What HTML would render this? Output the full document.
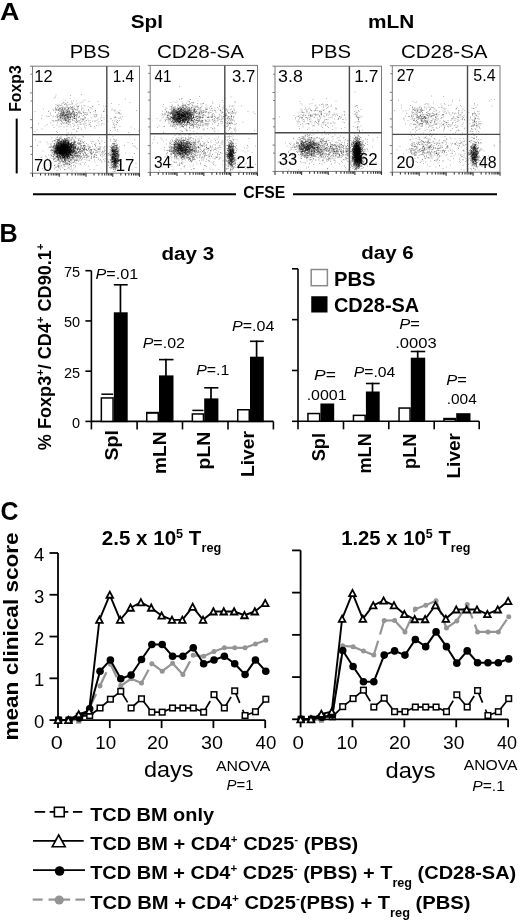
<!DOCTYPE html>
<html><head><meta charset="utf-8"><style>
html,body{margin:0;padding:0;background:#fff;width:520px;height:920px;overflow:hidden}
svg{display:block;filter:blur(0.35px)}
</style></head><body>
<svg width="520" height="920" viewBox="0 0 520 920" font-family='"Liberation Sans", sans-serif'>
<rect width="520" height="920" fill="#fff"/>
<line x1="16.70" y1="118.60" x2="16.70" y2="173.40" stroke="#000" stroke-width="2"/>
<line x1="33.00" y1="194.30" x2="236.00" y2="194.30" stroke="#000" stroke-width="2"/>
<line x1="293.00" y1="194.30" x2="497.00" y2="194.30" stroke="#000" stroke-width="2"/>
<path transform="scale(0.5)" stroke="#000" stroke-width="2" stroke-opacity="0.27" fill="none" d="M139 197h2m109 1h2m-75 5h2m-53 2h2m-10 5h2m-5 1h2m3 0h2m45 0h2m37 1h2m-77 2h2m1 0h2m5 1h2m2 1h2m-38 1h2m25 0h2m-20 1h2m1 0h2m12 0h2m-2 0h2m25 0h2m19 0h2m-40 1h2m-34 1h2m1 0h2m31 0h2m77 2h2m-134 1h2m108 0h2m-84 1h2m7 0h2m55 0h2m39 0h2m-107 1h2m5 0h2m0 0h2m20 0h2m11 0h2m-72 1h2m20 0h2m15 0h2m6 0h2m-24 1h2m18 0h2m88 0h2m-137 1h2m13 0h2m9 0h2m2 0h2m3 0h2m-17 1h2m3 0h2m4 0h2m6 0h2m2 0h2m0 0h2m-25 1h2m0 0h2m3 0h2m-2 0h2m2 0h2m12 0h2m-21 1h2m-24 1h2m19 1h2m6 0h2m-18 1h2m24 0h2m21 0h2m20 0h2m-74 2h2m0 0h2m9 0h2m-5 3h2m-10 2h2m-1 0h2m7 0h2m47 0h2m-42 1h2m-10 1h2m-33 3h2m12 0h2m16 0h2m-15 2h2m17 0h2m21 0h2m-70 1h2m41 0h2m88 0h2m4 0h2m-37 1h2m-43 4h2m10 0h2m-49 18h2m22 0h2m-9 3h2m-22 1h2m1 0h2m27 0h2m-42 2h2m11 0h2m9 0h2m9 0h2m8 0h2m-28 1h2m0 1h2m-17 1h2m-2 0h2m11 0h2m2 0h2m-27 1h2m4 0h2m10 0h2m4 0h2m1 0h2m-33 1h2m7 0h2m-1 0h2m4 0h2m-1 0h2m4 0h2m-1 0h2m8 0h2m-28 1h2m4 0h2m1 0h2m12 0h2m-21 1h2m5 0h2m1 0h2m-1 0h2m12 0h2m-31 1h2m0 0h2m-1 0h2m-1 0h2m5 0h2m0 0h2m0 0h2m3 0h2m-1 0h2m13 0h2m-38 1h2m5 0h2m5 0h2m1 0h2m-2 0h2m10 0h2m-1 0h2m13 0h2m2 0h2m4 0h2m-48 1h2m7 0h2m0 0h2m4 0h2m0 0h2m-29 1h2m12 0h2m1 0h2m2 0h2m1 0h2m1 0h2m-1 0h2m13 0h2m-51 1h2m12 0h2m1 0h2m1 0h2m-2 0h2m-1 0h2m-1 0h2m-1 0h2m0 0h2m0 0h2m-2 0h2m-1 0h2m-26 1h2m0 0h2m0 0h2m3 0h2m0 0h2m1 0h2m2 0h2m2 0h2m-2 0h2m-2 0h2m-1 0h2m0 0h2m5 0h2m-1 0h2m-1 0h2m82 0h2m0 0h2m0 0h2m-128 1h2m3 0h2m5 0h2m1 0h2m-2 0h2m-2 0h2m1 0h2m1 0h2m-2 0h2m0 0h2m3 0h2m-1 0h2m-2 0h2m2 0h2m-2 0h2m1 0h2m7 0h2m-37 1h2m0 0h2m4 0h2m2 0h2m-2 0h2m-1 0h2m3 0h2m-24 1h2m-1 0h2m0 0h2m4 0h2m0 0h2m-1 0h2m0 0h2m3 0h2m-1 0h2m-2 0h2m4 0h2m4 0h2m3 0h2m-2 0h2m16 0h2m-56 1h2m-1 0h2m2 0h2m2 0h2m-1 0h2m-2 0h2m-1 0h2m-1 0h2m-1 0h2m0 0h2m0 0h2m0 0h2m-2 0h2m-2 0h2m3 0h2m2 0h2m0 0h2m3 0h2m5 0h2m70 0h2m-118 1h2m3 0h2m-1 0h2m3 0h2m-2 0h2m-2 0h2m-2 0h2m-1 0h2m-2 0h2m-1 0h2m-1 0h2m-2 0h2m1 0h2m0 0h2m-1 0h2m-2 0h2m-2 0h2m-1 0h2m-2 0h2m-1 0h2m1 0h2m0 0h2m8 0h2m47 0h2m23 0h2m-2 0h2m-2 0h2m-112 1h2m6 0h2m-2 0h2m2 0h2m-2 0h2m-1 0h2m1 0h2m-2 0h2m3 0h2m10 0h2m0 0h2m0 0h2m7 0h2m2 0h2m-41 1h2m-2 0h2m-1 0h2m-2 0h2m-2 0h2m0 0h2m3 0h2m-2 0h2m-2 0h2m0 0h2m-2 0h2m0 0h2m-1 0h2m-1 0h2m-1 0h2m-2 0h2m58 0h2m22 0h2m-1 0h2m-110 1h2m2 0h2m-1 0h2m3 0h2m-1 0h2m1 0h2m-2 0h2m-2 0h2m-1 0h2m-1 0h2m-1 0h2m-2 0h2m1 0h2m0 0h2m14 0h2m13 0h2m14 0h2m1 0h2m36 0h2m-122 1h2m9 0h2m1 0h2m0 0h2m-1 0h2m-1 0h2m0 0h2m1 0h2m-2 0h2m-1 0h2m-1 0h2m-1 0h2m-1 0h2m-1 0h2m0 0h2m0 0h2m-1 0h2m3 0h2m0 0h2m-1 0h2m16 0h2m-1 0h2m9 0h2m-75 1h2m7 0h2m0 0h2m3 0h2m2 0h2m-2 0h2m0 0h2m-2 0h2m1 0h2m1 0h2m-2 0h2m-2 0h2m-1 0h2m2 0h2m-2 0h2m83 0h2m-1 0h2m8 0h2m1 0h2m-153 1h2m30 0h2m0 0h2m2 0h2m1 0h2m-1 0h2m-1 0h2m-1 0h2m0 0h2m-2 0h2m-1 0h2m3 0h2m8 0h2m75 0h2m-2 0h2m-1 0h2m1 0h2m3 0h2m-126 1h2m8 0h2m-2 0h2m-2 0h2m-1 0h2m-2 0h2m1 0h2m-1 0h2m-2 0h2m-1 0h2m-2 0h2m-2 0h2m0 0h2m-2 0h2m4 0h2m-1 0h2m1 0h2m-1 0h2m0 0h2m-1 0h2m3 0h2m2 0h2m0 0h2m5 0h2m47 0h2m17 0h2m-1 0h2m0 0h2m1 0h2m-128 1h2m9 0h2m-1 0h2m-1 0h2m-2 0h2m-1 0h2m1 0h2m4 0h2m-1 0h2m-2 0h2m-1 0h2m7 0h2m-1 0h2m-1 0h2m-1 0h2m35 0h2m44 0h2m-1 0h2m0 0h2m1 0h2m-126 1h2m2 0h2m-2 0h2m-1 0h2m7 0h2m-2 0h2m0 0h2m-2 0h2m0 0h2m-1 0h2m0 0h2m-1 0h2m1 0h2m-2 0h2m0 0h2m0 0h2m3 0h2m40 0h2m6 0h2m41 0h2m-130 1h2m-2 0h2m-2 0h2m10 0h2m1 0h2m-2 0h2m1 0h2m0 0h2m-2 0h2m-1 0h2m4 0h2m-1 0h2m0 0h2m-1 0h2m-2 0h2m-2 0h2m1 0h2m-1 0h2m25 0h2m52 0h2m5 0h2m-1 0h2m-118 1h2m0 0h2m-1 0h2m0 0h2m-2 0h2m3 0h2m5 0h2m-1 0h2m13 0h2m-2 0h2m66 0h2m9 0h2m-1 0h2m1 0h2m-1 0h2m-124 1h2m10 0h2m4 0h2m1 0h2m-2 0h2m5 0h2m6 0h2m0 0h2m2 0h2m28 0h2m5 0h2m19 0h2m13 0h2m-1 0h2m-1 0h2m3 0h2m-121 1h2m5 0h2m9 0h2m0 0h2m4 0h2m66 0h2m15 0h2m1 0h2m5 0h2m-1 0h2m-120 1h2m5 0h2m-1 0h2m3 0h2m-2 0h2m12 0h2m42 0h2m30 0h2m1 0h2m1 0h2m0 0h2m-129 1h2m13 0h2m4 0h2m-1 0h2m-2 0h2m-1 0h2m-1 0h2m2 0h2m2 0h2m2 0h2m26 0h2m24 0h2m-82 1h2m0 0h2m3 0h2m3 0h2m-1 0h2m6 0h2m-2 0h2m-2 0h2m1 0h2m9 0h2m81 0h2m1 0h2m-122 1h2m-2 0h2m10 0h2m8 0h2m2 0h2m20 0h2m61 0h2m-113 1h2m10 0h2m0 0h2m2 0h2m3 0h2m6 0h2m8 0h2m10 0h2m7 0h2m11 0h2m35 0h2m1 0h2m2 0h2m-1 0h2m-115 1h2m6 0h2m13 0h2m22 0h2m55 0h2m-110 1h2m11 0h2m3 0h2m-2 0h2m90 0h2m1 0h2m4 0h2m-117 1h2m7 0h2m50 0h2m30 0h2m12 0h2m0 0h2m-1 0h2m2 0h2m-129 1h2m12 0h2m12 0h2m15 0h2m82 0h2m-92 1h2m-15 1h2m94 0h2m4 0h2m-98 1h2m7 0h2m5 0h2m20 0h2m41 0h2m4 0h2m0 0h2m4 0h2m-126 1h2m96 0h2m18 0h2m-104 1h2m2 0h2m6 0h2m82 0h2m-1 0h2m0 0h2m-1 0h2m-2 0h2m1 0h2m2 0h2m-134 1h2m17 0h2m102 0h2m1 0h2m1 0h2m-2 0h2m-1 0h2m1 0h2m-2 0h2m-111 1h2m95 0h2m-1 0h2m6 0h2m-81 1h2m75 0h2m0 0h2m-1 0h2m-5 1h2m-91 1h2m79 1h2m8 0h2m-136 1h2m131 0h2m-115 1h2m27 0h2m74 0h2m7 0h2m-98 1h2m84 0h2m3 0h2m4 0h2m-105 1h2m93 0h2m-110 1h2m106 0h2m0 0h2m1 0h2m-2 1h2m-1 1h2m-112 3h2m17 0h2m2 3h2m6 0h2"/>
<path transform="scale(0.5)" stroke="#000" stroke-width="2" stroke-opacity="0.27" fill="none" d="M111 190h2m16 19h2m10 0h2m54 0h2m-46 3h2m7 0h2m5 0h2m-15 1h2m52 0h2m-95 1h2m5 1h2m10 0h2m4 0h2m-1 0h2m-26 2h2m9 0h2m4 0h2m-19 1h2m3 0h2m-14 1h2m11 0h2m17 1h2m0 0h2m82 0h2m-77 2h2m-27 1h2m-5 1h2m15 0h2m-22 1h2m1 0h2m23 0h2m-38 1h2m9 0h2m4 0h2m24 0h2m-13 1h2m17 0h2m-49 1h2m13 0h2m10 0h2m92 0h2m-110 1h2m12 0h2m21 0h2m-59 1h2m42 0h2m3 0h2m25 0h2m-108 1h2m16 0h2m20 0h2m5 0h2m34 0h2m-45 1h2m-2 0h2m2 0h2m-2 0h2m2 0h2m15 1h2m-22 1h2m4 0h2m21 0h2m43 0h2m-75 1h2m39 0h2m35 0h2m-74 1h2m-1 0h2m-18 1h2m7 0h2m16 0h2m73 0h2m-99 1h2m3 0h2m20 0h2m21 0h2m18 0h2m-66 1h2m31 0h2m-30 1h2m-27 1h2m9 1h2m52 0h2m-38 1h2m-8 1h2m-8 1h2m25 0h2m-31 2h2m16 0h2m57 0h2m-76 1h2m48 1h2m11 2h2m-48 2h2m40 0h2m49 0h2m-134 2h2m52 1h2m-7 1h2m-85 2h2m77 3h2m-42 1h2m28 3h2m68 0h2m-81 5h2m63 4h2m-82 1h2m-7 2h2m1 1h2m-1 0h2m5 0h2m21 0h2m-31 1h2m111 0h2m-107 1h2m-1 0h2m30 0h2m-39 2h2m4 0h2m18 0h2m11 0h2m-36 1h2m-1 0h2m6 0h2m-1 0h2m-21 1h2m15 0h2m7 0h2m0 0h2m-31 1h2m-1 0h2m1 0h2m2 0h2m2 0h2m1 0h2m0 0h2m0 0h2m18 0h2m0 0h2m31 0h2m-92 1h2m12 0h2m3 0h2m3 0h2m6 0h2m2 0h2m7 0h2m-1 0h2m115 0h2m-154 1h2m1 0h2m-1 0h2m0 0h2m2 0h2m13 0h2m1 0h2m-2 0h2m-41 1h2m9 0h2m1 0h2m2 0h2m0 0h2m-2 0h2m-1 0h2m1 0h2m-1 0h2m-1 0h2m-1 0h2m1 0h2m0 0h2m5 0h2m3 0h2m-1 0h2m11 0h2m-44 1h2m-1 0h2m1 0h2m-2 0h2m4 0h2m-2 0h2m-2 0h2m0 0h2m1 0h2m15 0h2m-1 0h2m0 0h2m74 0h2m1 0h2m-119 1h2m1 0h2m1 0h2m0 0h2m-1 0h2m2 0h2m0 0h2m2 0h2m0 0h2m25 0h2m-45 1h2m0 0h2m-1 0h2m4 0h2m0 0h2m-2 0h2m-1 0h2m-1 0h2m4 0h2m1 0h2m4 0h2m21 0h2m-71 1h2m9 0h2m1 0h2m-2 0h2m0 0h2m1 0h2m-1 0h2m-1 0h2m-1 0h2m-2 0h2m-2 0h2m-2 0h2m1 0h2m1 0h2m0 0h2m-1 0h2m-1 0h2m1 0h2m7 0h2m-37 1h2m6 0h2m1 0h2m-2 0h2m-1 0h2m-1 0h2m3 0h2m-1 0h2m-2 0h2m4 0h2m-1 0h2m-1 0h2m0 0h2m-2 0h2m0 0h2m4 0h2m0 0h2m74 0h2m0 0h2m-1 0h2m-1 0h2m-1 0h2m6 0h2m-143 1h2m13 0h2m2 0h2m0 0h2m-2 0h2m-1 0h2m0 0h2m-1 0h2m1 0h2m4 0h2m-1 0h2m8 0h2m2 0h2m-2 0h2m1 0h2m28 0h2m42 0h2m8 0h2m-129 1h2m5 0h2m2 0h2m-1 0h2m0 0h2m-1 0h2m-2 0h2m-1 0h2m-2 0h2m-2 0h2m-1 0h2m-2 0h2m-1 0h2m-2 0h2m-2 0h2m0 0h2m-1 0h2m-2 0h2m0 0h2m-1 0h2m-1 0h2m-2 0h2m3 0h2m3 0h2m0 0h2m5 0h2m9 0h2m14 0h2m47 0h2m-118 1h2m0 0h2m0 0h2m6 0h2m-1 0h2m-1 0h2m-2 0h2m-2 0h2m0 0h2m-1 0h2m-2 0h2m-1 0h2m-1 0h2m-1 0h2m-1 0h2m4 0h2m1 0h2m4 0h2m7 0h2m70 0h2m5 0h2m-126 1h2m-2 0h2m1 0h2m-2 0h2m-2 0h2m4 0h2m-1 0h2m0 0h2m0 0h2m-2 0h2m0 0h2m-1 0h2m-2 0h2m3 0h2m0 0h2m1 0h2m-1 0h2m0 0h2m1 0h2m2 0h2m8 0h2m0 0h2m4 0h2m5 0h2m15 0h2m37 0h2m2 0h2m-131 1h2m7 0h2m-1 0h2m0 0h2m0 0h2m-1 0h2m1 0h2m-1 0h2m-2 0h2m0 0h2m0 0h2m0 0h2m-1 0h2m-1 0h2m-2 0h2m1 0h2m-1 0h2m10 0h2m32 0h2m-69 1h2m2 0h2m-2 0h2m1 0h2m-2 0h2m3 0h2m-2 0h2m0 0h2m-1 0h2m-1 0h2m-1 0h2m2 0h2m1 0h2m-2 0h2m1 0h2m1 0h2m9 0h2m16 0h2m-2 0h2m50 0h2m4 0h2m6 0h2m-140 1h2m11 0h2m-2 0h2m-1 0h2m-1 0h2m-2 0h2m1 0h2m-2 0h2m2 0h2m1 0h2m-1 0h2m0 0h2m0 0h2m1 0h2m-1 0h2m3 0h2m7 0h2m40 0h2m37 0h2m-128 1h2m10 0h2m4 0h2m-2 0h2m-1 0h2m3 0h2m-2 0h2m1 0h2m-1 0h2m-1 0h2m-1 0h2m-2 0h2m0 0h2m-1 0h2m5 0h2m0 0h2m-2 0h2m-2 0h2m1 0h2m9 0h2m2 0h2m62 0h2m-2 0h2m-117 1h2m-1 0h2m1 0h2m-1 0h2m4 0h2m-2 0h2m0 0h2m-1 0h2m-1 0h2m-2 0h2m8 0h2m-2 0h2m-1 0h2m-2 0h2m1 0h2m-2 0h2m1 0h2m-1 0h2m13 0h2m20 0h2m15 0h2m3 0h2m17 0h2m-1 0h2m-1 0h2m8 0h2m-129 1h2m0 0h2m0 0h2m1 0h2m1 0h2m-2 0h2m-1 0h2m0 0h2m-2 0h2m2 0h2m0 0h2m-1 0h2m1 0h2m-1 0h2m0 0h2m2 0h2m12 0h2m10 0h2m57 0h2m0 0h2m1 0h2m-119 1h2m-1 0h2m-2 0h2m1 0h2m1 0h2m-2 0h2m3 0h2m-2 0h2m2 0h2m-1 0h2m0 0h2m5 0h2m3 0h2m7 0h2m1 0h2m66 0h2m2 0h2m2 0h2m-129 1h2m6 0h2m2 0h2m-1 0h2m0 0h2m1 0h2m2 0h2m0 0h2m-1 0h2m0 0h2m3 0h2m0 0h2m-1 0h2m0 0h2m-1 0h2m89 0h2m-125 1h2m3 0h2m6 0h2m-2 0h2m-2 0h2m0 0h2m-1 0h2m1 0h2m2 0h2m-2 0h2m-2 0h2m6 0h2m9 0h2m1 0h2m25 0h2m-1 0h2m47 0h2m-1 0h2m0 0h2m32 0h2m-161 1h2m4 0h2m0 0h2m-1 0h2m-1 0h2m0 0h2m3 0h2m-2 0h2m0 0h2m-1 0h2m2 0h2m-2 0h2m-1 0h2m-1 0h2m1 0h2m3 0h2m15 0h2m63 0h2m-122 1h2m0 0h2m2 0h2m8 0h2m4 0h2m3 0h2m-1 0h2m6 0h2m4 0h2m64 0h2m7 0h2m2 0h2m0 0h2m-128 1h2m10 0h2m2 0h2m-2 0h2m2 0h2m-1 0h2m8 0h2m-1 0h2m11 0h2m-33 1h2m8 0h2m2 0h2m2 0h2m17 0h2m62 0h2m1 0h2m3 0h2m10 0h2m-130 1h2m18 0h2m0 0h2m-2 0h2m4 0h2m3 0h2m0 0h2m-1 0h2m6 0h2m-1 0h2m73 0h2m1 0h2m4 0h2m-126 1h2m-1 0h2m8 0h2m0 0h2m-1 0h2m5 0h2m91 0h2m-124 1h2m3 0h2m32 0h2m77 0h2m-2 0h2m-1 0h2m-1 0h2m-1 0h2m1 0h2m-2 0h2m1 0h2m-119 1h2m1 0h2m3 0h2m2 0h2m-1 0h2m0 0h2m27 0h2m11 0h2m-76 1h2m5 0h2m36 0h2m12 0h2m64 0h2m1 0h2m-135 1h2m23 0h2m14 0h2m0 0h2m90 0h2m-122 1h2m17 0h2m4 0h2m4 0h2m86 0h2m0 0h2m-116 1h2m-2 0h2m10 0h2m19 0h2m45 0h2m26 0h2m-2 0h2m3 0h2m2 0h2m-122 1h2m39 0h2m6 0h2m14 0h2m48 0h2m6 0h2m2 0h2m-2 0h2m-125 1h2m3 0h2m10 0h2m87 0h2m-107 1h2m4 0h2m3 0h2m71 0h2m-79 1h2m3 0h2m5 0h2m85 0h2m2 0h2m-2 0h2m-105 1h2m20 0h2m82 0h2m-89 1h2m82 0h2m0 0h2m-2 0h2m0 0h2m-99 1h2m81 0h2m11 0h2m-116 1h2m11 0h2m101 0h2m1 0h2m-111 2h2m-3 1h2m9 0h2m0 0h2m1 1h2m49 0h2m35 0h2m-132 1h2m38 1h2m86 0h2m-88 1h2m127 1h2m-154 1h2m100 0h2m5 0h2m-1 7h2"/>
<path transform="scale(0.5)" stroke="#000" stroke-width="2" stroke-opacity="0.27" fill="none" d="M169 200h2m-6 2h2m92 3h2m-117 1h2m-22 1h2m6 1h2m-6 1h2m-7 3h2m60 0h2m-68 3h2m33 0h2m-31 1h2m17 0h2m35 0h2m-68 1h2m20 0h2m-53 1h2m135 0h2m-81 1h2m77 1h2m-87 1h2m13 0h2m84 0h2m-96 1h2m11 0h2m-91 1h2m76 0h2m58 0h2m-88 1h2m10 0h2m-2 0h2m24 0h2m-51 1h2m55 0h2m-37 1h2m45 0h2m-44 1h2m16 0h2m16 0h2m-48 1h2m6 0h2m4 0h2m-14 1h2m9 0h2m-11 1h2m39 0h2m-43 1h2m0 1h2m5 0h2m5 0h2m3 0h2m-59 1h2m22 1h2m10 0h2m0 0h2m2 0h2m-1 0h2m-2 0h2m5 0h2m11 0h2m-46 1h2m6 0h2m2 0h2m3 0h2m3 0h2m2 0h2m87 0h2m-108 1h2m114 0h2m-116 1h2m7 0h2m-1 1h2m-1 0h2m2 0h2m24 0h2m39 0h2m-92 1h2m0 0h2m-4 1h2m14 0h2m18 0h2m-44 1h2m31 0h2m6 0h2m3 0h2m-23 1h2m-16 1h2m47 3h2m5 0h2m-13 2h2m-64 3h2m26 1h2m18 0h2m73 2h2m-82 4h2m84 1h2m-167 4h2m164 0h2m-101 3h2m-22 4h2m18 5h2m5 0h2m-16 2h2m-14 1h2m10 0h2m10 0h2m85 1h2m-98 1h2m-27 1h2m1 0h2m6 0h2m6 0h2m7 0h2m10 0h2m12 0h2m-49 1h2m8 0h2m7 0h2m6 0h2m60 0h2m-89 1h2m3 0h2m6 0h2m50 0h2m-65 1h2m5 0h2m2 0h2m-1 0h2m15 0h2m-33 1h2m7 0h2m3 0h2m3 0h2m-1 0h2m10 0h2m-35 1h2m3 0h2m3 0h2m-1 0h2m2 0h2m5 0h2m24 0h2m-56 1h2m13 0h2m0 0h2m5 0h2m0 0h2m-24 1h2m5 0h2m0 0h2m-1 0h2m0 0h2m-2 0h2m14 0h2m15 0h2m-47 1h2m3 0h2m4 0h2m0 0h2m6 0h2m0 0h2m5 0h2m4 0h2m-38 1h2m1 0h2m1 0h2m2 0h2m2 0h2m1 0h2m-1 0h2m-1 0h2m-1 0h2m-34 1h2m11 0h2m1 0h2m3 0h2m-1 0h2m-1 0h2m2 0h2m-1 0h2m5 0h2m2 0h2m1 0h2m1 0h2m13 0h2m68 0h2m-115 1h2m2 0h2m2 0h2m-2 0h2m-1 0h2m-1 0h2m2 0h2m-1 0h2m-1 0h2m14 0h2m79 0h2m32 0h2m-156 1h2m2 0h2m2 0h2m-1 0h2m1 0h2m-1 0h2m-2 0h2m-1 0h2m2 0h2m-1 0h2m-2 0h2m-2 0h2m-1 0h2m0 0h2m-2 0h2m-1 0h2m-1 0h2m-1 0h2m-2 0h2m1 0h2m-2 0h2m-2 0h2m16 0h2m67 0h2m-116 1h2m-1 0h2m-1 0h2m-2 0h2m0 0h2m-2 0h2m2 0h2m3 0h2m-1 0h2m-1 0h2m6 0h2m24 0h2m6 0h2m0 0h2m28 0h2m5 0h2m3 0h2m-2 0h2m-106 1h2m1 0h2m0 0h2m4 0h2m-1 0h2m-1 0h2m-2 0h2m-1 0h2m-2 0h2m1 0h2m-2 0h2m-2 0h2m1 0h2m-2 0h2m2 0h2m1 0h2m-1 0h2m3 0h2m3 0h2m86 0h2m-124 1h2m2 0h2m1 0h2m-2 0h2m0 0h2m-2 0h2m0 0h2m-2 0h2m7 0h2m5 0h2m10 0h2m70 0h2m-2 0h2m-108 1h2m0 0h2m0 0h2m-2 0h2m-1 0h2m0 0h2m-1 0h2m-2 0h2m-2 0h2m0 0h2m-1 0h2m9 0h2m-26 1h2m0 0h2m0 0h2m-2 0h2m1 0h2m2 0h2m1 0h2m-1 0h2m-1 0h2m-1 0h2m-1 0h2m4 0h2m13 0h2m67 0h2m4 0h2m1 0h2m0 0h2m0 0h2m-127 1h2m5 0h2m-2 0h2m2 0h2m-2 0h2m0 0h2m-2 0h2m-1 0h2m-2 0h2m-2 0h2m1 0h2m-1 0h2m-2 0h2m-1 0h2m0 0h2m-2 0h2m-1 0h2m0 0h2m-1 0h2m8 0h2m27 0h2m4 0h2m41 0h2m-119 1h2m12 0h2m-2 0h2m-2 0h2m3 0h2m-2 0h2m2 0h2m1 0h2m-1 0h2m0 0h2m-1 0h2m-2 0h2m10 0h2m15 0h2m58 0h2m-125 1h2m14 0h2m2 0h2m1 0h2m-1 0h2m2 0h2m-2 0h2m2 0h2m4 0h2m4 0h2m-1 0h2m72 0h2m-1 0h2m5 0h2m-120 1h2m-1 0h2m4 0h2m0 0h2m-1 0h2m-1 0h2m-1 0h2m-1 0h2m-2 0h2m-2 0h2m6 0h2m-1 0h2m-1 0h2m3 0h2m-2 0h2m5 0h2m1 0h2m11 0h2m54 0h2m5 0h2m6 0h2m-130 1h2m4 0h2m0 0h2m1 0h2m-2 0h2m-1 0h2m-1 0h2m1 0h2m-1 0h2m2 0h2m1 0h2m14 0h2m7 0h2m19 0h2m7 0h2m36 0h2m-2 0h2m2 0h2m-1 0h2m6 0h2m-123 1h2m-2 0h2m-1 0h2m0 0h2m-2 0h2m0 0h2m-2 0h2m1 0h2m-2 0h2m-1 0h2m-1 0h2m0 0h2m2 0h2m15 0h2m11 0h2m67 0h2m-116 1h2m-1 0h2m0 0h2m-1 0h2m-2 0h2m-1 0h2m0 0h2m-2 0h2m1 0h2m-1 0h2m-2 0h2m1 0h2m-2 0h2m-2 0h2m5 0h2m0 0h2m27 0h2m19 0h2m1 0h2m31 0h2m2 0h2m-125 1h2m7 0h2m0 0h2m0 0h2m-1 0h2m-2 0h2m-2 0h2m-1 0h2m0 0h2m-1 0h2m-1 0h2m-2 0h2m1 0h2m-1 0h2m1 0h2m-2 0h2m92 0h2m-101 1h2m-1 0h2m-1 0h2m-1 0h2m-2 0h2m77 0h2m4 0h2m8 0h2m3 0h2m4 0h2m-120 1h2m-2 0h2m-2 0h2m3 0h2m3 0h2m1 0h2m1 0h2m-1 0h2m-2 0h2m22 0h2m68 0h2m-1 0h2m-113 1h2m0 0h2m0 0h2m12 0h2m0 0h2m-2 0h2m-2 0h2m-1 0h2m-1 0h2m-1 0h2m79 0h2m-1 0h2m1 0h2m8 0h2m-144 1h2m23 0h2m2 0h2m6 0h2m0 0h2m5 0h2m26 0h2m1 0h2m54 0h2m-2 0h2m4 0h2m-114 1h2m3 0h2m-1 0h2m1 0h2m-1 0h2m7 0h2m4 0h2m8 0h2m3 0h2m61 0h2m3 0h2m0 0h2m-124 1h2m14 0h2m-1 0h2m1 0h2m1 0h2m2 0h2m19 0h2m7 0h2m-2 0h2m65 0h2m-1 0h2m-133 1h2m12 0h2m-1 0h2m-2 0h2m6 0h2m-2 0h2m-1 0h2m0 0h2m1 0h2m9 0h2m64 0h2m12 0h2m4 0h2m2 0h2m-117 1h2m16 0h2m-2 0h2m16 0h2m14 0h2m14 0h2m35 0h2m7 0h2m-155 1h2m43 0h2m-2 0h2m6 0h2m55 0h2m36 0h2m-120 1h2m2 0h2m7 0h2m0 0h2m9 0h2m85 0h2m1 0h2m-1 0h2m-21 1h2m11 0h2m1 0h2m-2 0h2m-108 1h2m-1 0h2m4 0h2m0 0h2m-1 0h2m10 0h2m0 0h2m85 0h2m-110 1h2m5 0h2m10 0h2m80 0h2m-1 0h2m-110 1h2m112 0h2m-1 0h2m0 0h2m-106 1h2m5 0h2m3 0h2m81 0h2m7 0h2m-110 1h2m10 0h2m89 0h2m-1 0h2m-119 1h2m22 0h2m88 0h2m-1 0h2m-8 1h2m7 0h2m-2 0h2m4 0h2m-111 1h2m17 0h2m17 0h2m61 0h2m-1 0h2m-128 1h2m12 0h2m13 0h2m-1 0h2m15 0h2m-33 1h2m14 0h2m5 0h2m82 0h2m-1 0h2m-1 0h2m1 0h2m38 0h2m-157 1h2m19 0h2m-1 1h2m83 0h2m-1 0h2m3 0h2m-4 1h2m-121 1h2m106 0h2m15 0h2m-14 1h2m2 0h2m6 0h2m-119 1h2m106 0h2m3 0h2m2 1h2m-4 1h2m-86 1h2m73 0h2m-140 1h2m144 2h2m13 1h2m-19 3h2"/>
<path transform="scale(0.5)" stroke="#000" stroke-width="2" stroke-opacity="0.27" fill="none" d="M142 202h2m19 3h2m-38 1h2m30 0h2m-8 1h2m-23 3h2m0 0h2m-22 1h2m17 4h2m-5 1h2m11 0h2m8 2h2m-50 1h2m34 0h2m-33 1h2m5 0h2m6 0h2m3 0h2m0 0h2m3 0h2m23 0h2m26 1h2m-2 0h2m-95 1h2m27 0h2m37 0h2m10 0h2m28 0h2m-42 2h2m66 0h2m-57 1h2m-35 1h2m10 0h2m-22 1h2m-21 1h2m16 0h2m99 0h2m-117 1h2m25 0h2m15 0h2m21 0h2m-78 1h2m2 0h2m33 0h2m-26 1h2m18 0h2m-60 1h2m47 0h2m9 0h2m-2 0h2m-44 1h2m7 0h2m14 0h2m11 0h2m-37 1h2m25 0h2m98 0h2m-107 1h2m0 0h2m30 0h2m-50 1h2m12 0h2m44 0h2m-68 1h2m34 0h2m-32 1h2m6 0h2m1 0h2m-1 0h2m-5 1h2m-16 1h2m5 0h2m-19 1h2m21 0h2m16 0h2m75 0h2m8 0h2m-81 2h2m76 2h2m-74 4h2m-50 1h2m54 0h2m9 2h2m-61 1h2m4 1h2m132 0h2m-34 1h2m-61 1h2m-18 1h2m74 3h2m-12 1h2m-69 2h2m-23 8h2m31 2h2m-17 1h2m-17 1h2m-9 2h2m2 0h2m-6 2h2m5 0h2m26 0h2m-41 1h2m14 0h2m0 0h2m-16 1h2m0 0h2m6 0h2m-20 1h2m4 0h2m-2 0h2m0 0h2m6 0h2m-7 1h2m18 0h2m76 0h2m-102 1h2m14 0h2m2 0h2m76 0h2m-104 1h2m3 0h2m3 0h2m5 0h2m21 0h2m-1 0h2m87 0h2m-144 1h2m1 0h2m3 0h2m-1 0h2m4 0h2m3 0h2m-18 1h2m9 0h2m10 0h2m-34 1h2m2 0h2m2 0h2m4 0h2m1 0h2m0 0h2m0 0h2m-2 0h2m2 0h2m-2 0h2m-1 0h2m-1 0h2m-2 0h2m-15 1h2m-2 0h2m-1 0h2m-2 0h2m3 0h2m-1 0h2m1 0h2m-1 0h2m8 0h2m2 0h2m-27 1h2m-1 0h2m5 0h2m-1 0h2m-1 0h2m3 0h2m5 0h2m1 0h2m41 0h2m35 0h2m-120 1h2m1 0h2m0 0h2m-1 0h2m4 0h2m-1 0h2m-2 0h2m-2 0h2m3 0h2m0 0h2m3 0h2m-1 0h2m3 0h2m0 0h2m3 0h2m20 0h2m59 0h2m16 0h2m-134 1h2m-1 0h2m1 0h2m-1 0h2m-2 0h2m0 0h2m-2 0h2m1 0h2m0 0h2m0 0h2m-2 0h2m4 0h2m8 0h2m79 0h2m39 0h2m-169 1h2m14 0h2m1 0h2m0 0h2m5 0h2m-2 0h2m-2 0h2m-1 0h2m-1 0h2m-1 0h2m0 0h2m11 0h2m0 0h2m15 0h2m31 0h2m24 0h2m-124 1h2m7 0h2m-1 0h2m0 0h2m4 0h2m-2 0h2m0 0h2m1 0h2m-1 0h2m-1 0h2m0 0h2m0 0h2m4 0h2m-2 0h2m39 0h2m44 0h2m-116 1h2m1 0h2m1 0h2m-1 0h2m2 0h2m-1 0h2m-1 0h2m3 0h2m2 0h2m-2 0h2m0 0h2m-1 0h2m0 0h2m4 0h2m4 0h2m15 0h2m53 0h2m-110 1h2m-1 0h2m-2 0h2m-2 0h2m-1 0h2m0 0h2m0 0h2m-1 0h2m-1 0h2m3 0h2m-2 0h2m-2 0h2m2 0h2m-2 0h2m1 0h2m2 0h2m2 0h2m-2 0h2m82 0h2m5 0h2m0 0h2m-129 1h2m8 0h2m0 0h2m0 0h2m0 0h2m-2 0h2m-2 0h2m-1 0h2m-1 0h2m-2 0h2m4 0h2m0 0h2m-2 0h2m13 0h2m0 0h2m11 0h2m56 0h2m-115 1h2m4 0h2m2 0h2m6 0h2m-2 0h2m1 0h2m-2 0h2m-2 0h2m-1 0h2m-1 0h2m-2 0h2m-2 0h2m-2 0h2m-1 0h2m-1 0h2m-2 0h2m5 0h2m-2 0h2m4 0h2m-2 0h2m38 0h2m8 0h2m9 0h2m13 0h2m4 0h2m-122 1h2m5 0h2m0 0h2m-1 0h2m-1 0h2m0 0h2m6 0h2m-1 0h2m-1 0h2m0 0h2m4 0h2m-1 0h2m2 0h2m13 0h2m19 0h2m14 0h2m31 0h2m0 0h2m-132 1h2m3 0h2m1 0h2m3 0h2m2 0h2m1 0h2m-1 0h2m1 0h2m0 0h2m-1 0h2m-2 0h2m-1 0h2m-2 0h2m-1 0h2m-1 0h2m-1 0h2m1 0h2m3 0h2m1 0h2m1 0h2m5 0h2m1 0h2m0 0h2m48 0h2m10 0h2m1 0h2m1 0h2m-121 1h2m4 0h2m4 0h2m-1 0h2m-2 0h2m-2 0h2m-1 0h2m-1 0h2m1 0h2m-1 0h2m-2 0h2m0 0h2m-1 0h2m0 0h2m0 0h2m1 0h2m3 0h2m38 0h2m25 0h2m14 0h2m0 0h2m1 0h2m-122 1h2m7 0h2m-2 0h2m-1 0h2m-2 0h2m2 0h2m-2 0h2m1 0h2m-1 0h2m-1 0h2m2 0h2m-2 0h2m-2 0h2m3 0h2m-1 0h2m-1 0h2m-1 0h2m5 0h2m30 0h2m40 0h2m2 0h2m-2 0h2m-122 1h2m2 0h2m10 0h2m0 0h2m-1 0h2m2 0h2m-2 0h2m-1 0h2m-2 0h2m-2 0h2m-1 0h2m-1 0h2m-2 0h2m1 0h2m4 0h2m0 0h2m14 0h2m7 0h2m58 0h2m1 0h2m0 0h2m-111 1h2m-2 0h2m-2 0h2m1 0h2m-1 0h2m-2 0h2m-2 0h2m26 0h2m71 0h2m4 0h2m-116 1h2m-1 0h2m-2 0h2m-1 0h2m0 0h2m0 0h2m-2 0h2m1 0h2m0 0h2m2 0h2m-1 0h2m-1 0h2m-1 0h2m2 0h2m-1 0h2m-1 0h2m55 0h2m23 0h2m-109 1h2m-1 0h2m-2 0h2m-1 0h2m3 0h2m-2 0h2m-1 0h2m0 0h2m-2 0h2m0 0h2m-1 0h2m88 0h2m9 0h2m-124 1h2m-1 0h2m1 0h2m1 0h2m0 0h2m-1 0h2m-2 0h2m1 0h2m-2 0h2m2 0h2m0 0h2m-1 0h2m2 0h2m20 0h2m6 0h2m-48 1h2m6 0h2m7 0h2m1 0h2m3 0h2m69 0h2m2 0h2m6 0h2m0 0h2m2 0h2m-129 1h2m5 0h2m0 0h2m5 0h2m-2 0h2m-1 0h2m-2 0h2m-1 0h2m2 0h2m2 0h2m-2 0h2m-1 0h2m1 0h2m0 0h2m-1 0h2m13 0h2m9 0h2m59 0h2m-1 0h2m-1 0h2m-131 1h2m11 0h2m4 0h2m3 0h2m0 0h2m3 0h2m3 0h2m62 0h2m27 0h2m-117 1h2m6 0h2m-1 0h2m10 0h2m76 0h2m8 0h2m5 0h2m3 0h2m-123 1h2m2 0h2m0 0h2m10 0h2m21 0h2m25 0h2m38 0h2m7 0h2m-127 1h2m4 0h2m-1 0h2m0 0h2m1 0h2m13 0h2m90 0h2m-2 0h2m2 0h2m0 0h2m-150 1h2m40 0h2m2 0h2m4 0h2m127 0h2m-143 1h2m2 0h2m0 0h2m3 0h2m9 0h2m16 0h2m63 0h2m-107 1h2m0 0h2m-1 0h2m44 0h2m49 0h2m2 0h2m-1 0h2m-1 0h2m2 0h2m0 0h2m-121 1h2m11 0h2m-1 0h2m28 0h2m2 0h2m58 0h2m0 0h2m5 0h2m-118 1h2m111 0h2m3 0h2m-107 1h2m1 0h2m6 0h2m79 0h2m6 0h2m-2 0h2m9 0h2m-130 1h2m6 0h2m20 0h2m43 0h2m37 0h2m-1 0h2m-106 1h2m26 0h2m76 0h2m-2 0h2m-1 0h2m-10 1h2m1 0h2m3 0h2m0 0h2m2 0h2m-11 1h2m-113 1h2m12 0h2m70 0h2m19 0h2m2 0h2m-1 0h2m4 0h2m-13 1h2m-1 0h2m0 2h2m4 0h2m-110 1h2m1 2h2m99 0h2m-4 1h2m-1 0h2m0 0h2m-2 1h2m1 0h2m-2 1h2m-7 1h2m0 0h2m-121 1h2m109 0h2m-99 1h2m98 0h2m0 0h2m-121 2h2m18 1h2m1 0h2m54 0h2m38 0h2m34 0h2"/>
<path transform="scale(0.5)" stroke="#000" stroke-width="2" stroke-opacity="0.27" fill="none" d="M195 203h2m25 4h2m-87 2h2m98 0h2m-124 1h2m40 1h2m-26 1h2m5 1h2m-32 2h2m15 1h2m-1 0h2m33 0h2m-54 1h2m6 0h2m2 1h2m-1 0h2m-2 0h2m2 0h2m6 0h2m-22 1h2m10 0h2m4 0h2m91 1h2m-108 1h2m5 1h2m3 0h2m3 1h2m-1 1h2m-10 1h2m4 0h2m12 0h2m-1 0h2m19 0h2m-49 1h2m12 0h2m0 0h2m-20 1h2m9 0h2m5 0h2m18 0h2m-42 1h2m8 0h2m20 0h2m-21 1h2m-24 1h2m11 0h2m8 1h2m-25 1h2m7 0h2m-4 1h2m6 0h2m18 0h2m-20 1h2m1 0h2m95 0h2m-112 1h2m26 0h2m62 0h2m-14 1h2m-120 1h2m40 0h2m22 0h2m11 1h2m4 1h2m-12 2h2m12 0h2m-1 0h2m19 0h2m7 0h2m34 0h2m-126 1h2m19 1h2m17 0h2m12 0h2m-46 1h2m32 0h2m-35 1h2m53 0h2m52 0h2m-105 1h2m62 0h2m-121 1h2m45 0h2m102 0h2m-94 1h2m22 0h2m-39 1h2m78 1h2m-56 1h2m-33 3h2m-5 11h2m108 4h2m-1 4h2m-107 4h2m11 0h2m-3 1h2m23 0h2m67 0h2m-116 1h2m0 0h2m2 0h2m-50 1h2m43 0h2m-1 0h2m8 0h2m3 0h2m-2 0h2m23 0h2m74 0h2m-103 1h2m0 0h2m21 0h2m-36 1h2m-1 0h2m1 0h2m3 0h2m14 0h2m-27 1h2m6 0h2m3 0h2m23 0h2m-69 1h2m29 0h2m1 0h2m2 0h2m-18 1h2m-1 0h2m3 0h2m-2 0h2m7 0h2m2 0h2m-18 1h2m0 0h2m14 0h2m-1 0h2m3 0h2m10 0h2m-38 1h2m6 0h2m-1 0h2m1 0h2m1 0h2m0 0h2m0 0h2m8 0h2m33 0h2m-63 1h2m1 0h2m1 0h2m0 0h2m-2 0h2m-1 0h2m5 0h2m10 0h2m8 0h2m-1 0h2m-42 1h2m-1 0h2m-2 0h2m3 0h2m-2 0h2m0 0h2m4 0h2m0 0h2m-1 0h2m-1 0h2m7 0h2m-36 1h2m-2 0h2m6 0h2m0 0h2m1 0h2m-2 0h2m-1 0h2m-2 0h2m-1 0h2m1 0h2m-2 0h2m7 0h2m-35 1h2m-1 0h2m1 0h2m1 0h2m1 0h2m3 0h2m-2 0h2m-1 0h2m6 0h2m-1 0h2m2 0h2m0 0h2m0 0h2m1 0h2m23 0h2m-53 1h2m-2 0h2m0 0h2m-1 0h2m-2 0h2m1 0h2m-1 0h2m-1 0h2m-2 0h2m1 0h2m0 0h2m-1 0h2m0 0h2m-2 0h2m0 0h2m4 0h2m-1 0h2m1 0h2m20 0h2m53 0h2m8 0h2m-121 1h2m1 0h2m4 0h2m0 0h2m-1 0h2m-1 0h2m-1 0h2m0 0h2m-2 0h2m-1 0h2m-1 0h2m-1 0h2m-1 0h2m-1 0h2m-2 0h2m3 0h2m2 0h2m-2 0h2m10 0h2m27 0h2m-83 1h2m-1 0h2m0 0h2m2 0h2m-1 0h2m0 0h2m-1 0h2m1 0h2m-1 0h2m-2 0h2m5 0h2m-2 0h2m0 0h2m-1 0h2m-1 0h2m8 0h2m1 0h2m88 0h2m36 0h2m-157 1h2m0 0h2m0 0h2m2 0h2m1 0h2m4 0h2m-1 0h2m-1 0h2m0 0h2m-2 0h2m0 0h2m2 0h2m2 0h2m7 0h2m72 0h2m-128 1h2m0 0h2m2 0h2m5 0h2m-2 0h2m-1 0h2m-1 0h2m-1 0h2m4 0h2m-1 0h2m-2 0h2m-2 0h2m-1 0h2m-2 0h2m-1 0h2m-2 0h2m0 0h2m-1 0h2m-1 0h2m-2 0h2m-1 0h2m-2 0h2m-1 0h2m0 0h2m10 0h2m14 0h2m-56 1h2m4 0h2m-2 0h2m1 0h2m-2 0h2m0 0h2m-1 0h2m-2 0h2m-2 0h2m0 0h2m-2 0h2m-2 0h2m-1 0h2m1 0h2m-1 0h2m0 0h2m-2 0h2m6 0h2m3 0h2m50 0h2m-87 1h2m-1 0h2m2 0h2m-2 0h2m-1 0h2m1 0h2m-1 0h2m-2 0h2m-1 0h2m-2 0h2m2 0h2m-1 0h2m-2 0h2m-1 0h2m-2 0h2m2 0h2m2 0h2m0 0h2m14 0h2m-44 1h2m3 0h2m1 0h2m-1 0h2m-2 0h2m-1 0h2m-2 0h2m-2 0h2m-1 0h2m0 0h2m-2 0h2m-1 0h2m-2 0h2m-2 0h2m-1 0h2m-1 0h2m0 0h2m0 0h2m0 0h2m-1 0h2m-2 0h2m14 0h2m7 0h2m5 0h2m2 0h2m59 0h2m-124 1h2m-1 0h2m0 0h2m-1 0h2m-2 0h2m-1 0h2m0 0h2m-1 0h2m-1 0h2m0 0h2m-1 0h2m-2 0h2m0 0h2m1 0h2m-1 0h2m-2 0h2m-1 0h2m-2 0h2m-1 0h2m-2 0h2m-2 0h2m0 0h2m4 0h2m0 0h2m-1 0h2m-2 0h2m-1 0h2m23 0h2m55 0h2m0 0h2m2 0h2m4 0h2m-125 1h2m-2 0h2m0 0h2m-1 0h2m-1 0h2m1 0h2m-2 0h2m0 0h2m0 0h2m-1 0h2m-1 0h2m-2 0h2m-1 0h2m7 0h2m-2 0h2m-2 0h2m1 0h2m-1 0h2m0 0h2m14 0h2m3 0h2m59 0h2m-2 0h2m-116 1h2m-2 0h2m-1 0h2m3 0h2m2 0h2m-1 0h2m2 0h2m-1 0h2m-1 0h2m0 0h2m-1 0h2m-2 0h2m-1 0h2m1 0h2m5 0h2m-33 1h2m1 0h2m-2 0h2m2 0h2m-2 0h2m-1 0h2m2 0h2m4 0h2m3 0h2m-1 0h2m-1 0h2m4 0h2m14 0h2m36 0h2m27 0h2m-1 0h2m-118 1h2m1 0h2m-2 0h2m7 0h2m-2 0h2m1 0h2m-2 0h2m1 0h2m-2 0h2m1 0h2m1 0h2m3 0h2m6 0h2m0 0h2m74 0h2m0 0h2m-111 1h2m-1 0h2m-2 0h2m2 0h2m-1 0h2m-2 0h2m3 0h2m-2 0h2m0 0h2m0 0h2m-1 0h2m2 0h2m-2 0h2m0 0h2m20 0h2m5 0h2m49 0h2m-117 1h2m14 0h2m1 0h2m-1 0h2m2 0h2m1 0h2m5 0h2m4 0h2m-2 0h2m3 0h2m18 0h2m55 0h2m22 0h2m-140 1h2m0 0h2m-2 0h2m1 0h2m-1 0h2m1 0h2m-1 0h2m0 0h2m1 0h2m3 0h2m2 0h2m0 0h2m1 0h2m21 0h2m4 0h2m3 0h2m55 0h2m-1 0h2m-2 0h2m-115 1h2m5 0h2m-2 0h2m7 0h2m1 0h2m-1 0h2m40 0h2m-1 0h2m40 0h2m-103 1h2m-1 0h2m-1 0h2m2 0h2m0 0h2m-1 0h2m-1 0h2m88 0h2m8 0h2m-130 1h2m-1 0h2m15 0h2m0 0h2m2 0h2m-1 0h2m4 0h2m1 0h2m9 0h2m20 0h2m58 0h2m-2 0h2m-118 1h2m-1 0h2m3 0h2m1 0h2m4 0h2m9 0h2m-1 0h2m1 0h2m2 0h2m5 0h2m13 0h2m55 0h2m1 0h2m-111 1h2m0 0h2m1 0h2m-2 0h2m10 0h2m16 0h2m68 0h2m2 0h2m-120 1h2m2 0h2m7 0h2m2 0h2m16 0h2m-2 0h2m25 0h2m51 0h2m-2 0h2m1 0h2m-107 1h2m-2 0h2m8 0h2m82 0h2m-1 0h2m0 0h2m-2 0h2m7 0h2m-110 1h2m-2 0h2m0 0h2m3 0h2m3 0h2m12 0h2m15 0h2m15 0h2m34 0h2m12 0h2m-1 0h2m-125 1h2m5 0h2m-2 0h2m7 0h2m1 0h2m9 0h2m3 0h2m4 0h2m38 0h2m26 0h2m-2 0h2m0 0h2m-92 1h2m0 0h2m-31 1h2m124 0h2m-119 1h2m17 0h2m15 0h2m8 0h2m35 0h2m24 0h2m-122 1h2m35 0h2m76 0h2m6 0h2m-1 0h2m3 0h2m-88 1h2m1 0h2m45 0h2m27 0h2m0 0h2m-4 1h2m1 0h2m-95 1h2m8 0h2m6 0h2m66 0h2m2 0h2m3 0h2m-115 1h2m12 0h2m11 0h2m67 0h2m12 0h2m-5 1h2m3 0h2m-6 2h2m0 0h2m-97 1h2m92 0h2m1 0h2m-1 0h2m-2 0h2m1 0h2m-100 1h2m21 0h2m66 0h2m-2 0h2m-117 1h2m31 0h2m81 1h2m-2 0h2m-105 1h2m21 0h2m74 0h2m7 0h2m-123 1h2m3 0h2m111 0h2m1 0h2m-114 1h2m102 0h2m-1 0h2m-5 1h2m3 0h2m-12 1h2m4 0h2m-129 3h2m129 0h2m-119 2h2m110 2h2"/>
<path transform="scale(0.5)" stroke="#000" stroke-width="2" stroke-opacity="0.27" fill="none" d="M162 189h2m-54 5h2m-4 2h2m42 6h2m-24 5h2m-21 2h2m9 1h2m-8 3h2m66 0h2m-72 2h2m6 0h2m16 2h2m6 1h2m0 1h2m24 0h2m-66 1h2m17 0h2m34 0h2m-63 1h2m18 0h2m-7 1h2m11 0h2m-15 1h2m-1 0h2m2 0h2m18 0h2m8 1h2m-36 1h2m14 0h2m96 0h2m-117 1h2m2 0h2m18 0h2m7 0h2m-29 1h2m-7 1h2m13 0h2m2 0h2m-17 1h2m5 0h2m5 0h2m-11 1h2m0 0h2m67 0h2m-85 1h2m-2 0h2m-1 0h2m1 0h2m3 0h2m16 0h2m-24 1h2m8 0h2m12 0h2m-53 1h2m36 0h2m-22 1h2m3 1h2m7 0h2m96 1h2m-100 1h2m17 0h2m-23 1h2m0 0h2m20 0h2m12 0h2m53 0h2m-85 1h2m5 0h2m-1 1h2m13 0h2m4 0h2m-64 1h2m24 0h2m0 0h2m50 1h2m42 0h2m-68 1h2m33 0h2m15 0h2m16 0h2m-98 1h2m-1 0h2m-7 1h2m18 0h2m6 0h2m63 0h2m-58 1h2m-24 2h2m-4 11h2m15 0h2m112 3h2m-145 4h2m22 4h2m-45 4h2m5 0h2m10 0h2m-22 1h2m6 1h2m20 0h2m-17 1h2m29 0h2m-27 1h2m-14 2h2m7 0h2m2 0h2m131 0h2m-41 1h2m-82 1h2m69 0h2m-104 1h2m1 0h2m-1 0h2m3 0h2m1 0h2m-1 0h2m2 0h2m-1 0h2m47 0h2m43 0h2m-122 1h2m10 0h2m-1 0h2m-1 0h2m71 0h2m-85 1h2m19 0h2m-2 0h2m12 0h2m57 0h2m-90 1h2m10 0h2m-1 0h2m10 0h2m7 0h2m1 0h2m-39 1h2m4 0h2m70 0h2m25 0h2m1 0h2m-1 0h2m-136 1h2m24 0h2m1 0h2m3 0h2m0 0h2m14 0h2m0 0h2m38 0h2m-82 1h2m11 0h2m0 0h2m-1 0h2m-2 0h2m2 0h2m-2 0h2m-2 0h2m5 0h2m-2 0h2m-1 0h2m49 0h2m-73 1h2m-2 0h2m8 0h2m-1 0h2m2 0h2m7 0h2m0 0h2m-2 0h2m0 0h2m21 0h2m57 0h2m-155 1h2m39 0h2m0 0h2m-2 0h2m1 0h2m4 0h2m-2 0h2m3 0h2m5 0h2m2 0h2m-2 0h2m21 0h2m-58 1h2m0 0h2m3 0h2m3 0h2m0 0h2m-1 0h2m-1 0h2m1 0h2m-1 0h2m-1 0h2m3 0h2m-2 0h2m-1 0h2m3 0h2m32 0h2m-2 0h2m2 0h2m9 0h2m40 0h2m0 0h2m-130 1h2m6 0h2m-2 0h2m4 0h2m0 0h2m-1 0h2m-2 0h2m0 0h2m6 0h2m-2 0h2m7 0h2m1 0h2m-1 0h2m2 0h2m57 0h2m13 0h2m-120 1h2m-2 0h2m0 0h2m-2 0h2m1 0h2m5 0h2m0 0h2m-2 0h2m-1 0h2m-1 0h2m-2 0h2m0 0h2m-1 0h2m0 0h2m-1 0h2m-1 0h2m1 0h2m0 0h2m2 0h2m-1 0h2m-2 0h2m1 0h2m4 0h2m10 0h2m63 0h2m-1 0h2m-112 1h2m2 0h2m-1 0h2m1 0h2m1 0h2m1 0h2m-2 0h2m-2 0h2m-1 0h2m-1 0h2m-1 0h2m-1 0h2m-1 0h2m-2 0h2m2 0h2m0 0h2m-1 0h2m-38 1h2m4 0h2m-2 0h2m2 0h2m-1 0h2m1 0h2m-2 0h2m-1 0h2m-2 0h2m-1 0h2m3 0h2m-2 0h2m-1 0h2m-2 0h2m0 0h2m-2 0h2m-1 0h2m-2 0h2m-2 0h2m-1 0h2m0 0h2m-1 0h2m0 0h2m0 0h2m19 0h2m5 0h2m-2 0h2m-61 1h2m-1 0h2m-1 0h2m2 0h2m0 0h2m1 0h2m0 0h2m-1 0h2m-1 0h2m0 0h2m0 0h2m0 0h2m-2 0h2m-2 0h2m-2 0h2m-2 0h2m-1 0h2m-2 0h2m3 0h2m18 0h2m-2 0h2m7 0h2m3 0h2m57 0h2m43 0h2m-161 1h2m-2 0h2m-2 0h2m5 0h2m0 0h2m2 0h2m-2 0h2m0 0h2m-1 0h2m0 0h2m-1 0h2m5 0h2m-2 0h2m-1 0h2m-2 0h2m0 0h2m0 0h2m-1 0h2m8 0h2m36 0h2m-80 1h2m-2 0h2m2 0h2m-2 0h2m-1 0h2m-1 0h2m-1 0h2m-2 0h2m-1 0h2m-1 0h2m-2 0h2m1 0h2m-2 0h2m-2 0h2m0 0h2m-2 0h2m1 0h2m-1 0h2m23 0h2m10 0h2m24 0h2m24 0h2m-2 0h2m-1 0h2m-109 1h2m0 0h2m-1 0h2m-1 0h2m0 0h2m-1 0h2m-2 0h2m1 0h2m0 0h2m-2 0h2m-2 0h2m0 0h2m0 0h2m-1 0h2m-1 0h2m-1 0h2m0 0h2m0 0h2m0 0h2m3 0h2m19 0h2m3 0h2m4 0h2m1 0h2m49 0h2m-122 1h2m2 0h2m-1 0h2m-2 0h2m-1 0h2m-1 0h2m-2 0h2m-1 0h2m-2 0h2m-1 0h2m-1 0h2m0 0h2m-1 0h2m0 0h2m0 0h2m0 0h2m-2 0h2m0 0h2m7 0h2m-1 0h2m28 0h2m51 0h2m-1 0h2m-125 1h2m4 0h2m-1 0h2m-2 0h2m6 0h2m-1 0h2m-2 0h2m-2 0h2m1 0h2m0 0h2m-2 0h2m1 0h2m-2 0h2m0 0h2m0 0h2m-2 0h2m4 0h2m0 0h2m-1 0h2m5 0h2m82 0h2m-1 0h2m-126 1h2m-1 0h2m5 0h2m-1 0h2m-1 0h2m1 0h2m-1 0h2m1 0h2m-1 0h2m-2 0h2m0 0h2m0 0h2m-1 0h2m-1 0h2m-1 0h2m0 0h2m1 0h2m4 0h2m9 0h2m6 0h2m58 0h2m6 0h2m-125 1h2m1 0h2m1 0h2m1 0h2m0 0h2m2 0h2m-1 0h2m-2 0h2m-1 0h2m-1 0h2m-2 0h2m-2 0h2m-1 0h2m-2 0h2m-1 0h2m-1 0h2m-1 0h2m4 0h2m-2 0h2m0 0h2m-1 0h2m4 0h2m6 0h2m-52 1h2m2 0h2m12 0h2m0 0h2m-1 0h2m-1 0h2m3 0h2m-1 0h2m5 0h2m9 0h2m2 0h2m0 0h2m20 0h2m0 0h2m3 0h2m47 0h2m-124 1h2m2 0h2m-2 0h2m1 0h2m-1 0h2m1 0h2m-2 0h2m0 0h2m-1 0h2m-1 0h2m7 0h2m6 0h2m-1 0h2m-1 0h2m3 0h2m6 0h2m35 0h2m27 0h2m1 0h2m-121 1h2m2 0h2m2 0h2m3 0h2m4 0h2m-1 0h2m0 0h2m-1 0h2m15 0h2m8 0h2m21 0h2m37 0h2m1 0h2m0 0h2m-104 1h2m2 0h2m1 0h2m0 0h2m-1 0h2m6 0h2m12 0h2m21 0h2m21 0h2m20 0h2m4 0h2m-120 1h2m4 0h2m0 0h2m0 0h2m0 0h2m3 0h2m0 0h2m-1 0h2m37 0h2m14 0h2m28 0h2m3 0h2m0 0h2m3 0h2m2 0h2m0 0h2m-110 1h2m4 0h2m0 0h2m-1 0h2m32 0h2m15 0h2m30 0h2m2 0h2m6 0h2m-119 1h2m2 0h2m7 0h2m0 0h2m-1 0h2m7 0h2m0 0h2m0 0h2m7 0h2m70 0h2m2 0h2m5 0h2m-148 1h2m10 0h2m18 0h2m1 0h2m49 0h2m29 0h2m15 0h2m-107 1h2m8 0h2m3 0h2m16 0h2m20 0h2m47 0h2m5 0h2m-140 1h2m17 0h2m5 0h2m1 0h2m1 0h2m1 0h2m-2 0h2m4 0h2m11 0h2m77 0h2m0 0h2m-104 1h2m5 0h2m1 0h2m1 0h2m8 0h2m32 0h2m42 0h2m-103 1h2m16 0h2m0 0h2m77 0h2m2 0h2m-48 1h2m47 0h2m-1 0h2m1 0h2m-108 1h2m7 0h2m13 0h2m66 0h2m0 0h2m4 0h2m-2 0h2m1 0h2m-128 1h2m50 0h2m-46 1h2m15 0h2m95 0h2m0 0h2m0 0h2m-2 0h2m-119 1h2m12 0h2m-1 0h2m18 0h2m76 0h2m0 0h2m-1 0h2m-115 1h2m8 0h2m10 0h2m90 0h2m1 0h2m-116 1h2m88 0h2m11 0h2m-1 0h2m2 0h2m1 0h2m-96 1h2m87 0h2m10 0h2m-102 1h2m89 0h2m-101 1h2m88 0h2m10 0h2m-134 1h2m26 1h2m0 0h2m1 0h2m32 0h2m57 1h2m9 0h2m2 0h2m-20 1h2m2 0h2m1 0h2m-111 1h2m114 0h2m-64 1h2m52 0h2m-121 2h2m3 0h2m32 0h2m66 1h2m-111 1h2m114 0h2m-92 1h2m96 0h2m-93 1h2m-54 1h2m87 0h2m-36 1h2"/>
<path transform="scale(0.5)" stroke="#000" stroke-width="2" stroke-opacity="0.27" fill="none" d="M146 201h2m-6 5h2m7 3h2m-5 3h2m-39 1h2m40 0h2m20 0h2m-52 1h2m11 1h2m16 1h2m-39 2h2m8 0h2m-21 1h2m10 0h2m30 0h2m-43 1h2m61 0h2m-63 1h2m7 0h2m6 0h2m138 0h2m-138 1h2m-2 1h2m0 0h2m5 0h2m-37 1h2m14 0h2m11 0h2m-13 1h2m36 0h2m-25 1h2m-24 1h2m115 0h2m-115 1h2m4 0h2m6 1h2m8 0h2m1 0h2m-27 1h2m4 0h2m7 0h2m43 0h2m3 0h2m-69 1h2m-2 0h2m11 0h2m74 0h2m-91 1h2m21 0h2m15 0h2m-51 1h2m15 0h2m9 0h2m42 0h2m2 0h2m-89 1h2m20 0h2m4 0h2m-1 0h2m9 1h2m9 0h2m-34 1h2m18 0h2m-18 1h2m17 0h2m12 0h2m74 0h2m-101 1h2m102 0h2m-129 1h2m34 0h2m78 1h2m-118 1h2m12 0h2m0 0h2m70 0h2m-94 1h2m-6 1h2m28 0h2m0 2h2m10 0h2m-20 2h2m72 1h2m-54 1h2m74 0h2m-61 2h2m54 0h2m-141 1h2m177 6h2m-58 6h2m42 1h2m-40 3h2m-79 2h2m23 4h2m-65 2h2m33 0h2m-3 2h2m81 1h2m-114 2h2m20 0h2m2 0h2m60 0h2m-80 1h2m3 0h2m0 1h2m22 0h2m13 0h2m2 0h2m-93 1h2m1 0h2m49 0h2m1 0h2m-8 1h2m-1 0h2m5 0h2m4 0h2m4 0h2m0 0h2m-25 1h2m6 0h2m-1 0h2m22 0h2m70 0h2m-127 1h2m5 0h2m13 0h2m3 0h2m0 0h2m87 0h2m-109 1h2m1 0h2m4 0h2m2 0h2m2 0h2m-1 0h2m-1 0h2m0 0h2m1 0h2m1 0h2m78 0h2m-1 0h2m0 0h2m-115 1h2m7 0h2m18 0h2m-1 0h2m28 0h2m-66 1h2m0 0h2m5 0h2m1 0h2m3 0h2m-2 0h2m8 0h2m83 0h2m-105 1h2m0 0h2m-1 0h2m-2 0h2m-1 0h2m0 0h2m2 0h2m-2 0h2m2 0h2m30 0h2m-62 1h2m14 0h2m6 0h2m1 0h2m-1 0h2m-1 0h2m3 0h2m-1 0h2m6 0h2m39 0h2m29 0h2m-114 1h2m10 0h2m0 0h2m1 0h2m-1 0h2m-1 0h2m11 0h2m19 0h2m31 0h2m22 0h2m8 0h2m-133 1h2m21 0h2m-2 0h2m-1 0h2m-1 0h2m-2 0h2m1 0h2m2 0h2m-2 0h2m-1 0h2m-2 0h2m-2 0h2m2 0h2m0 0h2m0 0h2m0 0h2m-1 0h2m1 0h2m85 0h2m-134 1h2m14 0h2m3 0h2m1 0h2m-2 0h2m1 0h2m0 0h2m-1 0h2m-1 0h2m-2 0h2m-2 0h2m2 0h2m0 0h2m-2 0h2m0 0h2m2 0h2m-1 0h2m4 0h2m27 0h2m51 0h2m0 0h2m-121 1h2m5 0h2m-1 0h2m1 0h2m-2 0h2m-2 0h2m-2 0h2m0 0h2m5 0h2m-2 0h2m0 0h2m-2 0h2m-2 0h2m-1 0h2m6 0h2m15 0h2m3 0h2m22 0h2m-81 1h2m-2 0h2m-1 0h2m-2 0h2m5 0h2m-2 0h2m0 0h2m-2 0h2m-2 0h2m-1 0h2m-2 0h2m-2 0h2m1 0h2m4 0h2m6 0h2m6 0h2m-2 0h2m25 0h2m-1 0h2m-68 1h2m5 0h2m3 0h2m1 0h2m-2 0h2m0 0h2m1 0h2m-2 0h2m-2 0h2m-2 0h2m3 0h2m3 0h2m2 0h2m7 0h2m76 0h2m-115 1h2m3 0h2m-1 0h2m-2 0h2m-2 0h2m-1 0h2m-2 0h2m3 0h2m0 0h2m-2 0h2m-1 0h2m-2 0h2m1 0h2m1 0h2m2 0h2m6 0h2m12 0h2m61 0h2m-2 0h2m-130 1h2m13 0h2m3 0h2m-2 0h2m-2 0h2m-2 0h2m-1 0h2m-2 0h2m-1 0h2m2 0h2m-2 0h2m-1 0h2m-2 0h2m-2 0h2m2 0h2m1 0h2m0 0h2m0 0h2m13 0h2m70 0h2m-1 0h2m-2 0h2m-127 1h2m3 0h2m0 0h2m-1 0h2m0 0h2m2 0h2m3 0h2m0 0h2m-2 0h2m-2 0h2m2 0h2m1 0h2m0 0h2m-1 0h2m-2 0h2m-1 0h2m-2 0h2m3 0h2m0 0h2m0 0h2m1 0h2m13 0h2m60 0h2m5 0h2m-115 1h2m3 0h2m-1 0h2m0 0h2m-1 0h2m-2 0h2m-2 0h2m0 0h2m-2 0h2m-1 0h2m-2 0h2m-2 0h2m-1 0h2m-2 0h2m0 0h2m-1 0h2m1 0h2m-1 0h2m7 0h2m3 0h2m51 0h2m20 0h2m3 0h2m-123 1h2m2 0h2m0 0h2m-1 0h2m-1 0h2m-1 0h2m-2 0h2m-2 0h2m3 0h2m-1 0h2m0 0h2m-1 0h2m0 0h2m-2 0h2m0 0h2m0 0h2m2 0h2m0 0h2m-2 0h2m3 0h2m-1 0h2m45 0h2m28 0h2m4 0h2m-130 1h2m5 0h2m-1 0h2m-1 0h2m9 0h2m2 0h2m-2 0h2m0 0h2m-2 0h2m2 0h2m-1 0h2m-1 0h2m1 0h2m9 0h2m0 0h2m55 0h2m18 0h2m-1 0h2m1 0h2m-120 1h2m2 0h2m-1 0h2m0 0h2m0 0h2m-1 0h2m0 0h2m-1 0h2m-1 0h2m0 0h2m-1 0h2m4 0h2m2 0h2m-2 0h2m4 0h2m-1 0h2m2 0h2m5 0h2m69 0h2m-114 1h2m2 0h2m0 0h2m-1 0h2m-1 0h2m0 0h2m1 0h2m-1 0h2m1 0h2m-2 0h2m-1 0h2m1 0h2m-1 0h2m0 0h2m2 0h2m6 0h2m-1 0h2m49 0h2m21 0h2m1 0h2m-118 1h2m1 0h2m-2 0h2m0 0h2m-2 0h2m0 0h2m-1 0h2m8 0h2m1 0h2m-29 1h2m3 0h2m3 0h2m0 0h2m3 0h2m1 0h2m5 0h2m3 0h2m82 0h2m-97 1h2m3 0h2m0 0h2m83 0h2m6 0h2m-117 1h2m0 0h2m6 0h2m1 0h2m1 0h2m-1 0h2m6 0h2m-1 0h2m-2 0h2m63 0h2m21 0h2m-1 0h2m1 0h2m-126 1h2m7 0h2m2 0h2m6 0h2m-2 0h2m40 0h2m48 0h2m4 0h2m-95 1h2m0 0h2m-2 0h2m0 0h2m8 0h2m36 0h2m-67 1h2m1 0h2m3 0h2m1 0h2m-1 0h2m1 0h2m-1 0h2m43 0h2m4 0h2m39 0h2m-117 1h2m2 0h2m3 0h2m4 0h2m3 0h2m25 0h2m58 0h2m3 0h2m-2 0h2m0 0h2m0 0h2m0 0h2m-120 1h2m-1 0h2m3 0h2m6 0h2m10 0h2m1 0h2m86 0h2m-124 1h2m9 0h2m5 0h2m0 0h2m1 0h2m1 0h2m3 0h2m83 0h2m0 0h2m-120 1h2m12 0h2m21 0h2m81 0h2m0 0h2m-118 1h2m6 0h2m81 1h2m16 0h2m-1 0h2m-1 0h2m1 0h2m-2 0h2m-1 0h2m1 0h2m-1 0h2m0 0h2m-110 1h2m-2 0h2m-2 0h2m-1 0h2m42 0h2m40 0h2m10 0h2m-1 0h2m-2 0h2m6 0h2m-79 1h2m60 0h2m4 0h2m-1 0h2m2 0h2m-9 1h2m1 0h2m-121 1h2m105 0h2m-76 1h2m45 0h2m42 0h2m-9 1h2m0 0h2m-1 1h2m-8 1h2m2 0h2m1 0h2m2 0h2m-104 1h2m23 0h2m67 0h2m1 0h2m1 1h2m-113 1h2m-7 1h2m109 0h2m0 0h2m-5 1h2m5 0h2m-99 3h2m93 0h2m-95 1h2m93 0h2m-5 1h2m-6 2h2m-1 0h2m-142 2h2m142 1h2"/>
<path transform="scale(0.5)" stroke="#000" stroke-width="2" stroke-opacity="0.27" fill="none" d="M140 191h2m-12 9h2m2 5h2m8 3h2m-2 5h2m9 0h2m-11 1h2m31 1h2m-16 1h2m-19 1h2m-8 1h2m64 0h2m-59 1h2m-34 1h2m-4 1h2m4 0h2m10 0h2m9 1h2m-30 1h2m14 0h2m-2 0h2m51 0h2m-65 1h2m0 0h2m7 0h2m7 0h2m-1 0h2m10 0h2m-28 1h2m15 0h2m88 0h2m-124 1h2m25 0h2m-26 1h2m7 0h2m31 0h2m68 0h2m-112 1h2m18 0h2m5 0h2m-26 1h2m9 0h2m-1 0h2m9 0h2m25 0h2m17 1h2m-77 1h2m9 0h2m2 0h2m6 0h2m6 0h2m-27 1h2m10 0h2m3 0h2m-29 1h2m26 0h2m14 0h2m69 0h2m13 0h2m-123 1h2m14 0h2m14 0h2m-17 1h2m-1 0h2m88 0h2m-93 1h2m7 0h2m1 0h2m-23 1h2m15 0h2m19 0h2m-7 1h2m-41 1h2m11 0h2m1 0h2m-4 1h2m-15 1h2m5 0h2m1 0h2m-21 1h2m15 0h2m16 0h2m10 0h2m23 0h2m-2 0h2m-42 1h2m0 1h2m-16 1h2m-18 1h2m43 2h2m9 1h2m-39 1h2m-9 3h2m46 0h2m-42 1h2m82 1h2m-38 1h2m37 0h2m-147 2h2m47 2h2m29 10h2m-17 2h2m-6 4h2m-32 3h2m7 0h2m2 0h2m1 0h2m-15 1h2m11 0h2m5 0h2m3 0h2m-21 1h2m-11 1h2m3 0h2m14 0h2m-17 1h2m4 0h2m3 0h2m-6 1h2m-2 0h2m0 0h2m-2 0h2m5 0h2m47 0h2m-71 1h2m3 0h2m4 0h2m2 0h2m-16 1h2m0 0h2m0 0h2m2 0h2m4 0h2m3 0h2m0 0h2m7 0h2m-33 1h2m4 0h2m-2 0h2m0 0h2m0 0h2m-1 0h2m1 0h2m4 0h2m1 0h2m1 0h2m11 0h2m15 0h2m51 0h2m-119 1h2m6 0h2m-1 0h2m-1 0h2m1 0h2m4 0h2m7 0h2m3 0h2m-2 0h2m56 0h2m-89 1h2m8 0h2m-1 0h2m2 0h2m3 0h2m-1 0h2m8 0h2m89 0h2m-119 1h2m-2 0h2m5 0h2m-1 0h2m-1 0h2m1 0h2m-1 0h2m3 0h2m2 0h2m3 0h2m7 0h2m78 0h2m-111 1h2m-2 0h2m1 0h2m4 0h2m6 0h2m18 0h2m4 0h2m-58 1h2m-1 0h2m0 0h2m6 0h2m-1 0h2m2 0h2m-2 0h2m0 0h2m-1 0h2m1 0h2m-2 0h2m-1 0h2m-1 0h2m-1 0h2m4 0h2m-18 1h2m-2 0h2m-1 0h2m0 0h2m-1 0h2m0 0h2m-2 0h2m-2 0h2m1 0h2m-1 0h2m-27 1h2m2 0h2m-1 0h2m4 0h2m-1 0h2m-1 0h2m-1 0h2m-2 0h2m-1 0h2m-1 0h2m-1 0h2m-2 0h2m-2 0h2m2 0h2m0 0h2m11 0h2m28 0h2m-69 1h2m0 0h2m1 0h2m0 0h2m-2 0h2m6 0h2m-2 0h2m-1 0h2m-2 0h2m-2 0h2m0 0h2m0 0h2m-1 0h2m-1 0h2m-1 0h2m0 0h2m-1 0h2m-1 0h2m3 0h2m5 0h2m4 0h2m63 0h2m-108 1h2m3 0h2m-2 0h2m8 0h2m-2 0h2m-1 0h2m-2 0h2m0 0h2m1 0h2m1 0h2m6 0h2m3 0h2m47 0h2m4 0h2m18 0h2m2 0h2m0 0h2m-120 1h2m0 0h2m0 0h2m-2 0h2m-1 0h2m-2 0h2m3 0h2m2 0h2m0 0h2m-1 0h2m1 0h2m-2 0h2m-2 0h2m-1 0h2m0 0h2m1 0h2m26 0h2m52 0h2m7 0h2m-123 1h2m-1 0h2m2 0h2m1 0h2m-1 0h2m3 0h2m-2 0h2m1 0h2m0 0h2m-2 0h2m0 0h2m-2 0h2m3 0h2m1 0h2m91 0h2m0 0h2m-131 1h2m6 0h2m-1 0h2m-2 0h2m3 0h2m-2 0h2m3 0h2m0 0h2m-2 0h2m0 0h2m-1 0h2m-1 0h2m-1 0h2m-1 0h2m-1 0h2m-1 0h2m0 0h2m1 0h2m-1 0h2m16 0h2m59 0h2m5 0h2m1 0h2m1 0h2m-128 1h2m4 0h2m-1 0h2m-1 0h2m0 0h2m-2 0h2m0 0h2m-2 0h2m-1 0h2m-2 0h2m1 0h2m-2 0h2m-1 0h2m1 0h2m-2 0h2m1 0h2m0 0h2m1 0h2m1 0h2m-2 0h2m3 0h2m2 0h2m19 0h2m20 0h2m4 0h2m2 0h2m28 0h2m-119 1h2m-2 0h2m8 0h2m0 0h2m0 0h2m-2 0h2m0 0h2m-1 0h2m-2 0h2m-2 0h2m11 0h2m35 0h2m11 0h2m34 0h2m-122 1h2m-1 0h2m1 0h2m-1 0h2m-1 0h2m3 0h2m0 0h2m-1 0h2m0 0h2m0 0h2m-2 0h2m0 0h2m-1 0h2m2 0h2m-2 0h2m1 0h2m1 0h2m21 0h2m-1 0h2m70 0h2m-129 1h2m8 0h2m-1 0h2m-1 0h2m-1 0h2m1 0h2m0 0h2m-2 0h2m0 0h2m-1 0h2m1 0h2m0 0h2m2 0h2m-1 0h2m-2 0h2m2 0h2m2 0h2m75 0h2m-1 0h2m4 0h2m-1 0h2m-126 1h2m-1 0h2m2 0h2m5 0h2m-2 0h2m0 0h2m0 0h2m-1 0h2m-1 0h2m-1 0h2m0 0h2m0 0h2m1 0h2m-1 0h2m1 0h2m79 0h2m12 0h2m-2 0h2m-1 0h2m-1 0h2m-126 1h2m1 0h2m-1 0h2m-1 0h2m0 0h2m3 0h2m0 0h2m-2 0h2m-1 0h2m-1 0h2m-2 0h2m-2 0h2m0 0h2m0 0h2m0 0h2m1 0h2m-2 0h2m-2 0h2m1 0h2m-2 0h2m1 0h2m36 0h2m47 0h2m-124 1h2m5 0h2m1 0h2m0 0h2m-2 0h2m0 0h2m-1 0h2m-1 0h2m-2 0h2m-1 0h2m-2 0h2m-1 0h2m0 0h2m0 0h2m-1 0h2m-1 0h2m-1 0h2m0 0h2m-1 0h2m-2 0h2m1 0h2m67 0h2m-98 1h2m6 0h2m3 0h2m0 0h2m4 0h2m3 0h2m1 0h2m9 0h2m72 0h2m-1 0h2m1 0h2m4 0h2m-126 1h2m-1 0h2m-2 0h2m1 0h2m6 0h2m1 0h2m-2 0h2m-1 0h2m-1 0h2m-1 0h2m5 0h2m10 0h2m-1 0h2m0 0h2m73 0h2m0 0h2m2 0h2m-1 0h2m-114 1h2m0 0h2m0 0h2m0 0h2m2 0h2m-1 0h2m-1 0h2m1 0h2m-1 0h2m27 0h2m59 0h2m0 0h2m-110 1h2m-1 0h2m0 0h2m-1 0h2m0 0h2m1 0h2m18 0h2m3 0h2m35 0h2m6 0h2m26 0h2m6 0h2m-124 1h2m10 0h2m-1 0h2m4 0h2m1 0h2m-1 0h2m4 0h2m4 0h2m2 0h2m1 0h2m68 0h2m0 0h2m-105 1h2m6 0h2m1 0h2m13 0h2m75 0h2m6 0h2m-133 1h2m14 0h2m4 0h2m7 0h2m16 0h2m3 0h2m1 0h2m57 0h2m2 0h2m9 0h2m-126 1h2m2 0h2m6 0h2m8 0h2m10 0h2m8 0h2m-1 0h2m45 0h2m20 0h2m5 0h2m-120 1h2m1 0h2m8 0h2m4 0h2m6 0h2m48 0h2m30 0h2m-1 0h2m-105 1h2m0 0h2m97 0h2m6 0h2m2 0h2m-134 1h2m12 0h2m12 0h2m-2 0h2m94 0h2m2 0h2m0 0h2m-103 1h2m3 0h2m10 0h2m72 0h2m-1 0h2m-2 0h2m1 0h2m-2 0h2m1 0h2m-108 1h2m43 0h2m40 0h2m6 0h2m0 0h2m2 0h2m2 0h2m-91 1h2m89 0h2m0 0h2m-2 0h2m-1 0h2m-104 1h2m-12 1h2m99 0h2m1 0h2m-1 0h2m2 0h2m-124 1h2m14 0h2m0 0h2m97 0h2m3 0h2m6 0h2m-20 1h2m2 0h2m2 0h2m-2 0h2m-1 0h2m-1 0h2m-2 0h2m-105 1h2m0 0h2m38 0h2m44 0h2m5 0h2m9 1h2m-137 1h2m37 0h2m20 0h2m67 0h2m-1 0h2m-132 1h2m32 0h2m86 0h2m3 0h2m1 0h2m-105 1h2m2 0h2m92 0h2m-1 0h2m0 0h2m-121 1h2m-3 1h2m7 1h2m107 1h2m1 0h2m0 0h2m-6 2h2m7 0h2m-121 1h2m9 3h2m-15 1h2m119 1h2m-68 3h2"/>
<rect x="32.50" y="66.20" width="107.00" height="107.00" fill="none" stroke="#7a7a7a" stroke-width="1"/>
<line x1="106.80" y1="66.20" x2="106.80" y2="173.20" stroke="#4a4a4a" stroke-width="1.4"/>
<line x1="32.50" y1="134.60" x2="139.50" y2="134.60" stroke="#4a4a4a" stroke-width="1.4"/>
<line x1="30.00" y1="66.20" x2="32.50" y2="66.20" stroke="#7a7a7a" stroke-width="1"/>
<line x1="30.50" y1="74.20" x2="32.50" y2="74.20" stroke="#7a7a7a" stroke-width="1"/>
<line x1="30.00" y1="92.95" x2="32.50" y2="92.95" stroke="#7a7a7a" stroke-width="1"/>
<line x1="30.50" y1="100.95" x2="32.50" y2="100.95" stroke="#7a7a7a" stroke-width="1"/>
<line x1="30.00" y1="119.70" x2="32.50" y2="119.70" stroke="#7a7a7a" stroke-width="1"/>
<line x1="30.50" y1="127.70" x2="32.50" y2="127.70" stroke="#7a7a7a" stroke-width="1"/>
<line x1="30.00" y1="146.45" x2="32.50" y2="146.45" stroke="#7a7a7a" stroke-width="1"/>
<line x1="30.50" y1="154.45" x2="32.50" y2="154.45" stroke="#7a7a7a" stroke-width="1"/>
<line x1="30.00" y1="173.20" x2="32.50" y2="173.20" stroke="#7a7a7a" stroke-width="1"/>
<line x1="32.50" y1="173.20" x2="32.50" y2="176.80" stroke="#333" stroke-width="1.1"/>
<line x1="40.55" y1="173.20" x2="40.55" y2="175.60" stroke="#333" stroke-width="1.1"/>
<line x1="45.26" y1="173.20" x2="45.26" y2="175.60" stroke="#333" stroke-width="1.1"/>
<line x1="48.61" y1="173.20" x2="48.61" y2="175.60" stroke="#333" stroke-width="1.1"/>
<line x1="51.20" y1="173.20" x2="51.20" y2="175.60" stroke="#333" stroke-width="1.1"/>
<line x1="53.32" y1="173.20" x2="53.32" y2="175.60" stroke="#333" stroke-width="1.1"/>
<line x1="55.11" y1="173.20" x2="55.11" y2="175.60" stroke="#333" stroke-width="1.1"/>
<line x1="56.66" y1="173.20" x2="56.66" y2="175.60" stroke="#333" stroke-width="1.1"/>
<line x1="58.03" y1="173.20" x2="58.03" y2="175.60" stroke="#333" stroke-width="1.1"/>
<line x1="59.25" y1="173.20" x2="59.25" y2="176.80" stroke="#333" stroke-width="1.1"/>
<line x1="67.30" y1="173.20" x2="67.30" y2="175.60" stroke="#333" stroke-width="1.1"/>
<line x1="72.01" y1="173.20" x2="72.01" y2="175.60" stroke="#333" stroke-width="1.1"/>
<line x1="75.36" y1="173.20" x2="75.36" y2="175.60" stroke="#333" stroke-width="1.1"/>
<line x1="77.95" y1="173.20" x2="77.95" y2="175.60" stroke="#333" stroke-width="1.1"/>
<line x1="80.07" y1="173.20" x2="80.07" y2="175.60" stroke="#333" stroke-width="1.1"/>
<line x1="81.86" y1="173.20" x2="81.86" y2="175.60" stroke="#333" stroke-width="1.1"/>
<line x1="83.41" y1="173.20" x2="83.41" y2="175.60" stroke="#333" stroke-width="1.1"/>
<line x1="84.78" y1="173.20" x2="84.78" y2="175.60" stroke="#333" stroke-width="1.1"/>
<line x1="86.00" y1="173.20" x2="86.00" y2="176.80" stroke="#333" stroke-width="1.1"/>
<line x1="94.05" y1="173.20" x2="94.05" y2="175.60" stroke="#333" stroke-width="1.1"/>
<line x1="98.76" y1="173.20" x2="98.76" y2="175.60" stroke="#333" stroke-width="1.1"/>
<line x1="102.11" y1="173.20" x2="102.11" y2="175.60" stroke="#333" stroke-width="1.1"/>
<line x1="104.70" y1="173.20" x2="104.70" y2="175.60" stroke="#333" stroke-width="1.1"/>
<line x1="106.82" y1="173.20" x2="106.82" y2="175.60" stroke="#333" stroke-width="1.1"/>
<line x1="108.61" y1="173.20" x2="108.61" y2="175.60" stroke="#333" stroke-width="1.1"/>
<line x1="110.16" y1="173.20" x2="110.16" y2="175.60" stroke="#333" stroke-width="1.1"/>
<line x1="111.53" y1="173.20" x2="111.53" y2="175.60" stroke="#333" stroke-width="1.1"/>
<line x1="112.75" y1="173.20" x2="112.75" y2="176.80" stroke="#333" stroke-width="1.1"/>
<line x1="120.80" y1="173.20" x2="120.80" y2="175.60" stroke="#333" stroke-width="1.1"/>
<line x1="125.51" y1="173.20" x2="125.51" y2="175.60" stroke="#333" stroke-width="1.1"/>
<line x1="128.86" y1="173.20" x2="128.86" y2="175.60" stroke="#333" stroke-width="1.1"/>
<line x1="131.45" y1="173.20" x2="131.45" y2="175.60" stroke="#333" stroke-width="1.1"/>
<line x1="133.57" y1="173.20" x2="133.57" y2="175.60" stroke="#333" stroke-width="1.1"/>
<line x1="135.36" y1="173.20" x2="135.36" y2="175.60" stroke="#333" stroke-width="1.1"/>
<line x1="136.91" y1="173.20" x2="136.91" y2="175.60" stroke="#333" stroke-width="1.1"/>
<line x1="138.28" y1="173.20" x2="138.28" y2="175.60" stroke="#333" stroke-width="1.1"/>
<line x1="139.50" y1="173.20" x2="139.50" y2="176.80" stroke="#333" stroke-width="1.1"/>
<path transform="scale(0.5)" stroke="#000" stroke-width="2" stroke-opacity="0.27" fill="none" d="M353 202h2m8 2h2m105 0h2m-72 4h2m-31 3h2m-29 1h2m27 1h2m-3 1h2m-16 3h2m8 0h2m11 0h2m-28 1h2m-1 0h2m4 0h2m24 0h2m77 0h2m-109 1h2m1 0h2m25 0h2m3 0h2m-48 1h2m74 0h2m1 0h2m27 0h2m-94 1h2m18 0h2m61 0h2m-89 1h2m4 0h2m1 0h2m3 0h2m-1 0h2m4 0h2m-40 1h2m11 0h2m18 0h2m-37 1h2m2 0h2m8 0h2m-1 0h2m3 0h2m0 0h2m-1 0h2m35 0h2m6 0h2m32 0h2m-95 1h2m1 0h2m2 0h2m3 0h2m-1 0h2m15 0h2m24 0h2m1 0h2m-58 1h2m0 0h2m-1 0h2m0 0h2m5 0h2m-2 0h2m3 0h2m-1 0h2m-1 0h2m4 0h2m4 0h2m11 0h2m42 0h2m-100 1h2m5 0h2m2 0h2m-2 0h2m1 0h2m1 0h2m0 0h2m3 0h2m3 0h2m1 0h2m-30 1h2m-1 0h2m1 0h2m11 0h2m13 0h2m15 0h2m25 0h2m25 0h2m-123 1h2m8 0h2m2 0h2m6 0h2m4 0h2m5 0h2m1 0h2m3 0h2m-1 0h2m5 0h2m23 0h2m-1 0h2m-56 1h2m0 0h2m2 0h2m14 0h2m1 0h2m16 0h2m13 0h2m10 0h2m3 0h2m-70 1h2m-1 0h2m1 0h2m1 0h2m10 0h2m24 0h2m43 0h2m-103 1h2m9 0h2m1 0h2m4 0h2m2 0h2m87 0h2m-108 1h2m7 0h2m-1 0h2m-1 0h2m-2 0h2m4 0h2m2 0h2m12 0h2m1 0h2m60 0h2m-115 1h2m11 0h2m9 0h2m1 0h2m-2 0h2m5 0h2m17 0h2m18 0h2m48 0h2m-126 1h2m-1 0h2m6 0h2m-2 0h2m2 0h2m17 0h2m2 0h2m5 0h2m-1 0h2m10 0h2m55 0h2m-134 1h2m28 0h2m0 0h2m12 0h2m2 0h2m62 0h2m-88 1h2m-1 0h2m1 0h2m-1 0h2m-1 0h2m-2 0h2m-1 0h2m-1 0h2m10 0h2m6 0h2m73 0h2m-112 1h2m1 0h2m6 0h2m12 0h2m72 0h2m-95 1h2m16 0h2m-1 0h2m44 0h2m-65 1h2m6 0h2m1 0h2m1 0h2m-2 0h2m4 0h2m-2 0h2m8 0h2m78 0h2m0 0h2m-117 1h2m3 0h2m8 0h2m0 0h2m0 0h2m0 0h2m63 0h2m19 0h2m-92 1h2m10 0h2m0 0h2m-1 0h2m28 0h2m28 0h2m-94 1h2m-1 0h2m-1 0h2m-1 0h2m-1 0h2m-1 0h2m4 0h2m2 0h2m8 0h2m-8 1h2m4 0h2m-29 1h2m2 1h2m5 0h2m12 0h2m35 0h2m-52 1h2m7 0h2m43 0h2m39 0h2m7 0h2m-111 1h2m-2 0h2m16 0h2m6 0h2m1 0h2m30 0h2m47 0h2m-96 1h2m12 0h2m25 0h2m56 0h2m-128 1h2m13 0h2m95 0h2m-88 1h2m1 0h2m6 0h2m-65 1h2m74 1h2m-36 2h2m25 0h2m-7 1h2m45 0h2m-79 1h2m16 0h2m24 1h2m28 0h2m31 0h2m3 6h2m-139 1h2m132 1h2m-74 2h2m-10 2h2m76 2h2m-4 1h2m-82 1h2m-8 2h2m7 0h2m36 1h2m39 0h2m-63 1h2m34 0h2m-65 1h2m78 0h2m-95 1h2m-1 0h2m9 0h2m-27 1h2m22 0h2m60 0h2m-34 1h2m-26 1h2m-15 1h2m12 0h2m9 0h2m-41 1h2m0 0h2m15 0h2m20 0h2m19 0h2m-97 1h2m43 0h2m3 0h2m33 0h2m-51 1h2m55 0h2m24 0h2m30 0h2m-114 1h2m7 0h2m17 0h2m-41 1h2m12 0h2m0 0h2m-1 0h2m9 0h2m9 0h2m3 0h2m-2 0h2m69 0h2m-111 1h2m0 0h2m0 0h2m12 0h2m4 0h2m7 0h2m47 0h2m-76 1h2m1 0h2m4 0h2m7 0h2m-1 0h2m11 0h2m48 0h2m19 0h2m2 0h2m7 0h2m-120 1h2m-1 0h2m-2 0h2m0 0h2m11 0h2m6 0h2m5 0h2m-2 0h2m69 0h2m-109 1h2m-1 0h2m-1 0h2m-2 0h2m7 0h2m3 0h2m2 0h2m7 0h2m28 0h2m46 0h2m0 0h2m-2 0h2m1 0h2m-114 1h2m6 0h2m1 0h2m6 0h2m3 0h2m0 0h2m43 0h2m39 0h2m-2 0h2m32 0h2m-142 1h2m3 0h2m-1 0h2m2 0h2m7 0h2m-2 0h2m2 0h2m-32 1h2m0 0h2m4 0h2m2 0h2m22 0h2m27 0h2m41 0h2m3 0h2m-117 1h2m1 0h2m7 0h2m1 0h2m2 0h2m11 0h2m91 0h2m-111 1h2m1 0h2m1 0h2m-1 0h2m6 0h2m6 0h2m72 0h2m-1 0h2m-107 1h2m2 0h2m-1 0h2m-1 0h2m5 0h2m-1 0h2m2 0h2m-1 0h2m-2 0h2m14 0h2m9 0h2m59 0h2m-105 1h2m4 0h2m3 0h2m2 0h2m4 0h2m3 0h2m73 0h2m-2 0h2m0 0h2m2 0h2m-2 0h2m-136 1h2m21 0h2m0 0h2m-1 0h2m6 0h2m19 0h2m-1 0h2m2 0h2m64 0h2m-113 1h2m13 0h2m9 0h2m13 0h2m-1 0h2m0 0h2m60 0h2m1 0h2m4 0h2m0 0h2m-123 1h2m5 0h2m2 0h2m-1 0h2m13 0h2m19 0h2m7 0h2m60 0h2m1 0h2m-120 1h2m109 0h2m1 0h2m3 0h2m-111 1h2m7 0h2m-1 0h2m3 0h2m9 0h2m10 0h2m10 0h2m48 0h2m0 0h2m-1 0h2m41 0h2m-153 1h2m15 0h2m39 0h2m31 0h2m17 0h2m-131 1h2m20 0h2m0 0h2m0 0h2m1 0h2m55 0h2m-70 1h2m5 0h2m13 0h2m75 0h2m15 0h2m-120 1h2m13 0h2m85 0h2m4 0h2m1 0h2m1 0h2m-123 1h2m41 0h2m23 0h2m44 0h2m1 0h2m0 0h2m0 0h2m-1 0h2m-2 0h2m-1 0h2m-100 1h2m4 0h2m82 0h2m-1 0h2m6 0h2m-119 1h2m-2 0h2m2 0h2m-1 0h2m7 0h2m93 0h2m2 0h2m-2 0h2m2 0h2m-104 1h2m-1 0h2m21 0h2m27 0h2m3 0h2m29 0h2m1 0h2m4 0h2m-1 0h2m-96 1h2m33 0h2m11 0h2m32 0h2m10 0h2m-1 0h2m-91 1h2m85 0h2m1 0h2m-125 1h2m9 0h2m47 0h2m-1 0h2m36 0h2m16 0h2m-86 1h2m8 0h2m68 0h2m-1 0h2m1 0h2m-2 0h2m5 0h2m-39 1h2m29 0h2m-2 0h2m1 0h2m-1 0h2m-8 1h2m9 0h2m-129 1h2m32 0h2m9 0h2m62 0h2m4 0h2m1 0h2m2 0h2m-5 1h2m-1 0h2m-2 0h2m-5 1h2m-1 0h2m-1 0h2m-81 1h2m64 0h2m8 0h2m0 0h2m0 0h2m0 0h2m-114 1h2m67 0h2m40 0h2m-103 1h2m61 0h2m37 0h2m-10 1h2m12 0h2m-16 2h2m-148 1h2m147 0h2m-1 0h2m-2 1h2m2 0h2m-58 1h2m60 0h2m-87 1h2m-19 2h2m89 0h2m6 0h2m-108 4h2m56 0h2m43 0h2m-29 1h2m21 2h2m-3 1h2"/>
<path transform="scale(0.5)" stroke="#000" stroke-width="2" stroke-opacity="0.27" fill="none" d="M398 193h2m61 1h2m-83 5h2m42 5h2m-43 1h2m26 5h2m-43 1h2m12 0h2m2 1h2m4 0h2m71 0h2m-110 1h2m-12 1h2m19 0h2m9 0h2m-18 1h2m15 0h2m-1 0h2m11 0h2m-53 1h2m13 0h2m6 1h2m17 0h2m-28 1h2m38 0h2m8 0h2m-42 1h2m4 0h2m33 0h2m-48 1h2m6 0h2m9 0h2m-28 1h2m27 0h2m15 0h2m-60 1h2m2 0h2m0 0h2m3 0h2m12 0h2m4 0h2m50 0h2m-108 1h2m27 0h2m15 0h2m2 0h2m11 0h2m14 0h2m4 0h2m53 0h2m-125 1h2m11 0h2m1 0h2m-1 0h2m101 0h2m-123 1h2m9 0h2m-1 0h2m-1 0h2m-2 0h2m6 0h2m4 0h2m1 0h2m25 0h2m-56 1h2m10 0h2m-2 0h2m3 0h2m4 0h2m5 0h2m-1 0h2m3 0h2m-1 0h2m1 0h2m13 0h2m59 0h2m-138 1h2m16 0h2m-1 0h2m3 0h2m14 0h2m-2 0h2m1 0h2m-2 0h2m-1 0h2m10 0h2m10 0h2m-1 0h2m-45 1h2m6 0h2m9 0h2m-2 0h2m80 0h2m-125 1h2m19 0h2m7 0h2m-2 0h2m-1 0h2m2 0h2m-1 0h2m-2 0h2m1 0h2m1 0h2m-1 0h2m1 0h2m0 0h2m2 0h2m57 0h2m-91 1h2m4 0h2m-1 0h2m3 0h2m2 0h2m18 0h2m-1 0h2m17 0h2m-73 1h2m-1 0h2m8 0h2m-1 0h2m-1 0h2m2 0h2m9 0h2m-1 0h2m1 0h2m-1 0h2m0 0h2m-1 0h2m0 0h2m9 0h2m4 0h2m-44 1h2m6 0h2m6 0h2m-1 0h2m-1 0h2m0 0h2m0 0h2m0 0h2m5 0h2m-35 1h2m3 0h2m3 0h2m6 0h2m7 0h2m7 0h2m17 0h2m26 0h2m19 0h2m-125 1h2m27 0h2m17 0h2m3 0h2m9 0h2m8 0h2m2 0h2m0 0h2m54 0h2m-131 1h2m9 0h2m2 0h2m6 0h2m1 0h2m-2 0h2m-1 0h2m14 0h2m23 0h2m-54 1h2m5 0h2m-1 0h2m-2 0h2m1 0h2m4 0h2m0 0h2m3 0h2m0 0h2m-2 0h2m0 0h2m10 0h2m-51 1h2m11 0h2m0 0h2m3 0h2m6 0h2m2 0h2m3 0h2m15 0h2m37 0h2m-96 1h2m19 0h2m0 0h2m-1 0h2m4 0h2m-1 0h2m-2 0h2m0 0h2m-2 0h2m2 0h2m1 0h2m2 0h2m7 0h2m53 0h2m4 0h2m-105 1h2m0 0h2m-2 0h2m5 0h2m4 0h2m0 0h2m-48 1h2m12 0h2m8 0h2m1 0h2m-2 0h2m2 0h2m7 0h2m2 0h2m15 0h2m-1 0h2m13 0h2m21 0h2m1 0h2m38 0h2m-136 1h2m32 0h2m5 0h2m2 0h2m5 0h2m-1 0h2m66 0h2m-103 1h2m3 0h2m3 0h2m17 0h2m47 0h2m-87 1h2m15 0h2m5 0h2m0 0h2m-26 1h2m9 0h2m0 0h2m4 0h2m-19 1h2m9 0h2m3 0h2m0 0h2m1 0h2m4 0h2m-2 0h2m1 0h2m-1 0h2m10 0h2m65 0h2m-97 1h2m10 0h2m11 0h2m3 0h2m66 0h2m-89 1h2m83 0h2m-100 1h2m-1 0h2m20 0h2m-34 1h2m6 0h2m54 0h2m-71 1h2m6 0h2m16 0h2m31 0h2m53 0h2m-79 1h2m15 0h2m-43 1h2m44 0h2m-41 1h2m-21 1h2m29 1h2m80 0h2m-77 2h2m-26 4h2m23 2h2m67 5h2m-48 2h2m86 7h2m-147 1h2m112 1h2m-2 2h2m-128 1h2m79 0h2m20 0h2m16 0h2m-103 1h2m11 0h2m-13 1h2m-2 0h2m21 1h2m28 0h2m4 0h2m39 0h2m1 0h2m-126 1h2m25 0h2m7 0h2m11 0h2m66 0h2m-120 1h2m17 0h2m12 0h2m13 0h2m51 0h2m14 0h2m6 0h2m4 0h2m-141 1h2m14 0h2m1 0h2m9 0h2m10 0h2m2 0h2m-37 1h2m10 0h2m12 0h2m3 0h2m0 0h2m3 0h2m0 0h2m76 0h2m-115 1h2m-1 0h2m8 0h2m-1 0h2m-2 0h2m0 0h2m3 0h2m34 0h2m53 0h2m-103 1h2m0 0h2m-1 0h2m0 0h2m0 0h2m7 0h2m11 0h2m64 0h2m-107 1h2m-1 0h2m1 0h2m4 0h2m-1 0h2m-2 0h2m0 0h2m6 0h2m-2 0h2m5 0h2m47 0h2m30 0h2m-102 1h2m-2 0h2m3 0h2m5 0h2m-2 0h2m50 0h2m-55 1h2m6 0h2m-1 0h2m79 0h2m5 0h2m-105 1h2m-1 0h2m5 0h2m13 0h2m10 0h2m41 0h2m18 0h2m-2 0h2m9 0h2m-121 1h2m-1 0h2m1 0h2m2 0h2m0 0h2m3 0h2m88 0h2m1 0h2m1 0h2m-1 0h2m-107 1h2m-1 0h2m0 0h2m53 0h2m75 0h2m-139 1h2m3 0h2m5 0h2m8 0h2m6 0h2m19 0h2m7 0h2m35 0h2m-109 1h2m1 0h2m1 0h2m6 0h2m0 0h2m2 0h2m1 0h2m9 0h2m17 0h2m-59 1h2m13 0h2m-2 0h2m63 0h2m30 0h2m2 0h2m0 0h2m1 0h2m-114 1h2m6 0h2m3 0h2m16 0h2m36 0h2m38 0h2m-101 1h2m8 0h2m-1 0h2m2 0h2m5 0h2m100 0h2m-125 1h2m13 0h2m13 0h2m66 0h2m0 0h2m-1 0h2m0 0h2m-108 1h2m5 0h2m4 0h2m0 0h2m3 0h2m1 0h2m13 0h2m0 0h2m61 0h2m25 0h2m-142 1h2m4 0h2m0 0h2m4 0h2m4 0h2m-2 0h2m3 0h2m64 0h2m16 0h2m-112 1h2m4 0h2m-2 0h2m13 0h2m8 0h2m1 0h2m69 0h2m3 0h2m0 0h2m3 0h2m2 0h2m-120 1h2m8 0h2m4 0h2m13 0h2m0 0h2m21 0h2m50 0h2m-1 0h2m-1 0h2m3 0h2m0 0h2m-130 1h2m10 0h2m3 0h2m1 0h2m7 0h2m81 0h2m-105 1h2m9 0h2m95 0h2m0 0h2m0 0h2m-1 0h2m0 0h2m-111 1h2m43 0h2m7 0h2m2 0h2m41 0h2m-1 0h2m-1 0h2m-84 1h2m77 0h2m3 0h2m7 0h2m-13 1h2m3 0h2m-2 0h2m1 0h2m-107 1h2m5 0h2m3 0h2m8 0h2m67 0h2m2 0h2m6 0h2m-80 1h2m15 0h2m25 0h2m23 0h2m3 0h2m-85 1h2m53 0h2m20 0h2m2 0h2m-2 0h2m5 0h2m-119 1h2m12 0h2m14 0h2m86 0h2m-39 1h2m7 0h2m-60 1h2m79 0h2m-1 0h2m0 0h2m-4 2h2m-2 0h2m-1 0h2m-85 1h2m80 2h2m-10 1h2m2 0h2m3 0h2m-7 1h2m-2 0h2m6 2h2m-42 2h2m34 0h2m-11 1h2m7 1h2m-2 1h2m25 1h2m-26 2h2m-81 2h2m0 0h2m65 0h2m3 1h2m-10 1h2m9 1h2"/>
<path transform="scale(0.5)" stroke="#000" stroke-width="2" stroke-opacity="0.27" fill="none" d="M379 199h2m66 6h2m-44 2h2m-42 1h2m9 1h2m-13 2h2m71 2h2m-74 1h2m2 0h2m30 0h2m-32 1h2m-43 1h2m27 0h2m2 0h2m0 0h2m9 0h2m50 0h2m-8 1h2m22 0h2m-76 1h2m8 0h2m12 0h2m-44 1h2m6 0h2m-18 1h2m14 0h2m22 0h2m-1 0h2m2 0h2m45 0h2m-99 1h2m22 0h2m10 0h2m-19 1h2m-2 0h2m-1 0h2m7 0h2m2 0h2m14 0h2m-49 1h2m2 0h2m2 0h2m3 0h2m-1 0h2m16 0h2m13 0h2m-38 1h2m0 0h2m7 0h2m0 0h2m6 0h2m1 0h2m13 0h2m16 0h2m-82 1h2m10 0h2m110 0h2m-129 1h2m6 0h2m4 0h2m12 0h2m5 0h2m2 0h2m-1 0h2m-2 0h2m-1 0h2m6 0h2m18 0h2m56 0h2m-102 1h2m0 0h2m3 0h2m6 0h2m2 0h2m88 0h2m-123 1h2m12 0h2m-1 0h2m1 0h2m4 0h2m-2 0h2m1 0h2m0 0h2m-1 0h2m0 0h2m-1 0h2m4 0h2m-29 1h2m9 0h2m0 0h2m8 0h2m2 0h2m-48 1h2m4 0h2m4 0h2m-1 0h2m1 0h2m1 0h2m-2 0h2m-1 0h2m-1 0h2m-2 0h2m9 0h2m2 0h2m-52 1h2m25 0h2m6 0h2m-1 0h2m-1 0h2m2 0h2m-1 0h2m-2 0h2m4 0h2m1 0h2m3 0h2m68 0h2m-113 1h2m8 0h2m27 0h2m13 0h2m-45 1h2m4 0h2m-1 0h2m0 0h2m-2 0h2m1 0h2m1 0h2m5 0h2m0 0h2m7 0h2m37 0h2m39 0h2m3 0h2m-124 1h2m11 0h2m-1 0h2m7 0h2m0 0h2m-2 0h2m2 0h2m-1 0h2m34 0h2m32 0h2m-101 1h2m-1 0h2m-1 0h2m-1 0h2m1 0h2m5 0h2m-2 0h2m8 0h2m-1 0h2m5 0h2m6 0h2m-1 0h2m1 0h2m12 0h2m11 0h2m3 0h2m7 0h2m-88 1h2m-1 0h2m0 0h2m-2 0h2m-2 0h2m-1 0h2m5 0h2m5 0h2m13 0h2m2 0h2m4 0h2m11 0h2m31 0h2m-90 1h2m7 0h2m1 0h2m-2 0h2m3 0h2m93 0h2m-113 1h2m-1 0h2m17 0h2m0 0h2m7 0h2m-2 0h2m18 0h2m60 0h2m-129 1h2m3 0h2m-1 0h2m18 0h2m5 0h2m0 0h2m1 0h2m2 0h2m12 0h2m19 0h2m-63 1h2m5 0h2m13 0h2m4 0h2m1 0h2m16 0h2m19 0h2m46 0h2m-124 1h2m7 0h2m4 0h2m4 0h2m26 0h2m65 0h2m-117 1h2m9 0h2m-1 0h2m-1 0h2m4 0h2m-2 0h2m10 0h2m26 0h2m-50 1h2m0 0h2m14 0h2m9 0h2m-1 0h2m53 0h2m-101 1h2m-1 0h2m5 0h2m14 0h2m5 0h2m10 0h2m-35 1h2m10 0h2m16 0h2m-32 1h2m9 1h2m22 0h2m28 0h2m39 0h2m-98 1h2m19 0h2m7 0h2m-28 1h2m-1 0h2m5 0h2m-31 1h2m45 0h2m-26 1h2m-30 1h2m111 1h2m-141 2h2m133 1h2m-72 5h2m-17 2h2m-23 4h2m22 1h2m10 0h2m-3 1h2m22 5h2m50 0h2m-100 1h2m24 0h2m-63 1h2m42 0h2m10 0h2m0 0h2m-1 0h2m-31 1h2m18 0h2m-41 3h2m18 1h2m7 0h2m28 0h2m61 0h2m-101 1h2m3 0h2m4 0h2m-12 1h2m105 0h2m-114 1h2m6 0h2m13 0h2m1 0h2m-2 0h2m77 0h2m3 0h2m-110 1h2m8 0h2m18 0h2m31 0h2m18 0h2m-100 1h2m-1 0h2m22 0h2m9 0h2m-5 1h2m-1 0h2m3 0h2m82 0h2m-116 1h2m5 0h2m0 0h2m10 0h2m93 0h2m-107 1h2m2 0h2m1 0h2m5 0h2m-1 0h2m-2 0h2m5 0h2m-1 0h2m7 0h2m7 0h2m65 0h2m-120 1h2m14 0h2m-1 0h2m4 0h2m7 0h2m6 0h2m-35 1h2m13 0h2m11 0h2m75 0h2m4 0h2m-121 1h2m30 0h2m-39 1h2m8 0h2m-1 0h2m7 0h2m8 0h2m86 0h2m-2 0h2m3 0h2m-130 1h2m19 0h2m-2 0h2m3 0h2m11 0h2m15 0h2m1 0h2m25 0h2m-60 1h2m4 0h2m-2 0h2m2 0h2m15 0h2m18 0h2m16 0h2m28 0h2m-1 0h2m0 0h2m-111 1h2m0 0h2m-2 0h2m4 0h2m3 0h2m6 0h2m46 0h2m31 0h2m-103 1h2m1 0h2m1 0h2m84 0h2m4 0h2m-1 0h2m8 0h2m-125 1h2m9 0h2m0 0h2m0 0h2m-1 0h2m12 0h2m4 0h2m-20 1h2m17 0h2m3 0h2m-1 0h2m22 0h2m3 0h2m13 0h2m27 0h2m1 0h2m-120 1h2m12 0h2m-2 0h2m1 0h2m1 0h2m1 0h2m-2 0h2m0 0h2m-2 0h2m3 0h2m2 0h2m4 0h2m4 0h2m74 0h2m-1 0h2m-109 1h2m7 0h2m1 0h2m3 0h2m0 0h2m0 0h2m0 0h2m1 0h2m21 0h2m7 0h2m42 0h2m-1 0h2m0 0h2m-113 1h2m8 0h2m6 0h2m-2 0h2m-1 0h2m9 0h2m36 0h2m-1 0h2m40 0h2m1 0h2m27 0h2m-150 1h2m-2 0h2m8 0h2m14 0h2m3 0h2m-2 0h2m76 0h2m1 0h2m4 0h2m-126 1h2m1 0h2m12 0h2m0 0h2m0 0h2m2 0h2m2 0h2m7 0h2m7 0h2m0 0h2m69 0h2m-1 0h2m1 0h2m-122 1h2m4 0h2m16 0h2m12 0h2m4 0h2m19 0h2m49 0h2m2 0h2m0 0h2m-126 1h2m8 0h2m15 0h2m0 0h2m-1 0h2m86 0h2m-1 0h2m1 0h2m-107 1h2m2 0h2m4 0h2m34 0h2m49 0h2m6 0h2m-116 1h2m8 0h2m3 0h2m-1 0h2m18 0h2m20 0h2m46 0h2m3 0h2m-1 0h2m-108 1h2m2 0h2m0 0h2m2 0h2m1 0h2m1 0h2m60 0h2m16 0h2m1 0h2m-1 0h2m2 0h2m-1 0h2m-94 1h2m-1 0h2m1 0h2m-1 0h2m4 0h2m71 0h2m3 0h2m-1 0h2m8 0h2m-13 1h2m-1 0h2m-2 0h2m0 0h2m3 0h2m-129 1h2m8 0h2m11 0h2m15 0h2m73 0h2m6 0h2m0 0h2m-87 1h2m0 0h2m74 0h2m0 0h2m1 0h2m-136 1h2m102 0h2m21 0h2m-1 0h2m8 0h2m-110 1h2m5 0h2m7 0h2m8 0h2m52 0h2m17 0h2m2 0h2m-85 1h2m27 0h2m48 1h2m7 0h2m-11 1h2m10 0h2m-107 1h2m10 0h2m33 0h2m44 0h2m-11 1h2m6 0h2m0 0h2m4 0h2m-9 1h2m-79 1h2m35 0h2m32 1h2m6 0h2m3 0h2m-121 1h2m0 0h2m114 0h2m-117 1h2m110 0h2m-1 1h2m-3 1h2m-1 0h2m-105 1h2m97 0h2m10 0h2m17 0h2m-29 1h2m0 0h2m1 0h2m-7 1h2m-9 7h2m-51 2h2m103 3h2"/>
<path transform="scale(0.5)" stroke="#000" stroke-width="2" stroke-opacity="0.27" fill="none" d="M375 202h2m1 2h2m-24 7h2m6 0h2m2 0h2m21 1h2m0 2h2m-18 1h2m-33 1h2m10 0h2m6 0h2m9 0h2m3 0h2m5 0h2m-42 1h2m5 0h2m20 0h2m-38 1h2m2 0h2m3 0h2m15 0h2m5 0h2m85 0h2m-75 1h2m22 0h2m38 0h2m-109 1h2m0 0h2m3 0h2m1 0h2m0 0h2m-1 0h2m2 0h2m1 0h2m-1 0h2m8 0h2m2 0h2m-38 1h2m17 0h2m12 0h2m-1 0h2m40 0h2m17 0h2m11 0h2m13 0h2m-120 1h2m28 0h2m-26 1h2m1 0h2m1 0h2m6 0h2m15 0h2m-42 1h2m0 0h2m-1 0h2m4 0h2m2 0h2m13 0h2m3 0h2m4 0h2m4 0h2m69 0h2m-112 1h2m0 0h2m2 0h2m2 0h2m7 0h2m-2 0h2m2 0h2m0 0h2m10 0h2m39 0h2m12 0h2m22 0h2m-132 1h2m1 0h2m14 0h2m18 0h2m-2 0h2m-2 0h2m-19 1h2m12 0h2m17 0h2m2 0h2m17 0h2m-74 1h2m0 0h2m2 0h2m1 0h2m-1 0h2m4 0h2m-2 0h2m-1 0h2m13 0h2m-1 0h2m4 0h2m10 0h2m-74 1h2m23 0h2m3 0h2m3 0h2m6 0h2m2 0h2m-1 0h2m0 0h2m-2 0h2m-32 1h2m4 0h2m10 0h2m-1 0h2m9 0h2m2 0h2m5 0h2m63 0h2m-100 1h2m12 0h2m-2 0h2m0 0h2m0 0h2m1 0h2m3 0h2m-2 0h2m29 0h2m-76 1h2m11 0h2m5 0h2m-1 0h2m-2 0h2m3 0h2m2 0h2m3 0h2m10 0h2m-44 1h2m7 0h2m13 0h2m-2 0h2m0 0h2m1 0h2m5 0h2m3 0h2m-1 0h2m9 0h2m51 0h2m11 0h2m-119 1h2m1 0h2m5 0h2m0 0h2m-1 0h2m7 0h2m7 0h2m-1 0h2m-1 0h2m0 0h2m8 0h2m26 0h2m5 0h2m21 0h2m-113 1h2m14 0h2m4 0h2m2 0h2m0 0h2m8 0h2m-2 0h2m-2 0h2m17 0h2m12 0h2m17 0h2m-92 1h2m12 0h2m-2 0h2m-1 0h2m3 0h2m0 0h2m3 0h2m-2 0h2m0 0h2m6 0h2m5 0h2m5 0h2m-1 0h2m7 0h2m0 0h2m-48 1h2m-1 0h2m1 0h2m-2 0h2m1 0h2m-1 0h2m-1 0h2m-1 0h2m-1 0h2m20 0h2m42 0h2m-82 1h2m1 0h2m-1 0h2m0 0h2m-2 0h2m0 0h2m39 0h2m49 0h2m-102 1h2m4 0h2m0 0h2m1 0h2m9 0h2m-1 0h2m-1 0h2m14 0h2m52 0h2m-99 1h2m0 0h2m0 0h2m4 0h2m1 0h2m0 0h2m7 0h2m-32 1h2m12 0h2m0 0h2m9 0h2m6 0h2m0 0h2m14 0h2m3 0h2m-69 1h2m13 0h2m3 0h2m8 0h2m13 0h2m20 0h2m5 0h2m53 0h2m-114 1h2m18 0h2m2 0h2m2 0h2m20 0h2m-52 1h2m-2 0h2m8 0h2m6 0h2m33 0h2m13 0h2m-71 1h2m10 0h2m0 0h2m25 0h2m12 0h2m0 0h2m0 0h2m-43 1h2m7 0h2m3 0h2m56 1h2m20 0h2m-60 1h2m7 0h2m2 0h2m9 0h2m-61 1h2m28 0h2m-47 1h2m21 0h2m4 0h2m1 1h2m15 0h2m12 0h2m-51 1h2m37 0h2m-77 1h2m18 0h2m13 0h2m-1 0h2m0 0h2m24 1h2m0 1h2m62 0h2m-62 1h2m-27 2h2m30 0h2m1 0h2m19 0h2m37 2h2m1 1h2m-104 6h2m94 5h2m-159 2h2m148 0h2m-90 2h2m-49 3h2m49 0h2m-19 2h2m-9 1h2m9 0h2m10 0h2m0 0h2m37 0h2m-60 1h2m-1 1h2m8 0h2m-11 1h2m6 0h2m9 0h2m2 0h2m4 0h2m-20 1h2m0 0h2m2 0h2m19 0h2m66 0h2m-110 1h2m3 0h2m4 0h2m31 0h2m57 1h2m-113 1h2m2 0h2m1 0h2m-2 0h2m3 0h2m13 0h2m66 0h2m12 0h2m-112 1h2m-1 0h2m4 0h2m14 0h2m75 0h2m8 0h2m3 0h2m-103 1h2m3 0h2m7 0h2m2 0h2m21 0h2m5 0h2m47 0h2m2 0h2m2 0h2m-110 1h2m44 0h2m-1 0h2m-64 1h2m14 0h2m7 0h2m0 0h2m8 0h2m-2 0h2m6 0h2m57 0h2m7 0h2m1 0h2m2 0h2m-1 0h2m1 0h2m-124 1h2m1 0h2m-1 0h2m8 0h2m2 0h2m-2 0h2m-1 0h2m6 0h2m-2 0h2m-1 0h2m1 0h2m2 0h2m75 0h2m-105 1h2m3 0h2m2 0h2m-2 0h2m4 0h2m0 0h2m4 0h2m1 0h2m16 0h2m12 0h2m-75 1h2m18 0h2m0 0h2m-1 0h2m1 0h2m14 0h2m2 0h2m1 0h2m1 0h2m25 0h2m38 0h2m-1 0h2m3 0h2m22 0h2m-143 1h2m6 0h2m-1 0h2m-2 0h2m3 0h2m0 0h2m-1 0h2m1 0h2m10 0h2m10 0h2m-2 0h2m4 0h2m64 0h2m-2 0h2m-102 1h2m7 0h2m4 0h2m-42 1h2m5 0h2m26 0h2m2 0h2m0 0h2m-2 0h2m2 0h2m-1 0h2m-45 1h2m5 0h2m10 0h2m1 0h2m-2 0h2m5 0h2m-2 0h2m-2 0h2m1 0h2m1 0h2m82 0h2m2 0h2m-1 0h2m-122 1h2m7 0h2m5 0h2m-1 0h2m-1 0h2m0 0h2m0 0h2m-1 0h2m0 0h2m8 0h2m3 0h2m-1 0h2m7 0h2m57 0h2m1 0h2m-121 1h2m-2 0h2m-1 0h2m15 0h2m2 0h2m0 0h2m-1 0h2m0 0h2m6 0h2m89 0h2m-90 1h2m-1 0h2m78 0h2m-110 1h2m5 0h2m3 0h2m8 0h2m3 0h2m16 0h2m12 0h2m26 0h2m22 0h2m0 0h2m-2 0h2m-1 0h2m-1 0h2m-1 0h2m-99 1h2m7 0h2m0 0h2m38 0h2m10 0h2m18 0h2m4 0h2m0 0h2m-1 0h2m-105 1h2m2 0h2m2 0h2m2 0h2m-1 0h2m1 0h2m65 0h2m18 0h2m1 0h2m-120 1h2m-1 0h2m-2 0h2m12 0h2m8 0h2m14 0h2m67 0h2m-1 0h2m0 0h2m-1 0h2m0 0h2m-2 0h2m-2 0h2m-1 0h2m-114 1h2m18 0h2m18 0h2m66 0h2m0 0h2m3 0h2m-125 1h2m32 0h2m27 0h2m52 0h2m-93 1h2m17 0h2m27 0h2m0 0h2m33 0h2m2 0h2m1 0h2m-6 1h2m6 0h2m-2 0h2m-101 1h2m6 0h2m9 0h2m72 0h2m5 0h2m-115 1h2m4 0h2m99 0h2m-1 0h2m-114 1h2m14 0h2m-2 0h2m33 0h2m32 0h2m27 0h2m-81 1h2m13 0h2m58 0h2m1 0h2m5 0h2m-103 1h2m5 0h2m9 0h2m76 0h2m2 0h2m-13 1h2m-1 0h2m2 0h2m-108 1h2m111 0h2m-1 0h2m-85 1h2m72 0h2m-1 0h2m0 0h2m0 0h2m-83 1h2m76 0h2m8 0h2m-94 1h2m79 0h2m-100 1h2m14 1h2m75 0h2m3 0h2m2 0h2m-1 0h2m-86 1h2m7 0h2m65 1h2m-97 2h2m93 0h2m4 0h2m-102 1h2m-8 2h2m101 0h2m-34 1h2m26 0h2m2 1h2m-2 1h2m2 3h2m9 1h2m-18 1h2m28 0h2m-67 1h2m34 0h2"/>
<path transform="scale(0.5)" stroke="#000" stroke-width="2" stroke-opacity="0.27" fill="none" d="M358 173h2m108 31h2m-129 1h2m43 1h2m18 1h2m-25 1h2m-59 1h2m42 0h2m4 1h2m0 0h2m3 0h2m-19 1h2m-13 1h2m28 0h2m72 0h2m-68 1h2m-50 2h2m98 0h2m-99 1h2m6 0h2m3 0h2m0 0h2m32 0h2m19 0h2m-87 1h2m10 0h2m27 0h2m46 0h2m-76 1h2m3 0h2m-1 0h2m7 0h2m23 0h2m61 0h2m14 0h2m-130 1h2m5 0h2m-1 0h2m12 0h2m15 0h2m8 0h2m-61 1h2m12 0h2m9 0h2m12 0h2m3 0h2m0 0h2m24 0h2m-56 1h2m1 0h2m0 0h2m-1 0h2m3 0h2m0 0h2m1 0h2m16 0h2m5 0h2m17 0h2m-77 1h2m38 0h2m9 0h2m12 0h2m7 0h2m-66 1h2m23 0h2m-1 0h2m18 0h2m2 0h2m18 0h2m-67 1h2m3 0h2m0 0h2m3 0h2m0 0h2m0 0h2m0 0h2m5 0h2m6 0h2m4 0h2m29 0h2m45 0h2m40 0h2m-166 1h2m6 0h2m12 0h2m-1 0h2m-1 0h2m14 0h2m-1 0h2m-1 0h2m-21 1h2m4 0h2m12 0h2m64 0h2m-102 1h2m2 0h2m0 0h2m2 0h2m7 0h2m0 0h2m6 0h2m-35 1h2m0 0h2m0 0h2m2 0h2m1 0h2m6 0h2m-1 0h2m6 0h2m-2 0h2m11 0h2m9 0h2m-55 1h2m8 0h2m2 0h2m0 0h2m7 0h2m3 0h2m2 0h2m65 0h2m-98 1h2m3 0h2m0 0h2m1 0h2m-2 0h2m5 0h2m-1 0h2m3 0h2m5 0h2m65 0h2m-116 1h2m12 0h2m13 0h2m-1 0h2m-1 0h2m-2 0h2m-2 0h2m36 0h2m36 0h2m-98 1h2m7 0h2m6 0h2m1 0h2m-1 0h2m7 0h2m5 0h2m2 0h2m6 0h2m51 0h2m1 0h2m-106 1h2m2 0h2m5 0h2m0 0h2m1 0h2m0 0h2m-1 0h2m1 0h2m-2 0h2m-1 0h2m5 0h2m-2 0h2m1 0h2m1 0h2m8 0h2m-38 1h2m4 0h2m6 0h2m-2 0h2m3 0h2m0 0h2m2 0h2m3 0h2m10 0h2m66 0h2m-132 1h2m2 0h2m4 0h2m4 0h2m3 0h2m6 0h2m14 0h2m3 0h2m-45 1h2m13 0h2m5 0h2m4 0h2m10 0h2m-2 0h2m51 0h2m23 0h2m-127 1h2m6 0h2m-1 0h2m2 0h2m-1 0h2m1 0h2m3 0h2m-1 0h2m0 0h2m-1 0h2m4 0h2m6 0h2m-1 0h2m5 0h2m8 0h2m-50 1h2m-2 0h2m5 0h2m-1 0h2m-1 0h2m-2 0h2m1 0h2m4 0h2m0 0h2m-1 0h2m1 0h2m2 0h2m6 0h2m-25 1h2m3 0h2m3 0h2m53 0h2m11 0h2m11 0h2m5 0h2m-105 1h2m0 0h2m6 0h2m1 0h2m34 0h2m29 0h2m-75 1h2m-2 0h2m14 0h2m4 0h2m0 0h2m4 0h2m24 0h2m8 0h2m-110 1h2m19 0h2m34 0h2m5 0h2m-43 1h2m6 0h2m3 0h2m0 0h2m-1 0h2m1 0h2m32 0h2m5 0h2m-68 1h2m11 0h2m1 0h2m14 0h2m4 0h2m-1 0h2m-22 1h2m-1 0h2m18 0h2m-1 0h2m71 0h2m1 0h2m2 0h2m-120 1h2m5 0h2m-1 0h2m114 0h2m-109 1h2m53 0h2m28 0h2m17 0h2m10 0h2m-122 2h2m7 0h2m3 0h2m10 0h2m15 1h2m12 0h2m-14 1h2m-55 1h2m69 0h2m30 0h2m-97 2h2m18 0h2m4 0h2m-2 2h2m89 2h2m37 3h2m-83 1h2m6 0h2m14 3h2m9 4h2m-73 4h2m-31 1h2m21 3h2m-1 1h2m-27 1h2m5 2h2m12 0h2m-20 1h2m-1 0h2m-1 0h2m28 0h2m-32 1h2m7 0h2m3 0h2m-26 1h2m2 0h2m0 0h2m23 0h2m-28 1h2m27 0h2m-43 1h2m2 0h2m0 0h2m8 0h2m5 0h2m3 0h2m0 0h2m-27 1h2m7 0h2m-1 0h2m1 0h2m7 0h2m-1 0h2m82 0h2m-101 1h2m16 0h2m-26 1h2m-1 0h2m0 0h2m1 0h2m2 0h2m3 0h2m54 0h2m-65 1h2m-2 0h2m0 0h2m-1 0h2m0 0h2m-2 0h2m2 0h2m31 0h2m-52 1h2m-2 0h2m1 0h2m-1 0h2m5 0h2m-21 1h2m15 0h2m3 0h2m16 0h2m49 0h2m-88 1h2m-1 0h2m0 0h2m0 0h2m2 0h2m-2 0h2m10 0h2m90 0h2m-110 1h2m-1 0h2m8 0h2m6 0h2m4 0h2m0 0h2m25 0h2m41 0h2m2 0h2m-1 0h2m-134 1h2m8 0h2m7 0h2m-2 0h2m4 0h2m1 0h2m-1 0h2m0 0h2m8 0h2m70 0h2m-89 1h2m2 0h2m7 0h2m3 0h2m-2 0h2m3 0h2m2 0h2m33 0h2m38 0h2m0 0h2m-108 1h2m7 0h2m0 0h2m-1 0h2m3 0h2m-1 0h2m5 0h2m52 0h2m33 0h2m-1 0h2m-115 1h2m1 0h2m0 0h2m6 0h2m20 0h2m20 0h2m14 0h2m27 0h2m4 0h2m-115 1h2m-1 0h2m-1 0h2m-1 0h2m10 0h2m5 0h2m1 0h2m6 0h2m80 0h2m1 0h2m-119 1h2m-2 0h2m-1 0h2m11 0h2m-1 0h2m0 0h2m86 0h2m1 0h2m2 0h2m-129 1h2m12 0h2m11 0h2m-1 0h2m0 0h2m2 0h2m0 0h2m8 0h2m43 0h2m31 0h2m-1 0h2m2 0h2m-2 0h2m-107 1h2m9 0h2m5 0h2m82 0h2m-124 1h2m23 0h2m38 0h2m54 0h2m-1 0h2m2 0h2m-115 1h2m4 0h2m0 0h2m2 0h2m1 0h2m6 0h2m1 0h2m0 0h2m-34 1h2m8 0h2m-2 0h2m4 0h2m8 0h2m3 0h2m12 0h2m63 0h2m7 0h2m-2 0h2m-111 1h2m13 0h2m2 0h2m12 0h2m9 0h2m54 0h2m0 0h2m-114 1h2m14 0h2m4 0h2m0 0h2m88 0h2m3 0h2m-121 1h2m8 0h2m-2 0h2m98 0h2m-106 1h2m17 0h2m7 0h2m76 0h2m0 0h2m-1 0h2m-1 0h2m-113 1h2m18 0h2m15 0h2m62 0h2m2 0h2m2 0h2m-130 1h2m15 0h2m7 0h2m5 0h2m92 0h2m-1 0h2m1 0h2m-1 0h2m-13 1h2m7 0h2m0 0h2m-103 1h2m2 0h2m0 0h2m4 0h2m6 0h2m21 0h2m49 0h2m-2 0h2m2 0h2m-100 1h2m93 0h2m-100 1h2m9 0h2m10 0h2m61 0h2m-86 1h2m97 0h2m-1 0h2m-111 1h2m62 0h2m42 0h2m-2 0h2m-2 0h2m0 0h2m-1 0h2m-100 1h2m89 0h2m-82 1h2m84 0h2m-1 0h2m-98 1h2m75 1h2m10 0h2m9 0h2m-88 1h2m70 0h2m-1 0h2m3 2h2m2 0h2m11 1h2m-12 1h2m-109 1h2m61 0h2m-89 1h2m60 0h2m65 0h2m-127 1h2m107 0h2m14 0h2m-25 1h2m11 0h2m2 0h2m-8 4h2m11 0h2m-8 1h2m-146 6h2"/>
<path transform="scale(0.5)" stroke="#000" stroke-width="2" stroke-opacity="0.27" fill="none" d="M395 202h2m-50 2h2m2 1h2m30 0h2m1 0h2m-16 1h2m-19 3h2m17 0h2m-33 1h2m18 1h2m4 1h2m51 0h2m-99 1h2m12 0h2m22 0h2m-15 1h2m7 0h2m24 0h2m3 0h2m-1 0h2m1 0h2m17 0h2m43 0h2m-101 1h2m73 0h2m-79 2h2m11 0h2m-31 1h2m12 0h2m13 0h2m6 0h2m0 0h2m31 0h2m29 0h2m-116 1h2m28 0h2m-1 0h2m0 0h2m95 0h2m-43 1h2m-70 1h2m8 0h2m6 0h2m2 0h2m54 0h2m18 0h2m-92 1h2m9 0h2m-25 1h2m6 0h2m4 0h2m5 0h2m4 0h2m119 0h2m-162 1h2m9 0h2m-1 0h2m1 0h2m3 0h2m-2 0h2m9 0h2m5 0h2m-1 0h2m3 0h2m1 0h2m-36 1h2m2 0h2m-1 0h2m10 0h2m9 0h2m11 0h2m13 0h2m13 0h2m-76 1h2m6 0h2m3 0h2m6 0h2m1 0h2m73 0h2m12 0h2m-131 1h2m10 0h2m3 0h2m19 0h2m0 0h2m1 0h2m-1 0h2m-1 0h2m-1 0h2m0 0h2m0 0h2m5 0h2m-35 1h2m-2 0h2m1 0h2m-2 0h2m-1 0h2m2 0h2m6 0h2m0 0h2m4 0h2m0 0h2m-36 1h2m3 0h2m3 0h2m-1 0h2m3 0h2m-1 0h2m6 0h2m10 0h2m15 0h2m59 0h2m-134 1h2m3 0h2m15 0h2m2 0h2m-2 0h2m1 0h2m-2 0h2m-1 0h2m0 0h2m2 0h2m-1 0h2m10 0h2m44 0h2m-76 1h2m-2 0h2m0 0h2m-2 0h2m9 0h2m-2 0h2m-1 0h2m1 0h2m0 0h2m-1 0h2m-1 0h2m8 0h2m-1 0h2m3 0h2m64 0h2m-103 1h2m5 0h2m-1 0h2m4 0h2m8 0h2m-1 0h2m2 0h2m42 0h2m36 0h2m-131 1h2m18 0h2m1 0h2m0 0h2m-2 0h2m2 0h2m-2 0h2m2 0h2m4 0h2m6 0h2m47 0h2m-83 1h2m1 0h2m2 0h2m5 0h2m1 0h2m4 0h2m0 0h2m17 0h2m41 0h2m-93 1h2m11 0h2m0 0h2m-1 0h2m1 0h2m12 0h2m3 0h2m30 0h2m6 0h2m-75 1h2m0 0h2m2 0h2m5 0h2m-1 0h2m5 0h2m-1 0h2m31 0h2m-67 1h2m16 0h2m1 0h2m6 0h2m9 0h2m18 0h2m43 0h2m-109 1h2m6 0h2m-2 0h2m7 0h2m-1 0h2m0 0h2m-30 1h2m4 0h2m12 0h2m-1 0h2m8 0h2m-1 0h2m1 0h2m13 0h2m7 0h2m-45 1h2m4 0h2m11 0h2m20 0h2m4 0h2m35 0h2m-81 1h2m8 0h2m0 0h2m1 0h2m1 0h2m7 0h2m26 0h2m-70 1h2m22 0h2m6 0h2m0 0h2m2 0h2m4 0h2m85 0h2m-113 1h2m-2 0h2m-1 0h2m5 0h2m2 0h2m55 0h2m-85 1h2m8 0h2m0 0h2m10 0h2m35 0h2m24 0h2m30 0h2m-107 1h2m9 0h2m16 0h2m40 0h2m14 1h2m-83 1h2m-18 1h2m4 0h2m42 0h2m-44 1h2m32 0h2m-1 0h2m-37 2h2m28 0h2m68 0h2m-72 1h2m-42 1h2m16 0h2m24 0h2m-5 1h2m36 3h2m-20 3h2m-36 1h2m-11 2h2m105 1h2m-114 5h2m16 0h2m-21 1h2m1 0h2m37 4h2m-25 4h2m-35 1h2m6 0h2m1 0h2m-1 0h2m9 0h2m8 0h2m12 0h2m63 0h2m-99 2h2m4 0h2m1 0h2m0 0h2m88 0h2m-111 1h2m20 0h2m11 0h2m-42 1h2m4 0h2m42 0h2m-54 1h2m15 0h2m-1 0h2m7 0h2m5 0h2m-31 1h2m2 0h2m11 0h2m1 0h2m-1 0h2m2 0h2m3 0h2m13 0h2m-91 1h2m42 0h2m5 0h2m24 0h2m24 0h2m52 0h2m-113 1h2m1 0h2m-2 0h2m4 0h2m1 0h2m-1 0h2m7 0h2m0 0h2m-25 1h2m8 0h2m8 0h2m35 0h2m-51 1h2m6 0h2m12 0h2m17 0h2m59 0h2m0 0h2m-115 1h2m10 0h2m-2 1h2m1 0h2m-1 0h2m2 0h2m2 0h2m0 0h2m21 0h2m56 0h2m4 0h2m29 0h2m-157 1h2m9 0h2m2 0h2m4 0h2m7 0h2m20 0h2m-33 1h2m-1 0h2m7 0h2m1 0h2m1 0h2m5 0h2m5 0h2m65 0h2m3 0h2m-125 1h2m14 0h2m3 0h2m7 0h2m-2 0h2m1 0h2m-1 0h2m-2 0h2m1 0h2m3 0h2m7 0h2m3 0h2m-1 0h2m-55 1h2m-1 0h2m5 0h2m13 0h2m-1 0h2m5 0h2m-2 0h2m1 0h2m0 0h2m54 0h2m-95 1h2m10 0h2m-2 0h2m2 0h2m2 0h2m2 0h2m9 0h2m21 0h2m57 0h2m-118 1h2m3 0h2m7 0h2m-2 0h2m4 0h2m6 0h2m-2 0h2m1 0h2m12 0h2m24 0h2m-1 0h2m-57 1h2m-2 0h2m3 0h2m-1 0h2m1 0h2m2 0h2m5 0h2m-27 1h2m15 0h2m84 0h2m4 0h2m-112 1h2m0 0h2m-1 0h2m1 0h2m-1 0h2m0 0h2m-2 0h2m-1 0h2m4 0h2m0 0h2m1 0h2m85 0h2m-1 0h2m-131 1h2m1 0h2m5 0h2m-1 0h2m7 0h2m-1 0h2m3 0h2m6 0h2m11 0h2m0 0h2m82 0h2m-131 1h2m7 0h2m5 0h2m0 0h2m4 0h2m4 0h2m-2 0h2m-1 0h2m8 0h2m15 0h2m58 0h2m5 0h2m1 0h2m-127 1h2m-1 0h2m10 0h2m8 0h2m2 0h2m-1 0h2m-1 0h2m2 0h2m-2 0h2m9 0h2m17 0h2m54 0h2m4 0h2m-107 1h2m42 0h2m52 0h2m3 0h2m-114 1h2m14 0h2m-1 0h2m1 0h2m2 0h2m-22 1h2m9 0h2m92 0h2m-106 1h2m3 0h2m7 0h2m-2 0h2m4 0h2m70 0h2m12 0h2m-1 0h2m-109 1h2m0 0h2m2 0h2m7 0h2m3 0h2m0 0h2m62 0h2m19 0h2m-107 1h2m21 0h2m40 0h2m28 0h2m2 0h2m0 0h2m0 0h2m0 0h2m-71 1h2m-48 1h2m5 0h2m4 0h2m1 0h2m-1 0h2m0 0h2m5 0h2m13 0h2m0 0h2m18 0h2m40 0h2m4 0h2m-2 0h2m-2 0h2m-78 1h2m12 0h2m62 0h2m-116 1h2m15 0h2m93 0h2m0 0h2m-1 0h2m-105 1h2m30 0h2m60 0h2m3 0h2m1 0h2m1 0h2m-105 1h2m4 0h2m88 0h2m9 0h2m-133 1h2m54 0h2m29 0h2m37 0h2m-6 1h2m-110 1h2m30 0h2m79 0h2m-103 1h2m95 0h2m1 0h2m-109 1h2m47 0h2m48 0h2m6 0h2m2 0h2m-2 0h2m-17 1h2m7 0h2m-53 2h2m41 0h2m3 0h2m0 0h2m-98 1h2m93 0h2m-6 1h2m6 0h2m-7 1h2m1 0h2m4 0h2m-12 2h2m-106 2h2m109 0h2m-57 1h2m49 0h2m-8 1h2m7 0h2m-99 1h2m43 0h2m42 0h2m13 2h2m-128 4h2"/>
<path transform="scale(0.5)" stroke="#000" stroke-width="2" stroke-opacity="0.27" fill="none" d="M450 197h2m-90 1h2m16 9h2m43 0h2m-24 1h2m-38 1h2m69 1h2m-37 2h2m41 0h2m34 0h2m-64 1h2m41 0h2m-101 1h2m-1 0h2m0 0h2m4 0h2m-21 1h2m-14 1h2m22 0h2m-9 1h2m1 0h2m6 0h2m27 0h2m-39 1h2m9 0h2m-27 1h2m6 0h2m4 0h2m1 0h2m1 0h2m11 0h2m3 0h2m-41 1h2m7 0h2m-1 0h2m11 0h2m3 0h2m22 0h2m9 0h2m-66 1h2m-1 0h2m11 0h2m13 0h2m0 0h2m22 0h2m-54 1h2m6 0h2m7 0h2m13 0h2m-51 1h2m13 0h2m3 0h2m0 0h2m7 0h2m3 0h2m84 0h2m-120 1h2m13 0h2m6 0h2m3 0h2m6 0h2m15 0h2m15 0h2m-56 1h2m10 0h2m3 0h2m3 0h2m-2 0h2m-1 0h2m2 0h2m4 0h2m14 0h2m13 0h2m-83 1h2m1 0h2m4 0h2m-1 0h2m0 0h2m10 0h2m4 0h2m2 0h2m4 0h2m4 0h2m-43 1h2m9 0h2m0 0h2m0 0h2m0 0h2m0 0h2m12 0h2m-1 0h2m50 0h2m41 0h2m-122 1h2m13 0h2m12 0h2m3 0h2m80 0h2m-114 1h2m4 0h2m4 0h2m0 0h2m18 0h2m-54 1h2m9 0h2m5 0h2m7 0h2m0 0h2m-1 0h2m7 0h2m0 0h2m5 0h2m31 0h2m-74 1h2m2 0h2m14 0h2m-1 0h2m-1 0h2m12 0h2m-1 0h2m-28 1h2m-1 0h2m0 0h2m-2 0h2m-1 0h2m-1 0h2m-1 0h2m7 0h2m26 0h2m25 0h2m11 0h2m-93 1h2m-1 0h2m2 0h2m1 0h2m1 0h2m6 0h2m2 0h2m14 0h2m-2 0h2m8 0h2m26 0h2m23 0h2m-111 1h2m23 0h2m-1 0h2m0 0h2m-1 0h2m-2 0h2m27 0h2m18 0h2m22 0h2m11 0h2m-115 1h2m1 0h2m3 0h2m8 0h2m13 0h2m23 0h2m12 0h2m0 0h2m-81 1h2m20 0h2m0 0h2m1 0h2m1 0h2m5 0h2m2 0h2m54 0h2m-97 1h2m5 0h2m1 0h2m2 0h2m9 0h2m5 0h2m2 0h2m4 0h2m70 0h2m-108 1h2m2 0h2m3 0h2m4 0h2m1 0h2m-1 0h2m2 0h2m0 0h2m1 0h2m0 0h2m14 0h2m-43 1h2m5 0h2m5 0h2m1 0h2m3 0h2m0 0h2m-1 0h2m-1 0h2m81 0h2m-114 1h2m19 0h2m0 0h2m7 0h2m7 0h2m-41 1h2m2 0h2m-1 0h2m0 0h2m3 0h2m10 0h2m7 0h2m13 0h2m3 0h2m5 0h2m-68 1h2m2 0h2m3 0h2m-2 0h2m-2 0h2m31 0h2m-2 0h2m1 0h2m3 0h2m4 0h2m-45 1h2m-1 0h2m6 0h2m44 0h2m2 0h2m25 0h2m-98 1h2m3 0h2m7 0h2m1 0h2m7 0h2m-17 1h2m0 0h2m6 0h2m4 0h2m17 0h2m-53 1h2m2 0h2m2 0h2m8 0h2m29 0h2m68 0h2m-103 1h2m15 0h2m0 0h2m-14 1h2m5 0h2m0 0h2m8 0h2m64 0h2m-107 1h2m33 0h2m-45 1h2m29 0h2m61 1h2m-75 1h2m33 0h2m-55 1h2m41 0h2m-22 2h2m90 3h2m7 0h2m-96 4h2m18 4h2m28 1h2m32 0h2m-110 4h2m100 2h2m8 0h2m-98 2h2m83 0h2m-90 2h2m-5 1h2m68 0h2m-124 1h2m70 0h2m88 0h2m-107 1h2m-11 1h2m9 0h2m-1 0h2m90 0h2m0 0h2m-111 1h2m91 0h2m-97 1h2m-1 1h2m-1 0h2m82 0h2m-83 1h2m5 0h2m93 0h2m-90 1h2m-1 0h2m-1 0h2m1 0h2m69 0h2m12 0h2m-1 0h2m2 0h2m-100 1h2m7 0h2m2 0h2m-36 1h2m7 0h2m2 0h2m-2 0h2m2 0h2m9 0h2m13 0h2m0 0h2m71 0h2m-117 1h2m5 0h2m0 0h2m-2 0h2m23 0h2m-45 1h2m18 0h2m5 0h2m44 0h2m43 0h2m-2 0h2m3 0h2m-107 1h2m-1 0h2m-1 0h2m2 0h2m-1 0h2m7 0h2m79 0h2m2 0h2m-107 1h2m7 0h2m94 0h2m50 0h2m-154 1h2m1 0h2m3 0h2m1 0h2m91 0h2m6 0h2m-125 1h2m14 0h2m7 0h2m86 0h2m4 0h2m-126 1h2m3 0h2m3 0h2m8 0h2m23 0h2m7 0h2m-46 1h2m-1 0h2m2 0h2m10 0h2m1 0h2m82 0h2m5 0h2m0 0h2m-124 1h2m2 0h2m0 0h2m7 0h2m0 0h2m9 0h2m62 0h2m19 0h2m1 0h2m-102 1h2m-1 0h2m1 0h2m0 0h2m1 0h2m1 0h2m4 0h2m77 0h2m1 0h2m3 0h2m-1 0h2m6 0h2m-135 1h2m13 0h2m14 0h2m-1 0h2m7 0h2m47 0h2m7 0h2m19 0h2m-112 1h2m4 0h2m13 0h2m2 0h2m5 0h2m76 0h2m-2 0h2m-2 0h2m0 0h2m-1 0h2m1 0h2m-122 1h2m-1 0h2m7 0h2m7 0h2m0 0h2m8 0h2m9 0h2m12 0h2m2 0h2m47 0h2m8 0h2m-126 1h2m4 0h2m11 0h2m3 0h2m29 0h2m59 0h2m0 0h2m0 0h2m-119 1h2m4 0h2m-1 0h2m-2 0h2m1 0h2m6 0h2m2 0h2m-1 0h2m15 0h2m1 0h2m70 0h2m-115 1h2m7 0h2m4 0h2m1 0h2m-1 0h2m9 0h2m-1 0h2m6 0h2m69 0h2m3 0h2m2 0h2m-111 1h2m1 0h2m6 0h2m84 0h2m11 0h2m2 0h2m-2 0h2m-109 1h2m4 0h2m83 0h2m1 0h2m0 0h2m2 0h2m-123 1h2m11 0h2m4 0h2m1 0h2m43 0h2m23 0h2m20 0h2m-1 0h2m7 0h2m-1 0h2m-102 1h2m9 0h2m19 0h2m56 0h2m-1 0h2m0 0h2m0 0h2m-1 0h2m-106 1h2m5 0h2m5 0h2m63 0h2m14 0h2m2 0h2m-102 1h2m3 0h2m16 0h2m11 0h2m3 0h2m33 0h2m16 0h2m6 0h2m-1 0h2m0 0h2m-7 1h2m3 0h2m-105 1h2m60 0h2m-72 1h2m12 0h2m89 0h2m1 0h2m-76 1h2m69 0h2m-1 0h2m5 0h2m-115 1h2m9 0h2m12 0h2m8 0h2m44 0h2m22 0h2m-87 1h2m32 0h2m46 0h2m-95 1h2m4 0h2m9 0h2m-2 0h2m8 0h2m-28 1h2m89 0h2m6 0h2m-86 1h2m58 0h2m22 0h2m-4 1h2m3 1h2m2 0h2m-26 1h2m21 0h2m-7 2h2m1 0h2m-116 1h2m109 0h2m1 0h2m-109 1h2m40 0h2m57 0h2m0 0h2m6 0h2m21 0h2m-39 1h2m13 0h2m-79 1h2m65 0h2m0 0h2m10 1h2m34 0h2m-133 3h2m83 0h2m-2 1h2m-143 1h2m170 3h2m-36 1h2m32 0h2m-18 4h2"/>
<path transform="scale(0.5)" stroke="#000" stroke-width="2" stroke-opacity="0.27" fill="none" d="M363 197h2m-7 2h2m84 2h2m-69 2h2m15 4h2m-32 1h2m12 0h2m68 4h2m14 0h2m-124 1h2m-2 1h2m3 0h2m28 0h2m-16 1h2m10 0h2m23 0h2m-15 1h2m21 0h2m-61 1h2m3 0h2m3 0h2m10 1h2m38 0h2m21 0h2m13 0h2m-59 1h2m-52 1h2m4 0h2m-1 0h2m13 0h2m1 0h2m6 0h2m-1 0h2m60 0h2m-82 1h2m5 0h2m18 0h2m-45 1h2m9 0h2m1 0h2m1 0h2m1 0h2m11 0h2m10 0h2m33 0h2m24 0h2m12 0h2m-117 1h2m9 0h2m6 0h2m0 0h2m0 0h2m25 0h2m0 0h2m38 0h2m-108 1h2m33 0h2m3 0h2m12 0h2m-2 0h2m81 0h2m-126 1h2m-1 0h2m3 0h2m-2 0h2m5 0h2m1 0h2m4 0h2m0 0h2m-1 0h2m14 0h2m15 0h2m13 0h2m43 0h2m-131 1h2m3 0h2m1 0h2m21 0h2m27 0h2m2 0h2m0 0h2m10 0h2m39 0h2m-112 1h2m7 0h2m12 0h2m11 0h2m19 0h2m57 0h2m45 0h2m-171 1h2m9 0h2m6 0h2m0 0h2m11 0h2m11 0h2m14 0h2m43 0h2m2 0h2m16 0h2m-128 1h2m1 0h2m4 0h2m-1 0h2m-2 0h2m-2 0h2m-1 0h2m-1 0h2m5 0h2m-2 0h2m1 0h2m2 0h2m8 0h2m1 0h2m-2 0h2m-49 1h2m18 0h2m1 0h2m1 0h2m-1 0h2m4 0h2m4 0h2m1 0h2m1 0h2m-36 1h2m13 0h2m1 0h2m0 0h2m7 0h2m5 0h2m68 0h2m-109 1h2m0 0h2m3 0h2m0 0h2m1 0h2m19 0h2m18 0h2m4 0h2m55 0h2m-121 1h2m3 0h2m1 0h2m1 0h2m7 0h2m0 0h2m1 0h2m-24 1h2m12 0h2m-1 0h2m4 0h2m-1 0h2m-1 0h2m5 0h2m4 0h2m71 0h2m0 0h2m-117 1h2m9 0h2m-2 0h2m3 0h2m1 0h2m0 0h2m-1 0h2m0 0h2m5 0h2m-1 0h2m-1 0h2m3 0h2m-1 0h2m21 0h2m-75 1h2m14 0h2m12 0h2m2 0h2m-2 0h2m7 0h2m-63 1h2m41 0h2m-1 0h2m7 0h2m-1 0h2m3 0h2m4 0h2m0 0h2m-1 0h2m75 0h2m2 0h2m-122 1h2m20 0h2m2 0h2m3 0h2m1 0h2m3 0h2m-1 0h2m0 0h2m41 0h2m-89 1h2m11 0h2m-1 0h2m-1 0h2m1 0h2m-2 0h2m-1 0h2m4 0h2m-1 0h2m5 0h2m-2 0h2m6 0h2m56 0h2m-100 1h2m7 0h2m0 0h2m5 0h2m-1 0h2m9 0h2m-1 0h2m8 0h2m-32 1h2m2 0h2m3 0h2m-1 0h2m1 0h2m-1 0h2m-1 0h2m0 0h2m0 0h2m9 0h2m10 0h2m-1 0h2m5 0h2m7 0h2m-60 1h2m5 0h2m-2 0h2m2 0h2m2 0h2m15 0h2m9 0h2m12 0h2m19 0h2m-75 1h2m5 0h2m34 0h2m51 0h2m-100 1h2m0 0h2m0 0h2m5 0h2m0 0h2m3 0h2m0 0h2m107 0h2m-134 1h2m3 0h2m10 0h2m3 0h2m17 0h2m-18 1h2m-43 1h2m18 0h2m94 0h2m-54 1h2m2 0h2m49 0h2m11 0h2m-114 1h2m2 0h2m24 0h2m-42 1h2m36 0h2m18 0h2m29 0h2m-75 1h2m-2 0h2m16 0h2m3 0h2m-38 1h2m-25 1h2m119 0h2m3 0h2m-57 2h2m21 0h2m47 1h2m-58 1h2m45 0h2m-112 1h2m18 1h2m0 2h2m81 0h2m-29 2h2m-62 7h2m6 0h2m57 4h2m-93 1h2m6 1h2m4 0h2m41 1h2m-42 1h2m31 0h2m67 0h2m-93 1h2m-21 1h2m117 0h2m-126 1h2m11 0h2m13 0h2m-53 1h2m20 0h2m40 0h2m6 0h2m-28 1h2m30 0h2m56 0h2m-92 1h2m15 0h2m4 0h2m34 1h2m10 0h2m-89 1h2m0 0h2m-1 0h2m1 0h2m-2 0h2m-2 0h2m2 0h2m10 0h2m7 0h2m-34 1h2m12 0h2m0 0h2m10 0h2m0 0h2m73 0h2m4 0h2m-118 1h2m-6 1h2m0 0h2m-1 0h2m0 0h2m4 0h2m20 0h2m12 0h2m-43 1h2m9 0h2m13 0h2m32 0h2m5 1h2m33 0h2m-96 1h2m4 0h2m1 0h2m1 0h2m26 0h2m0 0h2m0 0h2m58 0h2m-109 1h2m8 0h2m14 0h2m11 0h2m60 0h2m1 0h2m1 0h2m2 0h2m-130 1h2m21 0h2m0 0h2m-2 0h2m28 0h2m69 0h2m-119 1h2m-1 0h2m-1 0h2m4 0h2m0 0h2m5 0h2m0 0h2m4 0h2m0 0h2m11 0h2m74 0h2m-121 1h2m5 0h2m0 0h2m6 0h2m-17 1h2m4 0h2m5 0h2m0 0h2m-1 0h2m0 0h2m2 0h2m14 0h2m70 0h2m-97 1h2m-1 0h2m15 0h2m1 0h2m-38 1h2m2 0h2m5 0h2m9 0h2m-2 0h2m1 0h2m9 0h2m6 0h2m-66 1h2m18 0h2m0 0h2m0 0h2m2 0h2m3 0h2m4 0h2m5 0h2m2 0h2m27 0h2m23 0h2m23 0h2m-1 0h2m-1 0h2m-1 0h2m2 0h2m0 0h2m-1 0h2m-117 1h2m0 0h2m-1 0h2m3 0h2m-1 0h2m0 0h2m-2 0h2m0 0h2m2 0h2m19 0h2m55 0h2m6 0h2m-2 0h2m15 0h2m-125 1h2m1 0h2m0 0h2m10 0h2m4 0h2m61 0h2m30 0h2m-113 1h2m-1 0h2m5 0h2m4 0h2m1 0h2m5 0h2m6 0h2m17 0h2m50 0h2m-1 0h2m-2 0h2m2 0h2m-117 1h2m12 0h2m10 0h2m37 0h2m43 0h2m5 0h2m4 0h2m-140 1h2m23 0h2m4 0h2m2 0h2m90 0h2m0 0h2m0 0h2m-2 0h2m-122 1h2m-1 0h2m9 0h2m-5 1h2m-2 0h2m4 0h2m2 0h2m-1 0h2m11 0h2m0 0h2m78 0h2m-130 1h2m7 0h2m27 0h2m3 0h2m0 0h2m77 0h2m4 0h2m-104 1h2m1 0h2m23 0h2m69 0h2m1 0h2m-1 0h2m-2 0h2m-1 0h2m-118 1h2m6 0h2m2 0h2m2 0h2m8 0h2m-1 0h2m43 0h2m37 0h2m-52 1h2m49 0h2m-73 1h2m16 0h2m9 1h2m34 0h2m0 0h2m-2 0h2m-115 1h2m21 0h2m86 0h2m7 0h2m-114 1h2m19 0h2m2 0h2m79 0h2m0 0h2m4 0h2m-9 1h2m0 0h2m-93 1h2m9 0h2m73 0h2m6 0h2m-116 1h2m111 0h2m-79 1h2m1 0h2m0 0h2m-11 1h2m19 0h2m1 0h2m53 0h2m0 0h2m1 0h2m-69 1h2m16 0h2m35 0h2m1 0h2m2 0h2m-2 0h2m-80 1h2m33 0h2m46 0h2m-1 0h2m0 0h2m-43 1h2m40 0h2m-15 2h2m1 0h2m-5 1h2m1 1h2m0 0h2m-77 1h2m69 0h2m0 0h2m0 0h2m-3 1h2m-105 1h2m104 0h2m-107 1h2m9 0h2m93 0h2m-123 2h2m120 0h2m-1 3h2m-16 1h2m45 0h2m-36 1h2m-85 1h2m116 1h2"/>
<rect x="150.20" y="65.40" width="107.30" height="107.00" fill="none" stroke="#7a7a7a" stroke-width="1"/>
<line x1="224.80" y1="65.40" x2="224.80" y2="172.40" stroke="#4a4a4a" stroke-width="1.4"/>
<line x1="150.20" y1="133.70" x2="257.50" y2="133.70" stroke="#4a4a4a" stroke-width="1.4"/>
<line x1="147.70" y1="65.40" x2="150.20" y2="65.40" stroke="#7a7a7a" stroke-width="1"/>
<line x1="148.20" y1="73.40" x2="150.20" y2="73.40" stroke="#7a7a7a" stroke-width="1"/>
<line x1="147.70" y1="92.15" x2="150.20" y2="92.15" stroke="#7a7a7a" stroke-width="1"/>
<line x1="148.20" y1="100.15" x2="150.20" y2="100.15" stroke="#7a7a7a" stroke-width="1"/>
<line x1="147.70" y1="118.90" x2="150.20" y2="118.90" stroke="#7a7a7a" stroke-width="1"/>
<line x1="148.20" y1="126.90" x2="150.20" y2="126.90" stroke="#7a7a7a" stroke-width="1"/>
<line x1="147.70" y1="145.65" x2="150.20" y2="145.65" stroke="#7a7a7a" stroke-width="1"/>
<line x1="148.20" y1="153.65" x2="150.20" y2="153.65" stroke="#7a7a7a" stroke-width="1"/>
<line x1="147.70" y1="172.40" x2="150.20" y2="172.40" stroke="#7a7a7a" stroke-width="1"/>
<line x1="150.20" y1="172.40" x2="150.20" y2="176.00" stroke="#333" stroke-width="1.1"/>
<line x1="158.28" y1="172.40" x2="158.28" y2="174.80" stroke="#333" stroke-width="1.1"/>
<line x1="163.00" y1="172.40" x2="163.00" y2="174.80" stroke="#333" stroke-width="1.1"/>
<line x1="166.35" y1="172.40" x2="166.35" y2="174.80" stroke="#333" stroke-width="1.1"/>
<line x1="168.95" y1="172.40" x2="168.95" y2="174.80" stroke="#333" stroke-width="1.1"/>
<line x1="171.07" y1="172.40" x2="171.07" y2="174.80" stroke="#333" stroke-width="1.1"/>
<line x1="172.87" y1="172.40" x2="172.87" y2="174.80" stroke="#333" stroke-width="1.1"/>
<line x1="174.43" y1="172.40" x2="174.43" y2="174.80" stroke="#333" stroke-width="1.1"/>
<line x1="175.80" y1="172.40" x2="175.80" y2="174.80" stroke="#333" stroke-width="1.1"/>
<line x1="177.02" y1="172.40" x2="177.02" y2="176.00" stroke="#333" stroke-width="1.1"/>
<line x1="185.10" y1="172.40" x2="185.10" y2="174.80" stroke="#333" stroke-width="1.1"/>
<line x1="189.82" y1="172.40" x2="189.82" y2="174.80" stroke="#333" stroke-width="1.1"/>
<line x1="193.18" y1="172.40" x2="193.18" y2="174.80" stroke="#333" stroke-width="1.1"/>
<line x1="195.77" y1="172.40" x2="195.77" y2="174.80" stroke="#333" stroke-width="1.1"/>
<line x1="197.90" y1="172.40" x2="197.90" y2="174.80" stroke="#333" stroke-width="1.1"/>
<line x1="199.69" y1="172.40" x2="199.69" y2="174.80" stroke="#333" stroke-width="1.1"/>
<line x1="201.25" y1="172.40" x2="201.25" y2="174.80" stroke="#333" stroke-width="1.1"/>
<line x1="202.62" y1="172.40" x2="202.62" y2="174.80" stroke="#333" stroke-width="1.1"/>
<line x1="203.85" y1="172.40" x2="203.85" y2="176.00" stroke="#333" stroke-width="1.1"/>
<line x1="211.93" y1="172.40" x2="211.93" y2="174.80" stroke="#333" stroke-width="1.1"/>
<line x1="216.65" y1="172.40" x2="216.65" y2="174.80" stroke="#333" stroke-width="1.1"/>
<line x1="220.00" y1="172.40" x2="220.00" y2="174.80" stroke="#333" stroke-width="1.1"/>
<line x1="222.60" y1="172.40" x2="222.60" y2="174.80" stroke="#333" stroke-width="1.1"/>
<line x1="224.72" y1="172.40" x2="224.72" y2="174.80" stroke="#333" stroke-width="1.1"/>
<line x1="226.52" y1="172.40" x2="226.52" y2="174.80" stroke="#333" stroke-width="1.1"/>
<line x1="228.08" y1="172.40" x2="228.08" y2="174.80" stroke="#333" stroke-width="1.1"/>
<line x1="229.45" y1="172.40" x2="229.45" y2="174.80" stroke="#333" stroke-width="1.1"/>
<line x1="230.68" y1="172.40" x2="230.68" y2="176.00" stroke="#333" stroke-width="1.1"/>
<line x1="238.75" y1="172.40" x2="238.75" y2="174.80" stroke="#333" stroke-width="1.1"/>
<line x1="243.47" y1="172.40" x2="243.47" y2="174.80" stroke="#333" stroke-width="1.1"/>
<line x1="246.83" y1="172.40" x2="246.83" y2="174.80" stroke="#333" stroke-width="1.1"/>
<line x1="249.42" y1="172.40" x2="249.42" y2="174.80" stroke="#333" stroke-width="1.1"/>
<line x1="251.55" y1="172.40" x2="251.55" y2="174.80" stroke="#333" stroke-width="1.1"/>
<line x1="253.34" y1="172.40" x2="253.34" y2="174.80" stroke="#333" stroke-width="1.1"/>
<line x1="254.90" y1="172.40" x2="254.90" y2="174.80" stroke="#333" stroke-width="1.1"/>
<line x1="256.27" y1="172.40" x2="256.27" y2="174.80" stroke="#333" stroke-width="1.1"/>
<line x1="257.50" y1="172.40" x2="257.50" y2="176.00" stroke="#333" stroke-width="1.1"/>
<path transform="scale(0.5)" stroke="#000" stroke-width="2" stroke-opacity="0.27" fill="none" d="M603 210h2m46 2h2m68 7h2m-80 1h2m1 1h2m-8 5h2m0 1h2m5 0h2m7 1h2m11 0h2m-44 1h2m34 0h2m-47 1h2m14 0h2m50 0h2m-70 1h2m8 0h2m6 0h2m38 2h2m-79 1h2m10 1h2m100 0h2m-3 1h2m3 0h2m-45 1h2m-2 1h2m-41 1h2m12 0h2m-5 1h2m-54 2h2m118 0h2m-89 1h2m86 0h2m-112 1h2m56 0h2m50 0h2m-64 2h2m4 0h2m4 0h2m-74 2h2m49 0h2m-22 3h2m-31 2h2m119 10h2m-2 0h2m-76 2h2m62 2h2m-92 3h2m-15 3h2m58 0h2m43 1h2m-7 1h2m7 0h2m-115 1h2m4 0h2m0 0h2m106 0h2m-12 2h2m-88 1h2m22 0h2m43 0h2m19 0h2m1 0h2m-111 1h2m12 0h2m6 1h2m15 0h2m71 0h2m6 0h2m-103 1h2m3 0h2m4 0h2m8 0h2m76 0h2m-133 1h2m8 0h2m6 0h2m28 0h2m66 0h2m3 0h2m-1 0h2m0 0h2m1 0h2m-2 0h2m-117 1h2m-2 0h2m1 0h2m34 0h2m71 0h2m8 0h2m-111 1h2m-2 0h2m23 0h2m63 0h2m3 0h2m3 0h2m-138 1h2m19 0h2m5 0h2m9 0h2m1 0h2m89 0h2m-2 0h2m-138 1h2m7 0h2m3 0h2m12 0h2m7 0h2m16 0h2m2 0h2m55 0h2m13 0h2m-96 1h2m1 0h2m2 0h2m9 0h2m6 0h2m5 0h2m61 0h2m4 0h2m-97 1h2m44 0h2m12 0h2m32 0h2m2 0h2m4 0h2m-125 1h2m1 0h2m10 0h2m0 0h2m0 0h2m-2 0h2m1 0h2m6 0h2m32 0h2m39 0h2m0 0h2m0 0h2m-100 1h2m-1 0h2m-2 0h2m1 0h2m-1 0h2m1 0h2m60 0h2m22 0h2m1 0h2m2 0h2m3 0h2m6 0h2m-119 1h2m-1 0h2m4 0h2m13 0h2m26 0h2m48 0h2m-2 0h2m1 0h2m-2 0h2m2 0h2m-2 0h2m-119 1h2m8 0h2m31 0h2m10 0h2m3 0h2m12 0h2m14 0h2m12 0h2m2 0h2m1 0h2m1 0h2m-110 1h2m-2 0h2m3 0h2m1 0h2m3 0h2m2 0h2m8 0h2m27 0h2m15 0h2m0 0h2m2 0h2m22 0h2m-1 0h2m-1 0h2m0 0h2m-2 0h2m0 0h2m-2 0h2m-1 0h2m4 0h2m-137 1h2m18 0h2m3 0h2m1 0h2m1 0h2m1 0h2m9 0h2m-1 0h2m76 0h2m0 0h2m-1 0h2m0 0h2m-115 1h2m0 0h2m1 0h2m31 0h2m26 0h2m43 0h2m-1 0h2m0 0h2m-125 1h2m10 0h2m2 0h2m12 0h2m23 0h2m35 0h2m21 0h2m-1 0h2m-2 0h2m1 0h2m0 0h2m1 0h2m0 0h2m-106 1h2m-1 0h2m-2 0h2m2 0h2m4 0h2m1 0h2m25 0h2m7 0h2m21 0h2m4 0h2m9 0h2m-1 0h2m7 0h2m-138 1h2m15 0h2m4 0h2m-2 0h2m5 0h2m2 0h2m8 0h2m13 0h2m5 0h2m3 0h2m53 0h2m1 0h2m2 0h2m-1 0h2m0 0h2m-2 0h2m-1 0h2m-2 0h2m7 0h2m-123 1h2m5 0h2m-1 0h2m-1 0h2m1 0h2m19 0h2m22 0h2m0 0h2m7 0h2m35 0h2m0 0h2m-2 0h2m-1 0h2m-2 0h2m-1 0h2m-1 0h2m-1 0h2m-115 1h2m3 0h2m2 0h2m7 0h2m21 0h2m4 0h2m22 0h2m33 0h2m5 0h2m-2 0h2m-1 0h2m-1 0h2m-2 0h2m-1 0h2m5 0h2m-134 1h2m20 0h2m13 0h2m26 0h2m29 0h2m17 0h2m-2 0h2m-1 0h2m-2 0h2m-1 0h2m3 0h2m1 0h2m-1 0h2m-106 1h2m4 0h2m3 0h2m8 0h2m3 0h2m23 0h2m-1 0h2m0 0h2m8 0h2m23 0h2m-1 0h2m1 0h2m1 0h2m-1 0h2m-1 0h2m-2 0h2m2 0h2m-1 0h2m-125 1h2m23 0h2m-2 0h2m38 0h2m18 0h2m22 0h2m-2 0h2m3 0h2m-2 0h2m-2 0h2m0 0h2m-1 0h2m-1 0h2m0 0h2m0 0h2m-108 1h2m0 0h2m1 0h2m7 0h2m1 0h2m0 0h2m3 0h2m3 0h2m64 0h2m-2 0h2m4 0h2m-67 1h2m30 0h2m25 0h2m-2 0h2m1 0h2m-2 0h2m0 0h2m-1 0h2m-1 0h2m-2 0h2m1 0h2m0 0h2m-2 0h2m-2 0h2m-1 0h2m3 0h2m-127 1h2m9 0h2m31 0h2m28 0h2m37 0h2m0 0h2m-1 0h2m2 0h2m-1 0h2m2 0h2m-113 1h2m10 0h2m7 0h2m2 0h2m5 0h2m61 0h2m0 0h2m1 0h2m-2 0h2m-1 0h2m-1 0h2m-1 0h2m-101 1h2m35 0h2m0 0h2m13 0h2m9 0h2m28 0h2m0 0h2m0 0h2m-136 1h2m36 0h2m21 0h2m40 0h2m18 0h2m-2 0h2m2 0h2m2 0h2m-1 0h2m-1 0h2m-78 1h2m19 0h2m45 0h2m0 0h2m-1 0h2m-2 0h2m-2 0h2m-2 0h2m-1 0h2m-2 0h2m-2 0h2m0 0h2m-1 0h2m-2 0h2m4 0h2m-97 1h2m79 0h2m-1 0h2m-1 0h2m-1 0h2m-1 0h2m-1 0h2m-2 0h2m0 0h2m-1 0h2m-2 0h2m-1 0h2m0 0h2m3 0h2m-21 1h2m5 0h2m1 0h2m-2 0h2m2 0h2m-1 0h2m-67 1h2m47 0h2m3 0h2m3 0h2m-1 0h2m-2 0h2m3 0h2m-111 1h2m10 0h2m8 0h2m40 0h2m31 0h2m-2 0h2m3 0h2m-2 0h2m-2 0h2m-1 0h2m1 0h2m-1 0h2m-17 1h2m2 0h2m1 0h2m0 0h2m-2 0h2m1 0h2m-1 0h2m-2 0h2m1 0h2m0 0h2m2 0h2m-22 1h2m0 0h2m2 0h2m-2 0h2m-2 0h2m1 0h2m0 0h2m-2 0h2m-2 0h2m0 0h2m0 0h2m-10 1h2m-10 1h2m2 0h2m0 0h2m4 0h2m-1 0h2m-2 0h2m0 0h2m-2 0h2m-11 1h2m-1 0h2m0 0h2m-1 0h2m2 0h2m1 0h2m-6 1h2m-1 0h2m0 0h2m0 0h2m-12 1h2m-1 0h2m-1 0h2m3 0h2m-152 1h2m134 0h2m5 0h2m-2 0h2m-92 1h2m83 0h2m5 0h2m-1 1h2m1 0h2m0 0h2m-8 1h2m-1 0h2m-79 1h2m71 0h2m-5 1h2m1 0h2m3 0h2m0 0h2m-2 0h2m-8 1h2m3 0h2m-153 1h2m139 0h2m2 0h2m-1 0h2m1 0h2m-5 1h2m4 0h2m-10 1h2m6 0h2m-13 1h2m6 1h2m-2 2h2m-4 2h2"/>
<path transform="scale(0.5)" stroke="#000" stroke-width="2" stroke-opacity="0.27" fill="none" d="M671 202h2m-20 8h2m-26 1h2m81 0h2m0 4h2m-44 2h2m-65 2h2m1 1h2m34 0h2m-11 2h2m-29 2h2m-7 4h2m64 0h2m-44 1h2m76 0h2m-94 1h2m-12 2h2m15 0h2m97 1h2m-86 1h2m41 0h2m-3 2h2m-43 1h2m74 0h2m-97 1h2m-17 1h2m-4 1h2m41 3h2m-26 3h2m-9 1h2m-2 1h2m-1 0h2m45 4h2m-12 1h2m58 5h2m8 2h2m-27 13h2m17 0h2m-123 2h2m23 0h2m-1 0h2m8 0h2m52 0h2m-102 1h2m17 0h2m66 0h2m36 0h2m-91 1h2m17 1h2m21 0h2m43 0h2m-71 1h2m-45 1h2m15 0h2m0 0h2m1 1h2m55 0h2m16 0h2m0 0h2m-97 1h2m59 0h2m24 0h2m-78 1h2m100 1h2m-117 1h2m16 0h2m1 0h2m-2 0h2m48 0h2m2 0h2m26 0h2m14 0h2m-120 1h2m14 0h2m31 0h2m65 0h2m-2 0h2m-112 1h2m3 0h2m7 0h2m22 0h2m62 0h2m1 0h2m4 0h2m-1 0h2m-104 1h2m92 0h2m-1 0h2m-116 1h2m6 0h2m0 0h2m16 0h2m0 0h2m1 0h2m4 0h2m15 0h2m26 0h2m27 0h2m0 0h2m2 0h2m1 0h2m1 0h2m-130 1h2m9 0h2m19 0h2m3 0h2m3 0h2m21 0h2m6 0h2m0 0h2m36 0h2m2 0h2m1 0h2m6 0h2m1 0h2m-125 1h2m9 0h2m-1 0h2m3 0h2m6 0h2m9 0h2m3 0h2m-1 0h2m26 0h2m34 0h2m0 0h2m-2 0h2m-1 0h2m-2 0h2m-1 0h2m-1 0h2m12 0h2m-128 1h2m0 0h2m6 0h2m-1 0h2m2 0h2m4 0h2m90 0h2m-1 0h2m-1 0h2m2 0h2m-130 1h2m3 0h2m0 0h2m6 0h2m6 0h2m-1 0h2m-2 0h2m3 0h2m7 0h2m36 0h2m5 0h2m25 0h2m5 0h2m1 0h2m2 0h2m2 0h2m-117 1h2m2 0h2m-1 0h2m-1 0h2m2 0h2m42 0h2m10 0h2m8 0h2m22 0h2m3 0h2m-2 0h2m-1 0h2m-2 0h2m-1 0h2m-116 1h2m1 0h2m-1 0h2m4 0h2m6 0h2m9 0h2m2 0h2m-2 0h2m18 0h2m-2 0h2m-30 1h2m2 0h2m0 0h2m4 0h2m15 0h2m37 0h2m18 0h2m3 0h2m-117 1h2m-1 0h2m0 0h2m2 0h2m2 0h2m0 0h2m0 0h2m-1 0h2m8 0h2m9 0h2m25 0h2m41 0h2m-1 0h2m0 0h2m-2 0h2m3 0h2m-1 0h2m4 0h2m-125 1h2m0 0h2m0 0h2m9 0h2m-1 0h2m0 0h2m15 0h2m1 0h2m0 0h2m39 0h2m23 0h2m3 0h2m-1 0h2m-2 0h2m0 0h2m0 0h2m4 0h2m-135 1h2m8 0h2m8 0h2m3 0h2m0 0h2m0 0h2m20 0h2m4 0h2m55 0h2m-1 0h2m1 0h2m-2 0h2m1 0h2m0 0h2m-1 0h2m-2 0h2m-1 0h2m-2 0h2m6 0h2m-119 1h2m0 0h2m3 0h2m1 0h2m9 0h2m2 0h2m2 0h2m-1 0h2m29 0h2m4 0h2m29 0h2m3 0h2m-2 0h2m0 0h2m-2 0h2m2 0h2m-2 0h2m0 0h2m-107 1h2m5 0h2m35 0h2m28 0h2m22 0h2m-1 0h2m-1 0h2m-2 0h2m-1 0h2m-2 0h2m-1 0h2m-2 0h2m0 0h2m0 0h2m-110 1h2m24 0h2m3 0h2m73 0h2m-1 0h2m0 0h2m-120 1h2m2 0h2m2 0h2m7 0h2m2 0h2m0 0h2m2 0h2m12 0h2m8 0h2m2 0h2m9 0h2m24 0h2m6 0h2m0 0h2m1 0h2m-1 0h2m0 0h2m0 0h2m2 0h2m-2 0h2m-2 0h2m-2 0h2m-1 0h2m-2 0h2m-2 0h2m0 0h2m-1 0h2m8 0h2m-131 1h2m0 0h2m4 0h2m77 0h2m17 0h2m0 0h2m-1 0h2m-1 0h2m-1 0h2m-2 0h2m-1 0h2m0 0h2m-1 0h2m-1 0h2m1 0h2m5 0h2m-117 1h2m18 0h2m6 0h2m4 0h2m38 0h2m20 0h2m0 0h2m1 0h2m1 0h2m0 0h2m1 0h2m-114 1h2m9 0h2m61 0h2m12 0h2m12 0h2m-1 0h2m1 0h2m-1 0h2m0 0h2m-1 0h2m-105 1h2m4 0h2m34 0h2m8 0h2m2 0h2m2 0h2m28 0h2m-1 0h2m2 0h2m1 0h2m-2 0h2m1 0h2m1 0h2m3 0h2m-121 1h2m17 0h2m7 0h2m43 0h2m25 0h2m3 0h2m-2 0h2m-2 0h2m0 0h2m4 0h2m-115 1h2m15 0h2m9 0h2m14 0h2m27 0h2m6 0h2m3 0h2m12 0h2m0 0h2m4 0h2m1 0h2m13 0h2m-125 1h2m8 0h2m74 0h2m9 0h2m3 0h2m0 0h2m-1 0h2m-1 0h2m-1 0h2m0 0h2m-2 0h2m-1 0h2m-2 0h2m-117 1h2m8 0h2m8 0h2m4 0h2m9 0h2m15 0h2m7 0h2m10 0h2m1 0h2m25 0h2m1 0h2m0 0h2m-1 0h2m-2 0h2m-1 0h2m-2 0h2m1 0h2m0 0h2m0 0h2m-102 1h2m2 0h2m2 0h2m13 0h2m60 0h2m2 0h2m0 0h2m-1 0h2m-2 0h2m0 0h2m-1 0h2m-1 0h2m1 0h2m-112 1h2m37 0h2m8 0h2m15 0h2m30 0h2m0 0h2m-1 0h2m-2 0h2m-1 0h2m-1 0h2m-2 0h2m-1 0h2m3 0h2m-67 1h2m57 0h2m-2 0h2m-2 0h2m-1 0h2m1 0h2m-1 0h2m7 0h2m-87 1h2m62 0h2m1 0h2m-1 0h2m-1 0h2m0 0h2m-2 0h2m-1 0h2m0 0h2m0 0h2m-1 0h2m-1 0h2m-2 0h2m-110 1h2m24 0h2m71 0h2m-1 0h2m-2 0h2m1 0h2m0 0h2m-59 1h2m42 0h2m4 0h2m1 0h2m-1 0h2m1 0h2m-2 0h2m0 0h2m22 0h2m-157 1h2m46 0h2m73 0h2m1 0h2m9 0h2m-75 1h2m52 0h2m1 0h2m-1 0h2m-1 0h2m-1 0h2m-2 0h2m-1 0h2m-2 0h2m2 0h2m13 0h2m-67 1h2m36 0h2m-1 0h2m0 0h2m2 0h2m-2 0h2m-1 0h2m1 0h2m-1 0h2m-19 1h2m2 0h2m2 0h2m0 0h2m0 0h2m-1 0h2m7 0h2m-16 1h2m5 0h2m3 0h2m2 0h2m-17 1h2m4 0h2m-1 0h2m-7 1h2m0 0h2m-2 0h2m2 0h2m6 0h2m-14 1h2m0 0h2m1 0h2m4 0h2m-59 1h2m38 0h2m-1 0h2m7 0h2m-13 1h2m0 0h2m7 0h2m-2 0h2m-9 1h2m7 0h2m-21 1h2m5 0h2m5 1h2m-10 1h2m0 0h2m6 0h2m3 0h2m-1 1h2m-12 2h2m-11 3h2m5 0h2m0 0h2m-24 1h2m3 1h2"/>
<path transform="scale(0.5)" stroke="#000" stroke-width="2" stroke-opacity="0.27" fill="none" d="M654 215h2m-10 5h2m9 3h2m-1 0h2m57 0h2m-60 1h2m27 0h2m-87 1h2m108 0h2m-78 1h2m-12 1h2m24 0h2m-14 2h2m13 1h2m-48 1h2m100 0h2m-95 1h2m25 0h2m0 1h2m-23 1h2m86 0h2m-118 1h2m9 0h2m5 0h2m9 0h2m-32 1h2m4 0h2m74 0h2m8 0h2m-102 2h2m26 1h2m65 0h2m-53 1h2m0 2h2m-31 1h2m106 5h2m-117 1h2m48 1h2m69 2h2m-17 1h2m-52 2h2m-41 1h2m94 4h2m3 1h2m-99 4h2m86 0h2m-98 4h2m28 1h2m-30 1h2m-7 1h2m2 1h2m-18 2h2m22 0h2m97 0h2m-119 1h2m40 1h2m-5 1h2m73 0h2m-121 1h2m6 0h2m8 0h2m-19 1h2m9 0h2m3 0h2m88 0h2m-62 1h2m64 0h2m2 0h2m-117 1h2m8 0h2m-2 0h2m38 0h2m41 0h2m-80 1h2m23 0h2m67 0h2m1 0h2m-111 1h2m33 0h2m76 0h2m-126 1h2m15 0h2m6 0h2m1 0h2m8 0h2m73 0h2m8 0h2m-11 1h2m7 0h2m-112 1h2m35 0h2m8 0h2m51 0h2m-1 0h2m1 0h2m0 0h2m-1 0h2m-1 0h2m1 0h2m-111 1h2m1 0h2m0 0h2m9 0h2m11 0h2m10 0h2m22 0h2m27 0h2m1 0h2m2 0h2m1 0h2m0 0h2m-91 1h2m9 0h2m7 0h2m58 0h2m1 0h2m7 0h2m-83 1h2m25 0h2m14 0h2m22 0h2m3 0h2m0 0h2m-1 0h2m-1 0h2m-122 1h2m11 0h2m-2 0h2m16 0h2m29 0h2m51 0h2m8 0h2m-127 1h2m15 0h2m5 0h2m4 0h2m2 0h2m7 0h2m68 0h2m3 0h2m-1 0h2m-1 0h2m-106 1h2m4 0h2m8 0h2m22 0h2m10 0h2m15 0h2m30 0h2m-2 0h2m2 0h2m-1 0h2m-105 1h2m3 0h2m1 0h2m3 0h2m9 0h2m18 0h2m7 0h2m40 0h2m0 0h2m6 0h2m-1 0h2m-111 1h2m-2 0h2m13 0h2m9 0h2m74 0h2m-2 0h2m0 0h2m-1 0h2m-1 0h2m-1 0h2m0 0h2m-121 1h2m9 0h2m1 0h2m1 0h2m0 0h2m34 0h2m45 0h2m5 0h2m2 0h2m2 0h2m-2 0h2m1 0h2m1 0h2m-123 1h2m8 0h2m4 0h2m-1 0h2m9 0h2m-2 0h2m-1 0h2m4 0h2m0 0h2m16 0h2m6 0h2m39 0h2m6 0h2m-1 0h2m-2 0h2m-1 0h2m0 0h2m-1 0h2m5 0h2m-123 1h2m6 0h2m-1 0h2m0 0h2m2 0h2m30 0h2m9 0h2m6 0h2m-2 0h2m33 0h2m-1 0h2m1 0h2m-1 0h2m-1 0h2m-2 0h2m1 0h2m5 0h2m-120 1h2m30 0h2m42 0h2m1 0h2m25 0h2m0 0h2m-2 0h2m0 0h2m-1 0h2m0 0h2m-2 0h2m-2 0h2m-1 0h2m1 0h2m0 0h2m-111 1h2m8 0h2m67 0h2m17 0h2m0 0h2m0 0h2m-1 0h2m-1 0h2m0 0h2m-141 1h2m26 0h2m0 0h2m0 0h2m15 0h2m50 0h2m23 0h2m1 0h2m-2 0h2m-1 0h2m-1 0h2m-2 0h2m-1 0h2m-1 0h2m0 0h2m1 0h2m0 0h2m-124 1h2m5 0h2m1 0h2m1 0h2m16 0h2m28 0h2m12 0h2m11 0h2m21 0h2m9 0h2m3 0h2m-150 1h2m30 0h2m9 0h2m5 0h2m-1 0h2m6 0h2m63 0h2m7 0h2m0 0h2m0 0h2m-1 0h2m-2 0h2m1 0h2m1 0h2m-1 0h2m-111 1h2m1 0h2m21 0h2m0 0h2m3 0h2m30 0h2m30 0h2m3 0h2m-1 0h2m-2 0h2m-141 1h2m24 0h2m11 0h2m89 0h2m1 0h2m-2 0h2m-1 0h2m0 0h2m-1 0h2m-2 0h2m2 0h2m-1 0h2m-1 0h2m-1 0h2m-118 1h2m31 0h2m6 0h2m13 0h2m9 0h2m1 0h2m32 0h2m-1 0h2m3 0h2m-102 1h2m-1 0h2m7 0h2m40 0h2m-1 0h2m25 0h2m5 0h2m10 0h2m-1 0h2m-1 0h2m-2 0h2m-2 0h2m0 0h2m-2 0h2m-2 0h2m-1 0h2m1 0h2m-1 0h2m-119 1h2m16 0h2m18 0h2m22 0h2m35 0h2m-2 0h2m3 0h2m-2 0h2m0 0h2m-1 0h2m0 0h2m-2 0h2m-1 0h2m-1 0h2m-2 0h2m0 0h2m-2 0h2m6 0h2m-105 1h2m2 0h2m4 0h2m8 0h2m-1 0h2m61 0h2m3 0h2m-2 0h2m-127 1h2m21 0h2m1 0h2m96 0h2m-2 0h2m0 0h2m-1 0h2m-2 0h2m1 0h2m-112 1h2m1 0h2m10 0h2m25 0h2m27 0h2m28 0h2m-1 0h2m5 0h2m-2 0h2m11 0h2m-115 1h2m60 0h2m2 0h2m25 0h2m-1 0h2m-2 0h2m-1 0h2m-2 0h2m-1 0h2m-2 0h2m-2 0h2m-1 0h2m-113 1h2m5 0h2m99 0h2m0 0h2m-1 0h2m0 0h2m-2 0h2m9 0h2m-85 1h2m24 0h2m19 0h2m8 0h2m2 0h2m0 0h2m1 0h2m-1 0h2m-1 0h2m-1 0h2m5 0h2m-2 0h2m0 0h2m-2 0h2m-115 1h2m26 0h2m37 0h2m2 0h2m27 0h2m2 0h2m-2 0h2m-1 0h2m-1 0h2m0 0h2m1 0h2m0 0h2m-77 1h2m9 0h2m-1 0h2m4 0h2m42 0h2m0 0h2m-2 0h2m-1 0h2m0 0h2m-2 0h2m0 0h2m-2 0h2m-1 0h2m-2 0h2m-1 0h2m-1 0h2m-9 1h2m-1 0h2m-1 0h2m0 0h2m-1 0h2m3 0h2m-110 1h2m2 0h2m70 0h2m17 0h2m-1 0h2m0 0h2m-1 0h2m0 0h2m0 0h2m-2 0h2m-1 0h2m-1 0h2m-29 1h2m16 0h2m2 0h2m-2 0h2m-2 0h2m-1 0h2m-2 0h2m2 0h2m-59 1h2m24 0h2m20 0h2m1 0h2m2 0h2m1 0h2m-10 1h2m0 0h2m5 0h2m-1 0h2m-1 0h2m-1 0h2m-13 1h2m-1 0h2m-2 0h2m2 0h2m0 0h2m3 0h2m-73 1h2m27 0h2m24 0h2m0 0h2m2 0h2m2 0h2m-2 0h2m0 0h2m-22 1h2m-1 0h2m8 0h2m8 0h2m-168 1h2m26 0h2m99 0h2m39 0h2m-9 2h2m0 0h2m-60 1h2m14 0h2m25 0h2m1 0h2m2 0h2m-1 0h2m-1 0h2m-1 0h2m4 0h2m-13 1h2m6 0h2m-10 1h2m4 0h2m-12 1h2m4 0h2m-2 0h2m1 0h2m-2 0h2m0 2h2m-5 1h2m2 2h2m-66 1h2m-60 3h2"/>
<path transform="scale(0.5)" stroke="#000" stroke-width="2" stroke-opacity="0.27" fill="none" d="M709 184h2m-88 23h2m26 2h2m1 0h2m-10 5h2m-38 2h2m58 0h2m-43 5h2m8 1h2m-11 6h2m-5 1h2m-23 1h2m44 0h2m-67 1h2m15 0h2m59 0h2m-29 2h2m38 0h2m-16 1h2m46 0h2m-102 1h2m101 0h2m-98 7h2m92 1h2m-118 1h2m45 1h2m0 0h2m40 0h2m19 0h2m-68 3h2m-40 2h2m21 2h2m85 1h2m-3 2h2m-118 2h2m24 9h2m1 3h2m-20 1h2m12 1h2m-22 2h2m110 0h2m-98 2h2m89 0h2m-91 1h2m-8 1h2m98 0h2m-109 1h2m4 1h2m105 0h2m-94 1h2m-8 1h2m-12 1h2m-1 0h2m-17 1h2m12 0h2m-2 0h2m5 0h2m85 0h2m10 0h2m-1 0h2m-113 1h2m9 0h2m0 0h2m17 0h2m60 0h2m13 0h2m-116 1h2m0 0h2m-1 0h2m18 0h2m8 0h2m78 0h2m-2 0h2m-117 1h2m6 0h2m5 0h2m-1 0h2m5 0h2m2 0h2m11 0h2m66 0h2m1 0h2m2 0h2m-119 1h2m-1 0h2m11 0h2m9 0h2m5 0h2m78 0h2m1 0h2m3 0h2m-117 1h2m15 0h2m0 0h2m2 0h2m24 0h2m58 0h2m-1 0h2m4 0h2m0 0h2m-114 1h2m-1 0h2m0 0h2m3 0h2m6 0h2m0 0h2m16 0h2m59 0h2m2 0h2m-2 0h2m0 0h2m2 0h2m14 0h2m-141 1h2m4 0h2m0 0h2m1 0h2m1 0h2m-2 0h2m13 0h2m-1 0h2m3 0h2m5 0h2m-1 0h2m23 0h2m46 0h2m-115 1h2m6 0h2m-1 0h2m0 0h2m-2 0h2m18 0h2m0 0h2m18 0h2m41 0h2m13 0h2m-1 0h2m7 0h2m-136 1h2m23 0h2m3 0h2m9 0h2m42 0h2m32 0h2m2 0h2m2 0h2m0 0h2m6 0h2m-121 1h2m-2 0h2m14 0h2m14 0h2m-1 0h2m72 0h2m-96 1h2m2 0h2m3 0h2m-2 0h2m4 0h2m8 0h2m17 0h2m10 0h2m33 0h2m0 0h2m-1 0h2m1 0h2m0 0h2m-1 0h2m-2 0h2m0 0h2m24 0h2m-165 1h2m1 0h2m15 0h2m19 0h2m7 0h2m1 0h2m6 0h2m34 0h2m30 0h2m4 0h2m1 0h2m-124 1h2m3 0h2m13 0h2m5 0h2m2 0h2m23 0h2m3 0h2m0 0h2m4 0h2m38 0h2m-2 0h2m7 0h2m1 0h2m1 0h2m-118 1h2m10 0h2m39 0h2m33 0h2m10 0h2m0 0h2m5 0h2m-2 0h2m-1 0h2m-119 1h2m-1 0h2m11 0h2m0 0h2m-1 0h2m2 0h2m-1 0h2m5 0h2m0 0h2m62 0h2m12 0h2m0 0h2m-2 0h2m5 0h2m-2 0h2m0 0h2m-118 1h2m1 0h2m8 0h2m15 0h2m73 0h2m0 0h2m2 0h2m-1 0h2m-2 0h2m-1 0h2m-1 0h2m-1 0h2m-102 1h2m10 0h2m79 0h2m4 0h2m-2 0h2m0 0h2m-1 0h2m-122 1h2m9 0h2m40 0h2m51 0h2m5 0h2m0 0h2m2 0h2m4 0h2m-92 1h2m48 0h2m11 0h2m5 0h2m3 0h2m0 0h2m2 0h2m-1 0h2m0 0h2m1 0h2m1 0h2m9 0h2m-136 1h2m-1 0h2m2 0h2m8 0h2m16 0h2m56 0h2m11 0h2m5 0h2m4 0h2m-118 1h2m15 0h2m4 0h2m2 0h2m5 0h2m54 0h2m14 0h2m-1 0h2m0 0h2m-2 0h2m-1 0h2m0 0h2m0 0h2m0 0h2m7 0h2m-70 1h2m45 0h2m1 0h2m1 0h2m-1 0h2m-2 0h2m-107 1h2m1 0h2m15 0h2m80 0h2m-1 0h2m1 0h2m-1 0h2m-2 0h2m1 0h2m-12 1h2m1 0h2m1 0h2m-1 0h2m2 0h2m-2 0h2m2 0h2m-55 1h2m13 0h2m19 0h2m0 0h2m1 0h2m-2 0h2m-1 0h2m-2 0h2m-1 0h2m-1 0h2m2 0h2m1 0h2m1 0h2m-1 0h2m-74 1h2m22 0h2m32 0h2m-2 0h2m-2 0h2m0 0h2m-1 0h2m0 0h2m-2 0h2m-2 0h2m-1 0h2m-91 1h2m78 0h2m-1 0h2m-1 0h2m-1 0h2m-1 0h2m-2 0h2m-1 0h2m-2 0h2m-1 0h2m-1 0h2m-2 0h2m-2 0h2m-1 0h2m-1 0h2m-2 0h2m0 0h2m-118 1h2m14 0h2m49 0h2m36 0h2m-2 0h2m-1 0h2m5 0h2m-2 0h2m4 0h2m-154 1h2m44 0h2m20 0h2m69 0h2m0 0h2m-2 0h2m-1 0h2m0 0h2m-1 0h2m-2 0h2m0 0h2m-1 0h2m-95 1h2m1 0h2m12 0h2m59 0h2m3 0h2m-1 0h2m-1 0h2m-2 0h2m-2 0h2m0 0h2m-1 0h2m0 0h2m-1 0h2m-1 0h2m-2 0h2m-2 0h2m-2 0h2m-1 0h2m-2 0h2m-1 0h2m-15 1h2m0 0h2m-1 0h2m1 0h2m-1 0h2m-2 0h2m-2 0h2m-1 0h2m-1 0h2m-1 0h2m-1 0h2m-1 0h2m0 0h2m-103 1h2m84 0h2m-1 0h2m3 0h2m-1 0h2m0 0h2m0 0h2m1 0h2m-18 1h2m-1 0h2m5 0h2m-1 0h2m-2 0h2m1 0h2m-115 1h2m54 0h2m32 0h2m3 0h2m7 0h2m3 0h2m2 0h2m-1 0h2m0 0h2m-1 0h2m-1 0h2m-11 1h2m0 0h2m1 0h2m-96 1h2m62 0h2m19 0h2m1 0h2m-1 0h2m0 0h2m-1 0h2m-1 0h2m-2 0h2m-1 0h2m-1 0h2m-62 1h2m51 0h2m-1 0h2m-1 0h2m9 0h2m-12 1h2m-2 0h2m1 0h2m1 0h2m-2 0h2m-97 1h2m67 0h2m14 0h2m0 0h2m3 0h2m-1 0h2m-1 0h2m-2 0h2m0 0h2m-1 0h2m0 0h2m-15 1h2m0 0h2m-1 0h2m-1 0h2m-1 0h2m-1 0h2m4 0h2m-54 1h2m44 0h2m2 0h2m-119 1h2m109 0h2m1 0h2m-109 1h2m89 0h2m8 0h2m3 0h2m-2 0h2m1 0h2m-11 1h2m-1 1h2m1 0h2m0 0h2m0 0h2m-12 1h2m5 0h2m11 0h2m-20 1h2m-3 1h2m5 0h2m3 0h2m-15 1h2m8 0h2m-1 1h2m-2 0h2m-10 1h2m-23 1h2m18 2h2m4 0h2m5 0h2m-17 3h2"/>
<path transform="scale(0.5)" stroke="#000" stroke-width="2" stroke-opacity="0.27" fill="none" d="M618 216h2m11 1h2m19 0h2m-38 1h2m-15 2h2m17 1h2m7 0h2m1 0h2m-8 1h2m8 1h2m-41 1h2m3 0h2m-1 1h2m11 1h2m47 0h2m41 2h2m-79 1h2m33 0h2m-17 1h2m28 0h2m-15 2h2m47 0h2m-163 2h2m97 1h2m-25 1h2m-34 1h2m48 2h2m-22 6h2m-30 2h2m44 3h2m-47 4h2m110 0h2m-37 3h2m-65 12h2m35 0h2m11 1h2m-61 1h2m103 0h2m-108 2h2m6 1h2m44 0h2m12 1h2m31 0h2m8 0h2m32 0h2m-138 1h2m7 0h2m83 0h2m-112 1h2m113 1h2m-110 1h2m8 0h2m113 0h2m-59 1h2m-64 1h2m40 0h2m47 0h2m-82 1h2m89 0h2m26 0h2m-146 1h2m21 0h2m25 0h2m-2 0h2m54 0h2m6 0h2m-2 0h2m3 0h2m-119 1h2m2 0h2m62 0h2m31 0h2m12 0h2m14 0h2m-140 1h2m30 0h2m22 0h2m34 0h2m18 0h2m2 0h2m3 0h2m-1 0h2m-2 0h2m-150 1h2m20 0h2m16 0h2m14 0h2m32 0h2m51 0h2m-2 0h2m-2 0h2m6 0h2m1 0h2m-131 1h2m23 0h2m-1 0h2m26 0h2m51 0h2m2 0h2m5 0h2m15 0h2m-131 1h2m23 0h2m0 0h2m58 0h2m27 0h2m-2 0h2m4 0h2m-125 1h2m3 0h2m0 0h2m2 0h2m2 0h2m1 0h2m43 0h2m-2 0h2m46 0h2m0 0h2m-1 0h2m-114 1h2m-1 0h2m9 0h2m0 0h2m15 0h2m71 0h2m7 0h2m-120 1h2m-1 0h2m3 0h2m2 0h2m6 0h2m2 0h2m8 0h2m2 0h2m6 0h2m23 0h2m11 0h2m26 0h2m-1 0h2m-1 0h2m4 0h2m0 0h2m1 0h2m-116 1h2m11 0h2m3 0h2m22 0h2m21 0h2m29 0h2m11 0h2m-126 1h2m12 0h2m12 0h2m1 0h2m0 0h2m34 0h2m30 0h2m13 0h2m-1 0h2m3 0h2m0 0h2m-1 0h2m1 0h2m-120 1h2m1 0h2m7 0h2m-1 0h2m-2 0h2m-2 0h2m12 0h2m15 0h2m0 0h2m60 0h2m-1 0h2m0 0h2m2 0h2m-103 1h2m4 0h2m5 0h2m8 0h2m70 0h2m0 0h2m-2 0h2m-106 1h2m7 0h2m-2 0h2m-2 0h2m2 0h2m8 0h2m0 0h2m-1 0h2m9 0h2m0 0h2m15 0h2m7 0h2m33 0h2m-1 0h2m0 0h2m-2 0h2m3 0h2m2 0h2m1 0h2m-112 1h2m5 0h2m4 0h2m21 0h2m21 0h2m0 0h2m31 0h2m1 0h2m3 0h2m-1 0h2m-1 0h2m-1 0h2m-118 1h2m6 0h2m-1 0h2m-2 0h2m16 0h2m4 0h2m12 0h2m42 0h2m10 0h2m1 0h2m2 0h2m-1 0h2m3 0h2m4 0h2m3 0h2m-127 1h2m-1 0h2m6 0h2m8 0h2m5 0h2m0 0h2m1 0h2m11 0h2m4 0h2m7 0h2m10 0h2m30 0h2m-2 0h2m2 0h2m0 0h2m-2 0h2m0 0h2m-1 0h2m-1 0h2m0 0h2m13 0h2m-112 1h2m0 0h2m8 0h2m64 0h2m1 0h2m-1 0h2m-2 0h2m0 0h2m-1 0h2m0 0h2m-1 0h2m-1 0h2m-2 0h2m-1 0h2m-2 0h2m-1 0h2m0 0h2m-1 0h2m2 0h2m-120 1h2m3 0h2m14 0h2m0 0h2m33 0h2m40 0h2m3 0h2m6 0h2m-2 0h2m-1 0h2m-1 0h2m2 0h2m-125 1h2m5 0h2m20 0h2m5 0h2m10 0h2m6 0h2m47 0h2m0 0h2m-1 0h2m2 0h2m-2 0h2m0 0h2m-1 0h2m-1 0h2m-114 1h2m-1 0h2m37 0h2m48 0h2m6 0h2m1 0h2m1 0h2m0 0h2m0 0h2m-2 0h2m0 0h2m2 0h2m-98 1h2m35 0h2m12 0h2m11 0h2m2 0h2m9 0h2m3 0h2m0 0h2m1 0h2m-1 0h2m-2 0h2m-1 0h2m-2 0h2m-1 0h2m4 0h2m-97 1h2m-1 0h2m37 0h2m38 0h2m-2 0h2m-2 0h2m2 0h2m-1 0h2m-2 0h2m0 0h2m-1 0h2m2 0h2m-1 0h2m-119 1h2m1 0h2m33 0h2m62 0h2m-1 0h2m1 0h2m0 0h2m-2 0h2m-1 0h2m-1 0h2m-2 0h2m-2 0h2m-1 0h2m1 0h2m0 0h2m0 0h2m-111 1h2m14 0h2m-2 0h2m5 0h2m58 0h2m18 0h2m-1 0h2m-2 0h2m1 0h2m-1 0h2m3 0h2m-86 1h2m4 0h2m4 0h2m6 0h2m34 0h2m10 0h2m-2 0h2m3 0h2m-1 0h2m1 0h2m6 0h2m-116 1h2m8 0h2m56 0h2m11 0h2m2 0h2m13 0h2m-1 0h2m2 0h2m7 0h2m-2 0h2m-84 1h2m21 0h2m47 0h2m-45 1h2m18 0h2m2 0h2m10 0h2m-1 0h2m0 0h2m-2 0h2m0 0h2m-1 0h2m0 0h2m2 0h2m1 0h2m-116 1h2m96 0h2m0 0h2m1 0h2m-1 0h2m-1 0h2m0 0h2m-1 0h2m-23 1h2m7 0h2m3 0h2m0 0h2m-1 0h2m1 0h2m-1 0h2m4 0h2m-2 0h2m-74 1h2m9 0h2m45 0h2m-1 0h2m0 0h2m0 0h2m-1 0h2m-2 0h2m-1 0h2m0 0h2m-2 0h2m-1 0h2m-2 0h2m0 0h2m-1 0h2m-2 0h2m-1 0h2m-110 1h2m88 0h2m-1 0h2m1 0h2m2 0h2m1 0h2m-2 0h2m-1 0h2m-1 0h2m1 0h2m1 0h2m0 0h2m-79 1h2m61 0h2m-2 0h2m2 0h2m11 0h2m-104 1h2m66 0h2m10 0h2m2 0h2m2 0h2m-1 0h2m-1 0h2m-59 1h2m44 0h2m-2 0h2m2 0h2m2 0h2m-1 0h2m-1 0h2m-2 0h2m-1 0h2m-1 0h2m0 0h2m-14 1h2m1 0h2m0 0h2m3 0h2m-1 0h2m-2 0h2m1 0h2m-2 0h2m-103 1h2m30 0h2m1 0h2m51 0h2m-2 0h2m-1 0h2m-1 0h2m-2 0h2m0 0h2m-1 0h2m-1 0h2m0 0h2m0 0h2m-13 1h2m3 0h2m2 0h2m-9 1h2m17 0h2m-173 1h2m151 0h2m0 0h2m-1 0h2m11 0h2m-16 1h2m-1 0h2m2 0h2m-1 0h2m-72 1h2m61 0h2m0 0h2m-1 0h2m-1 0h2m3 0h2m-16 1h2m4 0h2m1 1h2m2 0h2m-12 1h2m2 0h2m-9 1h2m7 0h2m0 0h2m-4 1h2m1 0h2m-1 1h2m-33 1h2m26 0h2m-2 0h2m16 0h2m-22 1h2m-1 0h2m-12 1h2m1 1h2m7 0h2m-8 2h2m-4 1h2m0 1h2"/>
<path transform="scale(0.5)" stroke="#000" stroke-width="2" stroke-opacity="0.27" fill="none" d="M599 203h2m17 5h2m22 1h2m-6 1h2m6 0h2m13 3h2m-30 1h2m36 5h2m-43 1h2m84 1h2m-77 2h2m44 0h2m-47 1h2m-49 2h2m18 0h2m94 0h2m-93 4h2m-24 1h2m-4 1h2m115 0h2m-95 1h2m89 0h2m-123 2h2m69 0h2m54 0h2m-100 1h2m56 0h2m-24 3h2m28 0h2m-79 1h2m81 0h2m-70 2h2m60 2h2m-38 1h2m4 1h2m-20 2h2m-3 2h2m13 0h2m-9 5h2m25 1h2m45 4h2m-72 3h2m-42 2h2m2 0h2m60 0h2m-59 6h2m97 1h2m-5 2h2m-81 1h2m12 0h2m64 1h2m-17 1h2m7 0h2m-115 1h2m13 0h2m41 0h2m53 0h2m1 0h2m1 0h2m2 0h2m10 0h2m-14 1h2m-102 1h2m0 0h2m89 0h2m0 1h2m-111 1h2m4 0h2m8 0h2m18 0h2m2 0h2m-36 1h2m7 0h2m0 0h2m2 0h2m21 0h2m-32 1h2m12 0h2m-40 1h2m9 0h2m12 0h2m38 0h2m45 0h2m4 0h2m9 0h2m-123 1h2m13 0h2m4 0h2m2 0h2m23 0h2m58 0h2m-1 0h2m4 0h2m-126 1h2m23 0h2m4 0h2m7 0h2m41 0h2m26 0h2m3 0h2m-2 0h2m1 0h2m2 0h2m-117 1h2m27 0h2m16 0h2m8 0h2m19 0h2m27 0h2m-1 0h2m11 0h2m-146 1h2m21 0h2m11 0h2m2 0h2m3 0h2m54 0h2m22 0h2m11 0h2m-111 1h2m2 0h2m0 0h2m1 0h2m16 0h2m25 0h2m45 0h2m5 0h2m-117 1h2m12 0h2m2 0h2m6 0h2m37 0h2m6 0h2m32 0h2m0 0h2m0 0h2m-1 0h2m-2 0h2m-1 0h2m-120 1h2m9 0h2m4 0h2m10 0h2m12 0h2m0 0h2m66 0h2m1 0h2m-1 0h2m-2 0h2m-1 0h2m2 0h2m-124 1h2m8 0h2m1 0h2m0 0h2m-1 0h2m6 0h2m-1 0h2m13 0h2m57 0h2m10 0h2m-1 0h2m1 0h2m-2 0h2m1 0h2m-129 1h2m44 0h2m1 0h2m24 0h2m20 0h2m23 0h2m0 0h2m0 0h2m-109 1h2m1 0h2m14 0h2m72 0h2m5 0h2m-1 0h2m1 0h2m0 0h2m-2 0h2m0 0h2m-1 0h2m-120 1h2m0 0h2m-1 0h2m8 0h2m-2 0h2m-2 0h2m4 0h2m19 0h2m68 0h2m1 0h2m4 0h2m-114 1h2m-1 0h2m1 0h2m23 0h2m15 0h2m9 0h2m15 0h2m15 0h2m10 0h2m6 0h2m-2 0h2m2 0h2m11 0h2m-134 1h2m6 0h2m15 0h2m40 0h2m38 0h2m-2 0h2m-1 0h2m4 0h2m-1 0h2m-1 0h2m-1 0h2m-1 0h2m-125 1h2m13 0h2m1 0h2m90 0h2m-1 0h2m1 0h2m0 0h2m-1 0h2m1 0h2m4 0h2m-137 1h2m48 0h2m2 0h2m1 0h2m11 0h2m7 0h2m36 0h2m3 0h2m-1 0h2m-1 0h2m0 0h2m-1 0h2m-1 0h2m-2 0h2m-1 0h2m-1 0h2m-2 0h2m-105 1h2m0 0h2m7 0h2m28 0h2m47 0h2m6 0h2m0 0h2m-2 0h2m-1 0h2m-2 0h2m-1 0h2m-2 0h2m-1 0h2m-1 0h2m-118 1h2m25 0h2m12 0h2m20 0h2m-2 0h2m-1 0h2m-1 0h2m24 0h2m16 0h2m-1 0h2m-2 0h2m1 0h2m-1 0h2m-1 0h2m-116 1h2m-1 0h2m9 0h2m37 0h2m7 0h2m3 0h2m3 0h2m-1 0h2m32 0h2m2 0h2m-1 0h2m-2 0h2m-1 0h2m0 0h2m-1 0h2m-1 0h2m-1 0h2m1 0h2m-121 1h2m4 0h2m11 0h2m12 0h2m3 0h2m3 0h2m23 0h2m13 0h2m18 0h2m2 0h2m-2 0h2m0 0h2m0 0h2m-2 0h2m-2 0h2m2 0h2m2 0h2m1 0h2m-20 1h2m0 0h2m-2 0h2m-1 0h2m-2 0h2m-2 0h2m-2 0h2m1 0h2m-1 0h2m-2 0h2m-1 0h2m1 0h2m-2 0h2m-2 0h2m-2 0h2m-108 1h2m3 0h2m46 0h2m25 0h2m14 0h2m-2 0h2m-2 0h2m-1 0h2m-1 0h2m0 0h2m-2 0h2m2 0h2m-1 0h2m0 0h2m1 0h2m-163 1h2m40 0h2m1 0h2m7 0h2m32 0h2m-37 1h2m21 0h2m1 0h2m65 0h2m-1 0h2m-1 0h2m-2 0h2m4 0h2m0 0h2m-94 1h2m79 0h2m3 0h2m-1 0h2m-2 0h2m4 0h2m-1 0h2m-95 1h2m24 0h2m54 0h2m-1 0h2m1 0h2m0 0h2m-1 0h2m-2 0h2m-1 0h2m-2 0h2m0 0h2m-1 0h2m-1 0h2m-115 1h2m100 0h2m2 0h2m-1 0h2m-2 0h2m-1 0h2m-2 0h2m0 0h2m1 0h2m1 0h2m-88 1h2m68 0h2m2 0h2m-1 0h2m-1 0h2m-1 0h2m2 0h2m-113 1h2m14 0h2m41 0h2m37 0h2m2 0h2m-1 0h2m0 0h2m-1 0h2m-1 0h2m-2 0h2m2 0h2m-2 0h2m-1 0h2m4 0h2m-152 1h2m132 0h2m0 0h2m-1 0h2m-2 0h2m2 0h2m-1 0h2m-1 0h2m2 0h2m-104 1h2m84 0h2m-1 0h2m4 0h2m-1 0h2m-2 0h2m1 0h2m-2 0h2m-1 0h2m2 0h2m-15 1h2m1 0h2m1 0h2m-2 0h2m-1 0h2m-117 1h2m102 0h2m5 0h2m0 0h2m0 0h2m0 0h2m-94 1h2m84 0h2m-1 0h2m-1 0h2m-1 0h2m-1 0h2m0 0h2m-65 1h2m51 0h2m2 0h2m-2 0h2m0 0h2m-1 0h2m0 0h2m-1 0h2m-2 0h2m0 0h2m-86 1h2m28 0h2m35 0h2m-1 0h2m6 0h2m-2 0h2m-69 1h2m60 0h2m0 0h2m0 0h2m1 0h2m2 0h2m-17 1h2m-105 1h2m102 0h2m4 0h2m4 0h2m-2 0h2m-1 0h2m-11 1h2m-1 0h2m-1 0h2m1 0h2m6 0h2m-2 0h2m-14 1h2m0 0h2m5 0h2m-9 1h2m0 0h2m-2 0h2m7 0h2m-81 2h2m55 0h2m5 0h2m2 0h2m6 0h2m21 1h2m-39 1h2m10 0h2m-17 1h2m-2 1h2m10 0h2m-12 1h2m4 0h2m4 0h2m-2 0h2m-6 1h2m1 1h2m1 0h2m-149 1h2m133 0h2m2 0h2m4 1h2m-64 1h2m65 0h2m-15 1h2m1 0h2m-1 1h2"/>
<path transform="scale(0.5)" stroke="#000" stroke-width="2" stroke-opacity="0.27" fill="none" d="M601 207h2m59 3h2m45 3h2m-78 3h2m-34 2h2m17 1h2m-9 1h2m-12 2h2m106 0h2m-100 1h2m93 0h2m-103 2h2m104 1h2m-114 3h2m110 0h2m-104 1h2m10 0h2m8 0h2m7 0h2m30 1h2m-71 1h2m15 1h2m-20 2h2m62 3h2m5 1h2m39 0h2m-104 1h2m21 0h2m-1 2h2m-4 1h2m-39 1h2m27 2h2m6 0h2m-24 1h2m18 0h2m-25 1h2m29 4h2m67 3h2m-99 4h2m48 0h2m49 9h2m-9 3h2m6 0h2m-86 5h2m52 0h2m-84 1h2m31 0h2m78 0h2m-113 1h2m14 0h2m5 0h2m9 0h2m68 0h2m33 0h2m-121 2h2m27 1h2m44 0h2m9 0h2m0 0h2m-77 1h2m39 0h2m29 0h2m-2 0h2m-62 1h2m60 0h2m-100 1h2m8 0h2m-2 0h2m18 0h2m66 0h2m-1 0h2m-1 0h2m6 0h2m-118 1h2m-1 0h2m2 0h2m99 0h2m1 0h2m-103 1h2m-1 0h2m16 0h2m68 0h2m4 0h2m-2 0h2m0 0h2m-119 1h2m5 0h2m-2 0h2m26 0h2m80 0h2m-110 1h2m-2 0h2m13 0h2m3 0h2m-1 0h2m67 0h2m17 0h2m-1 0h2m-114 1h2m18 0h2m11 0h2m17 0h2m21 0h2m24 0h2m11 0h2m-1 0h2m-133 1h2m45 0h2m30 0h2m42 0h2m2 0h2m1 0h2m-121 1h2m18 0h2m1 0h2m-2 0h2m7 0h2m52 0h2m16 0h2m6 0h2m0 0h2m3 0h2m-1 0h2m3 0h2m-1 0h2m-96 1h2m9 0h2m4 0h2m11 0h2m45 0h2m3 0h2m-1 0h2m-2 0h2m1 0h2m-2 0h2m-114 1h2m9 0h2m2 0h2m58 0h2m28 0h2m4 0h2m0 0h2m-131 1h2m9 0h2m5 0h2m-1 0h2m-1 0h2m-2 0h2m16 0h2m85 0h2m1 0h2m2 0h2m4 0h2m-1 0h2m-138 1h2m23 0h2m2 0h2m2 0h2m4 0h2m8 0h2m38 0h2m3 0h2m24 0h2m1 0h2m1 0h2m1 0h2m-1 0h2m-110 1h2m-2 0h2m6 0h2m-1 0h2m12 0h2m27 0h2m24 0h2m1 0h2m13 0h2m0 0h2m3 0h2m0 0h2m-2 0h2m-1 0h2m-113 1h2m17 0h2m58 0h2m17 0h2m0 0h2m0 0h2m-1 0h2m-1 0h2m1 0h2m-2 0h2m4 0h2m-140 1h2m27 0h2m2 0h2m17 0h2m9 0h2m8 0h2m16 0h2m3 0h2m27 0h2m2 0h2m-2 0h2m2 0h2m0 0h2m1 0h2m-122 1h2m0 0h2m-2 0h2m0 0h2m4 0h2m27 0h2m68 0h2m2 0h2m0 0h2m1 0h2m0 0h2m0 0h2m-111 1h2m-1 0h2m1 0h2m-1 0h2m26 0h2m20 0h2m1 0h2m13 0h2m6 0h2m-1 0h2m11 0h2m-1 0h2m-1 0h2m-1 0h2m1 0h2m1 0h2m-2 0h2m-2 0h2m0 0h2m-2 0h2m9 0h2m-118 1h2m16 0h2m5 0h2m11 0h2m4 0h2m49 0h2m-1 0h2m-1 0h2m-1 0h2m2 0h2m-1 0h2m-2 0h2m0 0h2m-1 0h2m-124 1h2m15 0h2m1 0h2m1 0h2m0 0h2m-1 0h2m3 0h2m41 0h2m18 0h2m13 0h2m-1 0h2m-2 0h2m2 0h2m-2 0h2m-108 1h2m14 0h2m4 0h2m4 0h2m1 0h2m37 0h2m2 0h2m-2 0h2m0 0h2m23 0h2m2 0h2m1 0h2m-2 0h2m-1 0h2m-1 0h2m-2 0h2m-2 0h2m-1 0h2m2 0h2m-129 1h2m31 0h2m9 0h2m27 0h2m6 0h2m9 0h2m7 0h2m2 0h2m7 0h2m2 0h2m2 0h2m-1 0h2m-1 0h2m-105 1h2m16 0h2m5 0h2m67 0h2m0 0h2m-2 0h2m-2 0h2m-1 0h2m-1 0h2m-2 0h2m0 0h2m-2 0h2m0 0h2m-1 0h2m-2 0h2m-1 0h2m-109 1h2m0 0h2m1 0h2m9 0h2m9 0h2m16 0h2m23 0h2m-1 0h2m23 0h2m-1 0h2m-2 0h2m0 0h2m0 0h2m-1 0h2m4 0h2m-85 1h2m4 0h2m6 0h2m53 0h2m0 0h2m-1 0h2m4 0h2m1 0h2m1 0h2m2 0h2m-109 1h2m37 0h2m16 0h2m33 0h2m12 0h2m-126 1h2m-1 0h2m9 0h2m7 0h2m82 0h2m2 0h2m0 0h2m-2 0h2m-1 0h2m0 0h2m-1 0h2m-1 0h2m-1 0h2m-120 1h2m8 0h2m29 0h2m14 0h2m7 0h2m38 0h2m3 0h2m-2 0h2m-2 0h2m-1 0h2m-1 0h2m1 0h2m2 0h2m-2 0h2m-1 0h2m-113 1h2m2 0h2m-1 0h2m0 0h2m88 0h2m2 0h2m0 0h2m-1 0h2m2 0h2m0 0h2m-1 0h2m-108 1h2m3 0h2m42 0h2m43 0h2m-2 0h2m-2 0h2m2 0h2m0 0h2m-1 0h2m-2 0h2m-2 0h2m0 0h2m3 0h2m-93 1h2m8 0h2m3 0h2m27 0h2m34 0h2m-1 0h2m-1 0h2m-2 0h2m0 0h2m-1 0h2m0 0h2m-119 1h2m8 0h2m97 0h2m-1 0h2m0 0h2m-2 0h2m-2 0h2m-2 0h2m-1 0h2m-1 0h2m-1 0h2m-2 0h2m-105 1h2m0 0h2m65 0h2m23 0h2m0 0h2m2 0h2m-2 0h2m-2 0h2m-1 0h2m-2 0h2m-1 0h2m0 0h2m-107 1h2m91 0h2m3 0h2m0 0h2m-2 0h2m-1 0h2m-1 0h2m0 0h2m1 0h2m-1 0h2m-71 1h2m56 0h2m-2 0h2m0 0h2m2 0h2m-1 0h2m-1 0h2m0 0h2m0 0h2m-20 1h2m5 0h2m1 0h2m-1 0h2m4 0h2m3 0h2m-14 1h2m3 0h2m2 0h2m-106 1h2m10 0h2m51 0h2m19 0h2m3 0h2m-2 0h2m0 0h2m-2 0h2m-2 0h2m2 0h2m-1 0h2m-2 0h2m-1 0h2m2 0h2m-1 0h2m-1 0h2m-15 1h2m-1 0h2m-1 0h2m2 0h2m-1 0h2m-1 0h2m-2 0h2m-15 1h2m0 0h2m0 0h2m1 0h2m0 0h2m-1 0h2m0 0h2m0 0h2m0 0h2m-63 1h2m33 0h2m10 0h2m0 0h2m5 0h2m2 0h2m-2 0h2m2 0h2m-19 1h2m-1 0h2m0 0h2m4 0h2m0 0h2m3 0h2m-118 1h2m98 0h2m0 0h2m0 0h2m1 0h2m1 0h2m-11 1h2m1 0h2m-1 0h2m0 0h2m1 0h2m-11 1h2m-2 0h2m5 0h2m-2 0h2m-1 1h2m3 0h2m-97 1h2m86 0h2m0 0h2m-1 0h2m-7 1h2m1 1h2m-1 1h2m5 1h2m-109 1h2m94 0h2m-2 0h2m-102 2h2"/>
<path transform="scale(0.5)" stroke="#000" stroke-width="2" stroke-opacity="0.27" fill="none" d="M652 197h2m-29 2h2m17 9h2m-15 2h2m81 1h2m-5 1h2m-57 2h2m-37 7h2m0 1h2m17 2h2m13 1h2m-17 3h2m-2 1h2m-21 1h2m63 0h2m-74 1h2m3 0h2m-30 2h2m1 0h2m43 1h2m-41 1h2m10 2h2m-19 2h2m117 0h2m-125 3h2m25 1h2m8 0h2m-38 1h2m73 2h2m-10 1h2m-39 5h2m88 2h2m-27 1h2m-66 5h2m88 0h2m-82 2h2m-17 3h2m85 0h2m6 0h2m0 1h2m-105 3h2m35 0h2m83 2h2m-58 1h2m-76 2h2m103 0h2m-108 2h2m9 0h2m20 0h2m73 0h2m-129 1h2m39 0h2m-29 1h2m41 0h2m69 0h2m1 0h2m-92 1h2m-34 1h2m115 0h2m0 0h2m0 0h2m-116 1h2m0 1h2m17 0h2m16 0h2m9 0h2m54 0h2m1 0h2m-109 1h2m5 0h2m14 0h2m18 0h2m61 0h2m-89 1h2m81 0h2m2 0h2m-92 1h2m4 0h2m-2 0h2m-1 0h2m6 0h2m46 0h2m-56 1h2m79 0h2m-1 0h2m-1 0h2m-112 1h2m2 0h2m5 0h2m11 0h2m0 0h2m0 0h2m77 0h2m2 0h2m-2 0h2m3 0h2m-1 0h2m-109 1h2m-2 0h2m13 0h2m-1 0h2m0 0h2m-1 0h2m82 0h2m0 0h2m-131 1h2m14 0h2m12 0h2m0 0h2m15 0h2m63 0h2m8 0h2m5 0h2m1 0h2m-125 1h2m4 0h2m6 0h2m5 0h2m-1 0h2m47 0h2m38 0h2m5 0h2m0 0h2m-122 1h2m16 0h2m34 0h2m31 0h2m1 0h2m3 0h2m12 0h2m3 0h2m4 0h2m-148 1h2m14 0h2m6 0h2m23 0h2m88 0h2m-1 0h2m-2 0h2m0 0h2m-1 0h2m-1 0h2m-120 1h2m-1 0h2m11 0h2m9 0h2m-2 0h2m46 0h2m12 0h2m19 0h2m4 0h2m0 0h2m-2 0h2m1 0h2m5 0h2m-132 1h2m12 0h2m1 0h2m0 0h2m0 0h2m2 0h2m2 0h2m-1 0h2m1 0h2m30 0h2m43 0h2m-1 0h2m0 0h2m-1 0h2m0 0h2m-2 0h2m-2 0h2m-1 0h2m-1 0h2m3 0h2m-127 1h2m2 0h2m10 0h2m2 0h2m0 0h2m2 0h2m4 0h2m-1 0h2m4 0h2m0 0h2m-1 0h2m40 0h2m27 0h2m13 0h2m-2 0h2m2 0h2m-128 1h2m21 0h2m11 0h2m12 0h2m-1 0h2m54 0h2m4 0h2m0 0h2m-1 0h2m0 0h2m0 0h2m0 0h2m-125 1h2m-1 0h2m24 0h2m-2 0h2m-1 0h2m43 0h2m39 0h2m-2 0h2m-1 0h2m-1 0h2m-1 0h2m-2 0h2m2 0h2m-2 0h2m-106 1h2m8 0h2m17 0h2m15 0h2m2 0h2m43 0h2m3 0h2m-1 0h2m-1 0h2m-1 0h2m-128 1h2m12 0h2m9 0h2m3 0h2m18 0h2m14 0h2m6 0h2m39 0h2m3 0h2m-2 0h2m-1 0h2m-2 0h2m-1 0h2m0 0h2m2 0h2m0 0h2m-1 0h2m2 0h2m-118 1h2m0 0h2m3 0h2m7 0h2m11 0h2m0 0h2m6 0h2m25 0h2m3 0h2m17 0h2m2 0h2m1 0h2m1 0h2m0 0h2m0 0h2m-1 0h2m-2 0h2m-114 1h2m4 0h2m10 0h2m8 0h2m0 0h2m36 0h2m21 0h2m10 0h2m0 0h2m1 0h2m-1 0h2m-1 0h2m-1 0h2m-1 0h2m-1 0h2m0 0h2m-2 0h2m-120 1h2m4 0h2m11 0h2m20 0h2m5 0h2m40 0h2m17 0h2m1 0h2m-2 0h2m0 0h2m-1 0h2m-2 0h2m-126 1h2m10 0h2m29 0h2m32 0h2m34 0h2m4 0h2m-1 0h2m0 0h2m0 0h2m4 0h2m-115 1h2m-1 0h2m102 0h2m0 0h2m1 0h2m2 0h2m2 0h2m-135 1h2m6 0h2m4 0h2m9 0h2m13 0h2m23 0h2m8 0h2m27 0h2m9 0h2m0 0h2m-1 0h2m-1 0h2m-1 0h2m-2 0h2m0 0h2m0 0h2m-1 0h2m-98 1h2m46 0h2m35 0h2m1 0h2m-1 0h2m-1 0h2m6 0h2m-119 1h2m13 0h2m0 0h2m-1 0h2m4 0h2m14 0h2m25 0h2m9 0h2m24 0h2m0 0h2m0 0h2m1 0h2m0 0h2m0 0h2m-2 0h2m0 0h2m4 0h2m-108 1h2m6 0h2m74 0h2m-1 0h2m1 0h2m-2 0h2m-1 0h2m1 0h2m0 0h2m3 0h2m-126 1h2m4 0h2m0 0h2m12 0h2m2 0h2m11 0h2m5 0h2m11 0h2m49 0h2m1 0h2m-2 0h2m1 0h2m-2 0h2m2 0h2m-1 0h2m-106 1h2m6 0h2m-1 0h2m16 0h2m29 0h2m36 0h2m2 0h2m0 0h2m-2 0h2m0 0h2m2 0h2m-100 1h2m0 0h2m58 0h2m8 0h2m6 0h2m1 0h2m1 0h2m3 0h2m-2 0h2m-1 0h2m0 0h2m-1 0h2m-115 1h2m22 0h2m48 0h2m22 0h2m1 0h2m1 0h2m-1 0h2m-1 0h2m-1 0h2m3 0h2m1 0h2m-68 1h2m15 0h2m11 0h2m22 0h2m-2 0h2m0 0h2m-2 0h2m0 0h2m-2 0h2m-2 0h2m-1 0h2m1 0h2m-1 0h2m-1 0h2m-2 0h2m0 0h2m-109 1h2m26 0h2m67 0h2m-1 0h2m-1 0h2m-1 0h2m-2 0h2m2 0h2m-1 0h2m-29 1h2m17 0h2m0 0h2m-2 0h2m-1 0h2m0 0h2m-1 0h2m-2 0h2m-2 0h2m1 0h2m-1 0h2m-57 1h2m24 0h2m12 0h2m0 0h2m1 0h2m2 0h2m-2 0h2m0 0h2m0 0h2m-64 1h2m11 0h2m32 0h2m3 0h2m2 0h2m-1 0h2m-1 0h2m1 0h2m-94 1h2m83 0h2m0 0h2m-2 0h2m1 0h2m-2 0h2m1 0h2m-100 1h2m23 0h2m59 0h2m4 0h2m-2 0h2m4 0h2m3 0h2m-94 1h2m23 0h2m54 0h2m-1 0h2m2 0h2m-74 1h2m22 0h2m43 0h2m2 0h2m-2 0h2m-107 1h2m24 0h2m3 0h2m61 0h2m-1 0h2m3 0h2m-2 0h2m-1 0h2m3 0h2m-7 1h2m-1 0h2m2 0h2m-1 0h2m-19 1h2m5 0h2m-2 0h2m0 0h2m-2 0h2m-1 0h2m-1 0h2m-2 0h2m1 0h2m-1 0h2m-1 0h2m-142 1h2m129 0h2m2 0h2m3 0h2m-2 0h2m30 0h2m-38 1h2m5 0h2m-106 1h2m86 0h2m2 0h2m5 0h2m-1 0h2m-5 1h2m2 0h2m-9 1h2m4 2h2m8 0h2m-16 1h2m1 0h2m2 1h2m-12 1h2m2 0h2m-17 1h2m24 0h2m-16 1h2m-1 0h2m-5 2h2m-136 2h2"/>
<rect x="275.00" y="66.20" width="106.50" height="105.20" fill="none" stroke="#7a7a7a" stroke-width="1"/>
<line x1="349.40" y1="66.20" x2="349.40" y2="171.40" stroke="#4a4a4a" stroke-width="1.4"/>
<line x1="275.00" y1="132.80" x2="381.50" y2="132.80" stroke="#4a4a4a" stroke-width="1.4"/>
<line x1="272.50" y1="66.20" x2="275.00" y2="66.20" stroke="#7a7a7a" stroke-width="1"/>
<line x1="273.00" y1="74.20" x2="275.00" y2="74.20" stroke="#7a7a7a" stroke-width="1"/>
<line x1="272.50" y1="92.50" x2="275.00" y2="92.50" stroke="#7a7a7a" stroke-width="1"/>
<line x1="273.00" y1="100.50" x2="275.00" y2="100.50" stroke="#7a7a7a" stroke-width="1"/>
<line x1="272.50" y1="118.80" x2="275.00" y2="118.80" stroke="#7a7a7a" stroke-width="1"/>
<line x1="273.00" y1="126.80" x2="275.00" y2="126.80" stroke="#7a7a7a" stroke-width="1"/>
<line x1="272.50" y1="145.10" x2="275.00" y2="145.10" stroke="#7a7a7a" stroke-width="1"/>
<line x1="273.00" y1="153.10" x2="275.00" y2="153.10" stroke="#7a7a7a" stroke-width="1"/>
<line x1="272.50" y1="171.40" x2="275.00" y2="171.40" stroke="#7a7a7a" stroke-width="1"/>
<line x1="275.00" y1="171.40" x2="275.00" y2="175.00" stroke="#333" stroke-width="1.1"/>
<line x1="283.01" y1="171.40" x2="283.01" y2="173.80" stroke="#333" stroke-width="1.1"/>
<line x1="287.70" y1="171.40" x2="287.70" y2="173.80" stroke="#333" stroke-width="1.1"/>
<line x1="291.03" y1="171.40" x2="291.03" y2="173.80" stroke="#333" stroke-width="1.1"/>
<line x1="293.61" y1="171.40" x2="293.61" y2="173.80" stroke="#333" stroke-width="1.1"/>
<line x1="295.72" y1="171.40" x2="295.72" y2="173.80" stroke="#333" stroke-width="1.1"/>
<line x1="297.50" y1="171.40" x2="297.50" y2="173.80" stroke="#333" stroke-width="1.1"/>
<line x1="299.04" y1="171.40" x2="299.04" y2="173.80" stroke="#333" stroke-width="1.1"/>
<line x1="300.41" y1="171.40" x2="300.41" y2="173.80" stroke="#333" stroke-width="1.1"/>
<line x1="301.62" y1="171.40" x2="301.62" y2="175.00" stroke="#333" stroke-width="1.1"/>
<line x1="309.64" y1="171.40" x2="309.64" y2="173.80" stroke="#333" stroke-width="1.1"/>
<line x1="314.33" y1="171.40" x2="314.33" y2="173.80" stroke="#333" stroke-width="1.1"/>
<line x1="317.65" y1="171.40" x2="317.65" y2="173.80" stroke="#333" stroke-width="1.1"/>
<line x1="320.24" y1="171.40" x2="320.24" y2="173.80" stroke="#333" stroke-width="1.1"/>
<line x1="322.34" y1="171.40" x2="322.34" y2="173.80" stroke="#333" stroke-width="1.1"/>
<line x1="324.13" y1="171.40" x2="324.13" y2="173.80" stroke="#333" stroke-width="1.1"/>
<line x1="325.67" y1="171.40" x2="325.67" y2="173.80" stroke="#333" stroke-width="1.1"/>
<line x1="327.03" y1="171.40" x2="327.03" y2="173.80" stroke="#333" stroke-width="1.1"/>
<line x1="328.25" y1="171.40" x2="328.25" y2="175.00" stroke="#333" stroke-width="1.1"/>
<line x1="336.26" y1="171.40" x2="336.26" y2="173.80" stroke="#333" stroke-width="1.1"/>
<line x1="340.95" y1="171.40" x2="340.95" y2="173.80" stroke="#333" stroke-width="1.1"/>
<line x1="344.28" y1="171.40" x2="344.28" y2="173.80" stroke="#333" stroke-width="1.1"/>
<line x1="346.86" y1="171.40" x2="346.86" y2="173.80" stroke="#333" stroke-width="1.1"/>
<line x1="348.97" y1="171.40" x2="348.97" y2="173.80" stroke="#333" stroke-width="1.1"/>
<line x1="350.75" y1="171.40" x2="350.75" y2="173.80" stroke="#333" stroke-width="1.1"/>
<line x1="352.29" y1="171.40" x2="352.29" y2="173.80" stroke="#333" stroke-width="1.1"/>
<line x1="353.66" y1="171.40" x2="353.66" y2="173.80" stroke="#333" stroke-width="1.1"/>
<line x1="354.88" y1="171.40" x2="354.88" y2="175.00" stroke="#333" stroke-width="1.1"/>
<line x1="362.89" y1="171.40" x2="362.89" y2="173.80" stroke="#333" stroke-width="1.1"/>
<line x1="367.58" y1="171.40" x2="367.58" y2="173.80" stroke="#333" stroke-width="1.1"/>
<line x1="370.90" y1="171.40" x2="370.90" y2="173.80" stroke="#333" stroke-width="1.1"/>
<line x1="373.49" y1="171.40" x2="373.49" y2="173.80" stroke="#333" stroke-width="1.1"/>
<line x1="375.59" y1="171.40" x2="375.59" y2="173.80" stroke="#333" stroke-width="1.1"/>
<line x1="377.38" y1="171.40" x2="377.38" y2="173.80" stroke="#333" stroke-width="1.1"/>
<line x1="378.92" y1="171.40" x2="378.92" y2="173.80" stroke="#333" stroke-width="1.1"/>
<line x1="380.28" y1="171.40" x2="380.28" y2="173.80" stroke="#333" stroke-width="1.1"/>
<line x1="381.50" y1="171.40" x2="381.50" y2="175.00" stroke="#333" stroke-width="1.1"/>
<path transform="scale(0.5)" stroke="#000" stroke-width="2" stroke-opacity="0.27" fill="none" d="M981 199h2m-134 10h2m38 0h2m92 3h2m-156 4h2m10 0h2m104 1h2m-115 1h2m5 1h2m-7 1h2m6 1h2m-1 0h2m110 2h2m-122 1h2m-2 1h2m58 0h2m-7 1h2m-22 1h2m73 0h2m-126 1h2m4 0h2m38 0h2m-38 1h2m24 0h2m11 0h2m-7 1h2m82 0h2m-128 1h2m92 0h2m6 0h2m-93 2h2m6 0h2m16 0h2m70 0h2m-100 1h2m32 0h2m68 0h2m-109 1h2m13 0h2m-11 2h2m1 0h2m3 0h2m4 0h2m-22 1h2m41 0h2m33 0h2m8 0h2m-115 2h2m118 0h2m-80 2h2m2 1h2m92 0h2m-2 0h2m-104 2h2m12 0h2m-1 0h2m29 0h2m51 0h2m-113 1h2m7 0h2m6 0h2m-10 1h2m7 1h2m32 0h2m16 0h2m-68 1h2m-21 1h2m38 0h2m-2 0h2m86 0h2m0 0h2m-5 1h2m-115 1h2m110 1h2m10 0h2m-94 2h2m-42 4h2m41 1h2m-8 1h2m48 1h2m25 1h2m-17 3h2m17 2h2m-123 3h2m34 0h2m-10 3h2m-14 1h2m-20 4h2m47 0h2m22 0h2m-4 1h2m26 1h2m-77 2h2m66 1h2m35 0h2m-97 1h2m94 0h2m-105 1h2m22 0h2m2 0h2m70 1h2m7 0h2m-115 1h2m72 0h2m-98 1h2m15 0h2m-10 1h2m47 0h2m66 0h2m38 0h2m-106 1h2m29 0h2m26 0h2m-117 1h2m31 0h2m87 0h2m-11 1h2m-110 1h2m10 0h2m48 0h2m49 0h2m-77 1h2m69 0h2m12 0h2m-113 1h2m23 0h2m79 0h2m-119 1h2m13 0h2m92 0h2m0 0h2m3 0h2m-100 1h2m97 0h2m8 0h2m-18 1h2m-121 1h2m118 0h2m2 0h2m-125 1h2m14 0h2m1 0h2m26 0h2m1 0h2m22 0h2m39 0h2m-97 1h2m-1 0h2m96 0h2m5 0h2m-86 1h2m-40 1h2m13 0h2m107 0h2m-102 1h2m28 0h2m-38 1h2m91 0h2m-1 0h2m-2 0h2m-89 1h2m93 0h2m-146 1h2m139 0h2m2 0h2m1 0h2m-112 1h2m28 0h2m62 0h2m6 0h2m-1 0h2m1 0h2m-120 1h2m34 0h2m51 0h2m20 1h2m3 0h2m-1 0h2m1 0h2m-2 0h2m-2 0h2m-7 1h2m-1 0h2m-1 1h2m-103 1h2m93 0h2m-92 1h2m72 0h2m15 0h2m-1 0h2m-2 0h2m3 0h2m-2 0h2m-97 1h2m85 0h2m3 0h2m-4 1h2m2 0h2m-8 1h2m0 0h2m-2 1h2m0 0h2m-2 0h2m2 0h2m-2 1h2m-2 1h2m-4 1h2m-2 0h2m-7 1h2m-1 0h2m0 0h2m-152 1h2m147 1h2m1 1h2m2 0h2m-12 1h2m-9 2h2m10 0h2m2 0h2m-95 4h2m108 5h2"/>
<path transform="scale(0.5)" stroke="#000" stroke-width="2" stroke-opacity="0.27" fill="none" d="M886 193h2m-56 11h2m54 3h2m-34 1h2m-56 2h2m144 0h2m-37 4h2m-38 1h2m-37 1h2m99 0h2m-103 2h2m8 0h2m57 0h2m-55 3h2m-21 1h2m14 1h2m91 1h2m-106 1h2m45 2h2m51 0h2m-93 3h2m12 0h2m17 0h2m13 0h2m-63 1h2m13 0h2m-23 1h2m4 0h2m-16 1h2m21 0h2m73 0h2m-103 1h2m22 0h2m-25 2h2m30 0h2m90 0h2m-106 1h2m-2 1h2m-1 0h2m77 0h2m-11 1h2m-89 1h2m109 0h2m-115 1h2m67 0h2m-55 2h2m24 0h2m18 0h2m62 0h2m-4 1h2m-98 1h2m-2 0h2m37 1h2m57 0h2m-115 1h2m12 0h2m97 0h2m6 0h2m-132 2h2m5 0h2m32 0h2m-29 1h2m109 0h2m-68 1h2m-12 1h2m-40 1h2m16 0h2m81 0h2m-56 2h2m23 0h2m-76 2h2m32 0h2m53 1h2m13 0h2m-79 3h2m47 0h2m35 3h2m-108 2h2m-25 8h2m118 1h2m0 1h2m1 0h2m-119 1h2m-8 1h2m134 1h2m-124 1h2m45 2h2m40 0h2m19 2h2m0 1h2m-68 1h2m-55 1h2m70 0h2m3 0h2m-1 0h2m38 1h2m-124 1h2m121 1h2m-6 2h2m-2 0h2m-104 1h2m18 0h2m85 0h2m-120 1h2m15 1h2m5 0h2m96 0h2m-102 1h2m-1 0h2m84 0h2m-1 0h2m0 0h2m-2 0h2m-1 0h2m2 0h2m-1 0h2m-84 1h2m79 0h2m-113 1h2m104 0h2m-8 1h2m-56 1h2m38 0h2m21 0h2m-102 1h2m100 0h2m-3 1h2m-2 0h2m15 0h2m-27 1h2m4 0h2m1 0h2m-2 0h2m-1 0h2m0 0h2m-1 0h2m-121 1h2m19 0h2m10 0h2m17 0h2m53 0h2m5 0h2m-107 1h2m16 0h2m82 0h2m-121 1h2m17 0h2m0 0h2m22 0h2m66 0h2m10 0h2m-133 1h2m20 0h2m26 0h2m-1 0h2m29 0h2m40 0h2m0 0h2m3 0h2m-45 1h2m25 0h2m10 0h2m-123 2h2m11 0h2m96 0h2m0 0h2m1 0h2m6 0h2m-80 1h2m67 0h2m-2 0h2m-1 0h2m-1 0h2m0 0h2m3 0h2m-12 1h2m1 0h2m0 0h2m2 0h2m-1 0h2m-1 0h2m10 0h2m-18 1h2m-1 0h2m-11 1h2m4 0h2m4 0h2m-121 1h2m110 0h2m3 0h2m-78 1h2m68 0h2m4 0h2m-9 1h2m-1 1h2m-22 1h2m22 0h2m-1 0h2m-78 1h2m75 0h2m-20 1h2m13 0h2m-65 1h2m55 0h2m6 0h2m-1 0h2m-8 1h2m3 0h2m-6 2h2m-73 1h2m69 0h2m-102 1h2m101 0h2m-1 0h2m-1 0h2m-152 1h2m149 0h2m-141 1h2m148 4h2m-19 1h2m-2 3h2m-6 1h2"/>
<path transform="scale(0.5)" stroke="#000" stroke-width="2" stroke-opacity="0.27" fill="none" d="M796 201h2m120 0h2m-95 2h2m69 8h2m-41 1h2m-20 1h2m16 2h2m1 2h2m-38 1h2m12 0h2m1 1h2m15 0h2m-33 1h2m0 0h2m-26 2h2m26 1h2m7 0h2m-21 1h2m14 0h2m75 1h2m-94 1h2m18 0h2m11 1h2m4 0h2m46 0h2m-72 1h2m-9 3h2m18 0h2m9 0h2m6 2h2m38 0h2m-73 1h2m6 0h2m4 0h2m-2 0h2m75 0h2m-86 1h2m-8 1h2m16 0h2m87 0h2m-112 1h2m115 1h2m-102 2h2m5 0h2m81 0h2m-123 1h2m4 0h2m39 0h2m26 0h2m45 0h2m-71 1h2m67 0h2m-120 1h2m2 0h2m33 0h2m88 0h2m-128 2h2m0 1h2m15 0h2m28 0h2m5 0h2m-70 1h2m-13 1h2m59 0h2m-18 1h2m12 0h2m25 0h2m50 1h2m-86 1h2m33 0h2m12 1h2m-82 2h2m123 1h2m-97 1h2m-6 4h2m39 1h2m-43 1h2m84 1h2m-127 1h2m135 0h2m-141 5h2m43 2h2m54 6h2m31 2h2m-95 1h2m-18 1h2m44 1h2m-25 1h2m70 0h2m7 0h2m-95 1h2m-8 1h2m23 1h2m0 0h2m15 0h2m7 0h2m19 0h2m-101 1h2m0 0h2m41 0h2m82 1h2m-113 1h2m7 0h2m10 0h2m45 0h2m39 0h2m-7 1h2m0 0h2m6 0h2m-81 1h2m17 1h2m47 0h2m5 0h2m-106 1h2m10 0h2m81 0h2m-2 0h2m3 0h2m-1 0h2m-104 1h2m44 0h2m29 0h2m17 0h2m3 0h2m-2 0h2m-2 1h2m0 0h2m-1 0h2m-10 1h2m-1 0h2m0 0h2m1 0h2m-128 1h2m122 0h2m8 0h2m-138 1h2m26 0h2m3 0h2m44 0h2m48 0h2m11 0h2m-147 1h2m12 0h2m29 0h2m83 0h2m3 0h2m-8 1h2m-75 1h2m2 0h2m62 0h2m8 0h2m5 0h2m-22 1h2m1 0h2m2 0h2m5 0h2m-1 0h2m-126 1h2m110 0h2m0 0h2m7 0h2m-137 1h2m1 0h2m66 0h2m13 0h2m35 0h2m0 0h2m9 0h2m-78 1h2m72 0h2m-2 0h2m-13 1h2m7 0h2m-124 1h2m43 0h2m3 0h2m74 0h2m1 0h2m-130 1h2m57 0h2m51 0h2m0 0h2m8 0h2m-61 1h2m46 0h2m1 0h2m4 0h2m-32 1h2m14 0h2m5 0h2m7 0h2m-117 1h2m42 1h2m63 0h2m-1 0h2m2 0h2m-10 1h2m3 0h2m1 0h2m-5 1h2m1 0h2m-2 0h2m-3 1h2m-123 2h2m114 0h2m1 0h2m-32 1h2m24 0h2m-102 1h2m101 0h2m-2 0h2m6 0h2m-84 1h2m67 0h2m9 0h2m1 0h2m10 1h2m-27 1h2m5 0h2m-34 1h2m10 0h2m18 1h2m1 0h2m10 1h2m-17 2h2m-52 3h2m-24 2h2m63 0h2m4 0h2m-15 6h2m-11 2h2"/>
<path transform="scale(0.5)" stroke="#000" stroke-width="2" stroke-opacity="0.27" fill="none" d="M862 192h2m40 8h2m-2 3h2m-77 2h2m35 1h2m-14 2h2m-18 7h2m-12 1h2m95 2h2m-139 3h2m82 0h2m-44 1h2m2 0h2m6 0h2m51 0h2m26 0h2m-36 1h2m-53 2h2m107 1h2m-83 1h2m79 1h2m9 0h2m-114 1h2m36 0h2m-15 1h2m77 0h2m-89 1h2m87 0h2m-121 1h2m118 0h2m-139 1h2m30 0h2m-18 1h2m36 0h2m14 0h2m-81 2h2m142 0h2m-124 1h2m34 0h2m14 0h2m66 1h2m-124 1h2m13 0h2m84 0h2m19 0h2m-110 1h2m0 1h2m2 0h2m4 1h2m8 0h2m82 0h2m-59 2h2m55 0h2m-4 2h2m-104 1h2m-17 1h2m36 2h2m84 0h2m-46 1h2m-67 1h2m17 0h2m31 1h2m-1 1h2m-68 1h2m97 1h2m18 1h2m8 0h2m-74 1h2m61 1h2m-90 2h2m-4 6h2m61 3h2m-97 1h2m22 1h2m-7 4h2m4 0h2m13 1h2m76 0h2m-91 1h2m0 0h2m-6 4h2m-1 1h2m140 0h2m-177 1h2m25 0h2m104 0h2m-97 1h2m-4 1h2m-4 1h2m19 0h2m-42 2h2m5 0h2m2 1h2m51 0h2m22 0h2m20 0h2m0 0h2m-58 1h2m53 0h2m-76 1h2m73 0h2m36 0h2m-160 1h2m117 0h2m-68 1h2m59 0h2m-87 1h2m84 0h2m-1 0h2m0 0h2m-1 0h2m-35 1h2m24 0h2m-1 0h2m9 0h2m-131 1h2m63 0h2m58 0h2m-117 1h2m28 0h2m79 0h2m0 0h2m-123 1h2m28 0h2m5 0h2m83 1h2m2 0h2m-127 1h2m4 0h2m47 0h2m-1 0h2m1 0h2m53 0h2m3 0h2m0 0h2m-55 1h2m-58 1h2m-1 0h2m19 0h2m20 0h2m71 0h2m-87 1h2m69 0h2m-90 1h2m3 0h2m30 0h2m47 0h2m4 0h2m-2 0h2m-118 1h2m18 0h2m86 0h2m4 0h2m3 0h2m-81 1h2m70 0h2m-1 0h2m-1 0h2m-1 0h2m-1 0h2m-127 1h2m114 0h2m-1 0h2m-2 0h2m-1 0h2m5 0h2m-2 0h2m1 0h2m-122 1h2m113 0h2m1 0h2m4 0h2m-104 2h2m89 0h2m3 1h2m0 0h2m-1 0h2m2 0h2m-34 1h2m22 0h2m2 0h2m-8 1h2m-2 0h2m-1 0h2m-2 1h2m-1 0h2m0 0h2m1 0h2m-1 0h2m1 0h2m1 0h2m-22 1h2m7 0h2m-1 1h2m-10 1h2m0 0h2m1 0h2m1 0h2m-2 0h2m0 0h2m2 0h2m-13 1h2m-27 1h2m24 0h2m3 0h2m-8 1h2m13 0h2m-90 1h2m67 0h2m7 0h2m-117 3h2m4 0h2m102 0h2m-2 0h2m0 0h2m1 0h2m1 0h2m7 2h2m-19 3h2m-1 0h2m1 1h2m7 1h2m-88 2h2m70 6h2"/>
<path transform="scale(0.5)" stroke="#000" stroke-width="2" stroke-opacity="0.27" fill="none" d="M988 199h2m-36 11h2m-36 1h2m-98 4h2m-24 1h2m45 0h2m36 0h2m57 1h2m-81 1h2m-39 2h2m11 0h2m-4 2h2m73 0h2m-78 3h2m45 0h2m16 1h2m-36 2h2m-30 1h2m28 0h2m2 0h2m-34 1h2m36 1h2m-19 1h2m-30 1h2m66 0h2m39 0h2m-116 1h2m0 1h2m77 0h2m1 0h2m7 0h2m-81 1h2m57 0h2m17 0h2m13 0h2m-115 1h2m16 0h2m3 0h2m98 0h2m2 0h2m-113 1h2m6 0h2m49 0h2m-1 0h2m-38 1h2m74 0h2m-90 1h2m50 0h2m-66 2h2m-2 0h2m17 0h2m22 0h2m-1 0h2m-38 1h2m60 0h2m-47 2h2m25 0h2m-36 1h2m5 0h2m56 0h2m-72 1h2m81 0h2m-99 1h2m35 0h2m75 0h2m-72 2h2m-51 1h2m113 0h2m-13 1h2m-92 2h2m19 1h2m68 2h2m-56 1h2m26 2h2m-1 1h2m-9 4h2m15 3h2m23 6h2m-2 0h2m-55 2h2m-9 1h2m62 2h2m-139 1h2m120 2h2m-107 2h2m26 0h2m25 0h2m32 0h2m-91 1h2m20 0h2m96 0h2m-91 1h2m-33 1h2m35 1h2m69 0h2m0 0h2m-37 1h2m-69 1h2m85 0h2m-6 1h2m-106 1h2m35 0h2m-2 0h2m0 0h2m16 0h2m-83 1h2m27 0h2m87 0h2m29 0h2m-117 1h2m112 0h2m-16 1h2m12 0h2m-1 0h2m-84 1h2m7 0h2m70 0h2m-2 0h2m-1 0h2m-127 1h2m19 0h2m27 0h2m2 0h2m64 0h2m9 0h2m-132 1h2m22 0h2m90 0h2m7 0h2m-1 0h2m-114 1h2m107 0h2m0 0h2m-129 1h2m14 0h2m106 0h2m6 0h2m7 0h2m-40 1h2m-105 1h2m39 0h2m94 0h2m-106 1h2m-12 1h2m108 0h2m-126 1h2m104 0h2m4 0h2m-2 0h2m1 0h2m0 0h2m1 0h2m-94 1h2m-2 0h2m6 0h2m13 0h2m64 0h2m-2 0h2m-2 0h2m-5 1h2m7 0h2m-96 1h2m55 0h2m28 0h2m3 0h2m-129 1h2m117 0h2m-2 0h2m-1 0h2m2 0h2m-24 1h2m23 0h2m-126 1h2m33 0h2m80 0h2m-1 0h2m4 0h2m22 1h2m-130 1h2m2 0h2m7 0h2m60 0h2m-101 1h2m39 0h2m87 0h2m-8 1h2m6 0h2m-101 1h2m83 0h2m3 0h2m-100 1h2m-1 0h2m54 0h2m31 0h2m2 0h2m-1 0h2m-51 1h2m52 0h2m-2 0h2m-10 1h2m3 0h2m-1 0h2m-1 0h2m0 0h2m-81 1h2m5 1h2m19 0h2m-60 1h2m17 0h2m80 0h2m3 0h2m-118 1h2m113 0h2m-28 2h2m24 1h2m1 2h2m-26 3h2m27 5h2m32 0h2m-105 1h2"/>
<path transform="scale(0.5)" stroke="#000" stroke-width="2" stroke-opacity="0.27" fill="none" d="M978 202h2m-160 9h2m26 3h2m37 4h2m-29 1h2m-38 1h2m2 1h2m3 0h2m93 0h2m-96 1h2m-13 2h2m53 0h2m-54 1h2m25 0h2m-21 1h2m68 0h2m3 0h2m-55 1h2m58 0h2m-20 1h2m44 0h2m-120 1h2m58 0h2m31 0h2m-5 1h2m3 0h2m-101 1h2m16 0h2m-4 1h2m22 0h2m0 0h2m-24 1h2m-2 1h2m2 0h2m-13 1h2m79 0h2m-68 1h2m20 0h2m-68 2h2m13 0h2m13 0h2m33 0h2m-31 3h2m7 0h2m-12 1h2m6 0h2m0 0h2m4 3h2m46 0h2m-64 2h2m28 1h2m-49 1h2m-1 0h2m2 0h2m66 0h2m47 0h2m-48 1h2m55 0h2m-117 2h2m11 0h2m35 0h2m19 0h2m37 0h2m-56 1h2m21 0h2m-37 1h2m-34 1h2m20 0h2m31 0h2m-27 7h2m55 1h2m0 4h2m-41 1h2m-55 9h2m71 0h2m-19 1h2m-55 2h2m29 1h2m-34 1h2m20 0h2m60 0h2m-100 1h2m8 1h2m-7 1h2m9 0h2m93 0h2m-39 1h2m2 1h2m-2 0h2m-86 1h2m17 0h2m-32 1h2m8 0h2m17 0h2m36 0h2m57 0h2m-89 1h2m85 0h2m-2 0h2m-1 0h2m-107 1h2m19 0h2m49 0h2m24 0h2m-122 1h2m27 0h2m-26 1h2m26 0h2m35 0h2m51 0h2m-1 0h2m-2 0h2m-95 1h2m84 0h2m-86 1h2m3 0h2m-32 1h2m23 0h2m0 0h2m17 0h2m66 0h2m-71 1h2m37 0h2m29 0h2m5 0h2m-109 1h2m83 0h2m13 1h2m3 0h2m-125 1h2m110 0h2m3 0h2m-128 1h2m14 0h2m49 0h2m38 0h2m17 0h2m1 0h2m-130 1h2m31 0h2m2 0h2m86 0h2m3 0h2m-6 1h2m-111 1h2m104 0h2m3 0h2m3 0h2m-135 1h2m124 0h2m0 0h2m5 0h2m-16 1h2m7 0h2m-2 0h2m0 0h2m-26 1h2m24 0h2m-132 1h2m117 0h2m1 0h2m1 0h2m1 0h2m-116 1h2m35 0h2m72 0h2m1 0h2m-8 1h2m4 0h2m0 0h2m-79 1h2m69 1h2m0 0h2m5 0h2m-59 1h2m37 0h2m1 0h2m-2 0h2m-84 1h2m80 0h2m3 0h2m-94 1h2m86 0h2m1 1h2m-2 0h2m0 0h2m0 0h2m-22 1h2m20 0h2m-10 1h2m7 0h2m-9 1h2m-1 0h2m-1 0h2m0 0h2m-1 0h2m-132 1h2m101 0h2m22 0h2m2 0h2m-1 0h2m-12 1h2m1 0h2m-1 1h2m0 0h2m4 0h2m-12 1h2m-4 2h2m6 0h2m-9 1h2m12 0h2m7 0h2m-31 1h2m10 0h2m-8 1h2m-2 0h2m4 5h2m-6 4h2m8 3h2"/>
<path transform="scale(0.5)" stroke="#000" stroke-width="2" stroke-opacity="0.27" fill="none" d="M851 207h2m28 1h2m39 5h2m-62 2h2m0 0h2m0 0h2m14 0h2m67 0h2m-118 1h2m-3 4h2m31 3h2m85 0h2m-124 2h2m18 0h2m10 1h2m9 0h2m46 0h2m-113 1h2m19 1h2m19 0h2m52 0h2m45 0h2m-126 1h2m-2 1h2m111 0h2m-136 2h2m48 0h2m-44 1h2m20 1h2m7 0h2m56 0h2m6 0h2m4 0h2m-85 1h2m12 0h2m16 0h2m11 0h2m-39 1h2m34 0h2m-47 1h2m11 0h2m22 1h2m-6 1h2m52 0h2m-78 1h2m19 1h2m38 0h2m-57 1h2m77 0h2m-90 1h2m-2 0h2m6 0h2m-6 1h2m-2 0h2m105 0h2m-107 1h2m57 0h2m-75 1h2m36 0h2m27 0h2m-66 1h2m116 0h2m-120 1h2m2 0h2m38 1h2m0 0h2m22 1h2m32 0h2m-105 2h2m39 0h2m-47 7h2m14 0h2m88 0h2m8 1h2m-106 1h2m89 1h2m-112 2h2m116 5h2m-1 1h2m-89 3h2m25 0h2m-55 1h2m12 1h2m-4 1h2m98 1h2m-113 2h2m39 1h2m74 2h2m-111 1h2m-1 0h2m73 1h2m-96 1h2m12 0h2m10 0h2m66 0h2m18 0h2m-64 1h2m2 0h2m59 2h2m-15 1h2m16 2h2m-126 1h2m128 0h2m-10 1h2m-104 1h2m12 0h2m5 1h2m12 1h2m66 0h2m-1 0h2m-3 1h2m-1 0h2m0 0h2m-105 1h2m9 0h2m92 0h2m-104 1h2m22 0h2m70 0h2m-156 1h2m17 0h2m31 0h2m-2 0h2m56 0h2m45 0h2m7 0h2m-118 1h2m-1 0h2m44 0h2m46 0h2m2 0h2m-2 0h2m1 0h2m0 0h2m1 0h2m-72 1h2m59 0h2m1 0h2m-58 1h2m18 0h2m39 0h2m3 0h2m-124 1h2m23 0h2m8 0h2m73 0h2m0 0h2m-119 1h2m117 0h2m-1 0h2m-14 1h2m5 0h2m1 0h2m2 0h2m1 1h2m-11 1h2m1 0h2m2 0h2m-106 1h2m9 0h2m2 0h2m81 0h2m2 0h2m-2 1h2m1 0h2m-94 1h2m90 0h2m-80 1h2m32 0h2m36 0h2m-69 1h2m75 0h2m-11 1h2m-1 0h2m-1 0h2m-1 0h2m7 0h2m-16 1h2m-1 0h2m-2 0h2m0 0h2m1 0h2m-9 1h2m2 0h2m3 0h2m-79 2h2m-33 1h2m98 0h2m0 0h2m-12 1h2m8 0h2m1 0h2m-1 0h2m-84 1h2m89 0h2m-76 1h2m56 0h2m-4 3h2m9 0h2m0 0h2m-8 2h2m-2 0h2m-4 1h2m3 0h2m-11 2h2m2 0h2m3 0h2m-2 0h2m-1 0h2m-76 1h2m72 0h2m-1 2h2m-4 1h2m-13 3h2m8 2h2m-3 1h2"/>
<path transform="scale(0.5)" stroke="#000" stroke-width="2" stroke-opacity="0.27" fill="none" d="M948 207h2m-49 3h2m-20 2h2m-61 2h2m27 0h2m29 2h2m5 1h2m19 0h2m-96 1h2m7 0h2m3 0h2m35 0h2m-45 1h2m12 1h2m5 0h2m40 0h2m-80 1h2m30 0h2m72 0h2m-48 1h2m12 0h2m36 3h2m12 0h2m-110 1h2m28 1h2m89 0h2m-103 2h2m1 0h2m4 0h2m24 0h2m-46 1h2m26 0h2m74 0h2m-93 1h2m2 0h2m-14 1h2m11 0h2m15 0h2m-55 1h2m24 0h2m11 0h2m93 1h2m-123 2h2m13 0h2m1 0h2m49 1h2m3 0h2m-88 1h2m14 0h2m116 0h2m-124 1h2m11 1h2m-35 1h2m11 0h2m2 0h2m27 0h2m54 0h2m25 0h2m-31 1h2m-58 1h2m-28 1h2m57 1h2m54 1h2m-79 1h2m90 1h2m-73 1h2m30 0h2m-76 1h2m91 1h2m0 1h2m5 0h2m-123 2h2m120 0h2m-21 2h2m-32 1h2m-76 1h2m34 1h2m-36 2h2m122 2h2m-91 5h2m86 0h2m-10 3h2m-48 5h2m-64 2h2m1 3h2m98 0h2m1 1h2m-20 1h2m9 0h2m-107 1h2m3 1h2m44 0h2m74 0h2m-134 1h2m26 0h2m104 0h2m-121 1h2m114 0h2m-52 1h2m13 0h2m-54 1h2m73 0h2m-1 0h2m-128 2h2m29 0h2m2 1h2m0 0h2m-30 1h2m13 0h2m-20 1h2m63 0h2m45 0h2m-94 1h2m31 0h2m1 0h2m9 0h2m-43 1h2m97 0h2m-137 1h2m21 0h2m31 0h2m17 0h2m54 0h2m-121 1h2m34 0h2m85 0h2m-108 1h2m95 0h2m-108 1h2m1 0h2m106 0h2m3 1h2m-135 1h2m64 0h2m-18 1h2m54 0h2m18 0h2m1 0h2m0 0h2m-120 1h2m9 0h2m98 0h2m-2 0h2m0 0h2m-2 0h2m4 0h2m0 0h2m-134 1h2m111 0h2m15 0h2m-124 1h2m19 0h2m18 0h2m82 0h2m-57 1h2m43 0h2m-87 1h2m6 0h2m5 0h2m58 0h2m7 0h2m-1 0h2m-2 0h2m2 0h2m-110 1h2m97 0h2m3 0h2m3 0h2m-2 0h2m-2 0h2m-3 1h2m-122 1h2m15 0h2m42 0h2m50 0h2m-2 0h2m4 0h2m2 1h2m0 0h2m-16 1h2m8 0h2m-76 1h2m64 0h2m8 0h2m-1 0h2m-120 2h2m21 0h2m85 0h2m0 0h2m-1 0h2m-88 1h2m79 0h2m-1 0h2m27 0h2m-23 1h2m2 0h2m-11 2h2m1 0h2m-2 0h2m-85 1h2m70 0h2m2 0h2m2 0h2m2 0h2m-109 1h2m99 0h2m4 0h2m-4 1h2m-102 1h2m99 0h2m-5 2h2m1 2h2m-4 1h2m-97 1h2m89 0h2m5 2h2m-62 2h2m59 0h2m-33 5h2"/>
<rect x="392.30" y="65.70" width="107.70" height="106.50" fill="none" stroke="#7a7a7a" stroke-width="1"/>
<line x1="467.50" y1="65.70" x2="467.50" y2="172.20" stroke="#4a4a4a" stroke-width="1.4"/>
<line x1="392.30" y1="134.40" x2="500.00" y2="134.40" stroke="#4a4a4a" stroke-width="1.4"/>
<line x1="389.80" y1="65.70" x2="392.30" y2="65.70" stroke="#7a7a7a" stroke-width="1"/>
<line x1="390.30" y1="73.70" x2="392.30" y2="73.70" stroke="#7a7a7a" stroke-width="1"/>
<line x1="389.80" y1="92.33" x2="392.30" y2="92.33" stroke="#7a7a7a" stroke-width="1"/>
<line x1="390.30" y1="100.33" x2="392.30" y2="100.33" stroke="#7a7a7a" stroke-width="1"/>
<line x1="389.80" y1="118.95" x2="392.30" y2="118.95" stroke="#7a7a7a" stroke-width="1"/>
<line x1="390.30" y1="126.95" x2="392.30" y2="126.95" stroke="#7a7a7a" stroke-width="1"/>
<line x1="389.80" y1="145.57" x2="392.30" y2="145.57" stroke="#7a7a7a" stroke-width="1"/>
<line x1="390.30" y1="153.57" x2="392.30" y2="153.57" stroke="#7a7a7a" stroke-width="1"/>
<line x1="389.80" y1="172.20" x2="392.30" y2="172.20" stroke="#7a7a7a" stroke-width="1"/>
<line x1="392.30" y1="172.20" x2="392.30" y2="175.80" stroke="#333" stroke-width="1.1"/>
<line x1="400.41" y1="172.20" x2="400.41" y2="174.60" stroke="#333" stroke-width="1.1"/>
<line x1="405.15" y1="172.20" x2="405.15" y2="174.60" stroke="#333" stroke-width="1.1"/>
<line x1="408.51" y1="172.20" x2="408.51" y2="174.60" stroke="#333" stroke-width="1.1"/>
<line x1="411.12" y1="172.20" x2="411.12" y2="174.60" stroke="#333" stroke-width="1.1"/>
<line x1="413.25" y1="172.20" x2="413.25" y2="174.60" stroke="#333" stroke-width="1.1"/>
<line x1="415.05" y1="172.20" x2="415.05" y2="174.60" stroke="#333" stroke-width="1.1"/>
<line x1="416.62" y1="172.20" x2="416.62" y2="174.60" stroke="#333" stroke-width="1.1"/>
<line x1="417.99" y1="172.20" x2="417.99" y2="174.60" stroke="#333" stroke-width="1.1"/>
<line x1="419.23" y1="172.20" x2="419.23" y2="175.80" stroke="#333" stroke-width="1.1"/>
<line x1="427.33" y1="172.20" x2="427.33" y2="174.60" stroke="#333" stroke-width="1.1"/>
<line x1="432.07" y1="172.20" x2="432.07" y2="174.60" stroke="#333" stroke-width="1.1"/>
<line x1="435.44" y1="172.20" x2="435.44" y2="174.60" stroke="#333" stroke-width="1.1"/>
<line x1="438.04" y1="172.20" x2="438.04" y2="174.60" stroke="#333" stroke-width="1.1"/>
<line x1="440.18" y1="172.20" x2="440.18" y2="174.60" stroke="#333" stroke-width="1.1"/>
<line x1="441.98" y1="172.20" x2="441.98" y2="174.60" stroke="#333" stroke-width="1.1"/>
<line x1="443.54" y1="172.20" x2="443.54" y2="174.60" stroke="#333" stroke-width="1.1"/>
<line x1="444.92" y1="172.20" x2="444.92" y2="174.60" stroke="#333" stroke-width="1.1"/>
<line x1="446.15" y1="172.20" x2="446.15" y2="175.80" stroke="#333" stroke-width="1.1"/>
<line x1="454.26" y1="172.20" x2="454.26" y2="174.60" stroke="#333" stroke-width="1.1"/>
<line x1="459.00" y1="172.20" x2="459.00" y2="174.60" stroke="#333" stroke-width="1.1"/>
<line x1="462.36" y1="172.20" x2="462.36" y2="174.60" stroke="#333" stroke-width="1.1"/>
<line x1="464.97" y1="172.20" x2="464.97" y2="174.60" stroke="#333" stroke-width="1.1"/>
<line x1="467.10" y1="172.20" x2="467.10" y2="174.60" stroke="#333" stroke-width="1.1"/>
<line x1="468.90" y1="172.20" x2="468.90" y2="174.60" stroke="#333" stroke-width="1.1"/>
<line x1="470.47" y1="172.20" x2="470.47" y2="174.60" stroke="#333" stroke-width="1.1"/>
<line x1="471.84" y1="172.20" x2="471.84" y2="174.60" stroke="#333" stroke-width="1.1"/>
<line x1="473.07" y1="172.20" x2="473.07" y2="175.80" stroke="#333" stroke-width="1.1"/>
<line x1="481.18" y1="172.20" x2="481.18" y2="174.60" stroke="#333" stroke-width="1.1"/>
<line x1="485.92" y1="172.20" x2="485.92" y2="174.60" stroke="#333" stroke-width="1.1"/>
<line x1="489.29" y1="172.20" x2="489.29" y2="174.60" stroke="#333" stroke-width="1.1"/>
<line x1="491.89" y1="172.20" x2="491.89" y2="174.60" stroke="#333" stroke-width="1.1"/>
<line x1="494.03" y1="172.20" x2="494.03" y2="174.60" stroke="#333" stroke-width="1.1"/>
<line x1="495.83" y1="172.20" x2="495.83" y2="174.60" stroke="#333" stroke-width="1.1"/>
<line x1="497.39" y1="172.20" x2="497.39" y2="174.60" stroke="#333" stroke-width="1.1"/>
<line x1="498.77" y1="172.20" x2="498.77" y2="174.60" stroke="#333" stroke-width="1.1"/>
<line x1="500.00" y1="172.20" x2="500.00" y2="175.80" stroke="#333" stroke-width="1.1"/>
<line x1="91.40" y1="270.70" x2="91.40" y2="422.15" stroke="#000" stroke-width="1.6"/>
<line x1="85.40" y1="421.40" x2="91.40" y2="421.40" stroke="#000" stroke-width="1.6"/>
<line x1="85.40" y1="371.17" x2="91.40" y2="371.17" stroke="#000" stroke-width="1.6"/>
<line x1="85.40" y1="320.93" x2="91.40" y2="320.93" stroke="#000" stroke-width="1.6"/>
<line x1="85.40" y1="270.70" x2="91.40" y2="270.70" stroke="#000" stroke-width="1.6"/>
<line x1="91.40" y1="421.40" x2="273.40" y2="421.40" stroke="#000" stroke-width="1.6"/>
<line x1="91.40" y1="421.40" x2="91.40" y2="429.40" stroke="#000" stroke-width="1.6"/>
<line x1="137.10" y1="421.40" x2="137.10" y2="429.40" stroke="#000" stroke-width="1.6"/>
<line x1="182.50" y1="421.40" x2="182.50" y2="429.40" stroke="#000" stroke-width="1.6"/>
<line x1="228.00" y1="421.40" x2="228.00" y2="429.40" stroke="#000" stroke-width="1.6"/>
<line x1="273.40" y1="421.40" x2="273.40" y2="429.40" stroke="#000" stroke-width="1.6"/>
<rect x="101.35" y="397.95" width="11.70" height="23.45" fill="#fff" stroke="#000" stroke-width="1.5"/>
<line x1="101.35" y1="394.20" x2="113.05" y2="394.20" stroke="#000" stroke-width="1.5"/>
<rect x="114.55" y="313.05" width="12.40" height="108.35" fill="#000" stroke="#000" stroke-width="1.5"/>
<line x1="120.45" y1="313.30" x2="120.45" y2="284.00" stroke="#000" stroke-width="1.7"/>
<line x1="113.80" y1="284.80" x2="127.70" y2="284.80" stroke="#000" stroke-width="1.6"/>
<rect x="146.75" y="412.55" width="11.50" height="8.85" fill="#fff" stroke="#000" stroke-width="1.5"/>
<line x1="146.75" y1="413.00" x2="158.25" y2="413.00" stroke="#000" stroke-width="1.5"/>
<rect x="159.75" y="376.15" width="13.00" height="45.25" fill="#000" stroke="#000" stroke-width="1.5"/>
<line x1="165.95" y1="376.40" x2="165.95" y2="358.80" stroke="#000" stroke-width="1.7"/>
<line x1="159.00" y1="359.60" x2="173.50" y2="359.60" stroke="#000" stroke-width="1.6"/>
<rect x="192.35" y="413.95" width="11.10" height="7.45" fill="#fff" stroke="#000" stroke-width="1.5"/>
<line x1="192.35" y1="410.40" x2="203.45" y2="410.40" stroke="#000" stroke-width="1.5"/>
<rect x="204.95" y="399.15" width="12.70" height="22.25" fill="#000" stroke="#000" stroke-width="1.5"/>
<line x1="211.00" y1="399.40" x2="211.00" y2="387.00" stroke="#000" stroke-width="1.7"/>
<line x1="204.20" y1="387.80" x2="218.40" y2="387.80" stroke="#000" stroke-width="1.6"/>
<rect x="237.75" y="409.75" width="11.50" height="11.65" fill="#fff" stroke="#000" stroke-width="1.5"/>
<rect x="250.75" y="357.45" width="12.30" height="63.95" fill="#000" stroke="#000" stroke-width="1.5"/>
<line x1="256.60" y1="357.70" x2="256.60" y2="340.50" stroke="#000" stroke-width="1.7"/>
<line x1="250.00" y1="341.30" x2="263.80" y2="341.30" stroke="#000" stroke-width="1.6"/>
<line x1="298.00" y1="268.80" x2="298.00" y2="422.05" stroke="#000" stroke-width="1.6"/>
<line x1="292.00" y1="421.30" x2="298.00" y2="421.30" stroke="#000" stroke-width="1.6"/>
<line x1="292.00" y1="370.47" x2="298.00" y2="370.47" stroke="#000" stroke-width="1.6"/>
<line x1="292.00" y1="319.63" x2="298.00" y2="319.63" stroke="#000" stroke-width="1.6"/>
<line x1="292.00" y1="268.80" x2="298.00" y2="268.80" stroke="#000" stroke-width="1.6"/>
<line x1="298.00" y1="421.30" x2="479.20" y2="421.30" stroke="#000" stroke-width="1.6"/>
<line x1="298.00" y1="421.30" x2="298.00" y2="429.30" stroke="#000" stroke-width="1.6"/>
<line x1="343.50" y1="421.30" x2="343.50" y2="429.30" stroke="#000" stroke-width="1.6"/>
<line x1="388.80" y1="421.30" x2="388.80" y2="429.30" stroke="#000" stroke-width="1.6"/>
<line x1="434.20" y1="421.30" x2="434.20" y2="429.30" stroke="#000" stroke-width="1.6"/>
<line x1="479.20" y1="421.30" x2="479.20" y2="429.30" stroke="#000" stroke-width="1.6"/>
<rect x="307.95" y="413.55" width="11.70" height="7.75" fill="#fff" stroke="#000" stroke-width="1.5"/>
<rect x="321.15" y="404.25" width="12.30" height="17.05" fill="#000" stroke="#000" stroke-width="1.5"/>
<rect x="353.45" y="415.35" width="11.70" height="5.95" fill="#fff" stroke="#000" stroke-width="1.5"/>
<rect x="366.65" y="392.25" width="12.30" height="29.05" fill="#000" stroke="#000" stroke-width="1.5"/>
<line x1="372.50" y1="392.50" x2="372.50" y2="382.70" stroke="#000" stroke-width="1.7"/>
<line x1="365.90" y1="383.50" x2="379.70" y2="383.50" stroke="#000" stroke-width="1.6"/>
<rect x="399.05" y="408.05" width="11.00" height="13.25" fill="#fff" stroke="#000" stroke-width="1.5"/>
<rect x="411.55" y="358.45" width="12.90" height="62.85" fill="#000" stroke="#000" stroke-width="1.5"/>
<line x1="417.70" y1="358.70" x2="417.70" y2="350.70" stroke="#000" stroke-width="1.7"/>
<line x1="410.80" y1="351.50" x2="425.20" y2="351.50" stroke="#000" stroke-width="1.6"/>
<rect x="443.95" y="418.55" width="11.50" height="2.75" fill="#fff" stroke="#000" stroke-width="1.5"/>
<line x1="443.95" y1="419.30" x2="455.45" y2="419.30" stroke="#000" stroke-width="1.5"/>
<rect x="456.95" y="413.95" width="12.80" height="7.35" fill="#000" stroke="#000" stroke-width="1.5"/>
<rect x="311.20" y="269.50" width="16.20" height="16.20" fill="#fff" stroke="#8a8a8a" stroke-width="1.5"/>
<rect x="311.25" y="296.25" width="16.25" height="16.25" fill="#000" stroke="none" stroke-width="0"/>
<line x1="58.00" y1="553.00" x2="58.00" y2="728.10" stroke="#000" stroke-width="1.8"/>
<line x1="49.50" y1="720.10" x2="58.00" y2="720.10" stroke="#000" stroke-width="1.8"/>
<line x1="49.50" y1="678.33" x2="58.00" y2="678.33" stroke="#000" stroke-width="1.8"/>
<line x1="49.50" y1="636.55" x2="58.00" y2="636.55" stroke="#000" stroke-width="1.8"/>
<line x1="49.50" y1="594.77" x2="58.00" y2="594.77" stroke="#000" stroke-width="1.8"/>
<line x1="49.50" y1="553.00" x2="58.00" y2="553.00" stroke="#000" stroke-width="1.8"/>
<line x1="58.00" y1="720.10" x2="265.20" y2="720.10" stroke="#000" stroke-width="1.8"/>
<line x1="109.80" y1="720.10" x2="109.80" y2="728.10" stroke="#000" stroke-width="1.8"/>
<line x1="161.60" y1="720.10" x2="161.60" y2="728.10" stroke="#000" stroke-width="1.8"/>
<line x1="213.40" y1="720.10" x2="213.40" y2="728.10" stroke="#000" stroke-width="1.8"/>
<line x1="265.20" y1="720.10" x2="265.20" y2="728.10" stroke="#000" stroke-width="1.8"/>
<path d="M58.60 720.10L68.96 720.10" fill="none" stroke="#949494" stroke-width="2.2" stroke-dasharray="15 6.5"/>
<path d="M68.96 720.10L79.32 720.10" fill="none" stroke="#949494" stroke-width="2.2" stroke-dasharray="15 6.5"/>
<path d="M79.32 720.10L89.68 707.57" fill="none" stroke="#949494" stroke-width="2.2" stroke-dasharray="15 6.5"/>
<path d="M89.68 707.57L100.04 685.84" fill="none" stroke="#949494" stroke-width="2.2" stroke-dasharray="15 6.5"/>
<path d="M100.04 685.84L110.40 663.70" fill="none" stroke="#949494" stroke-width="2.2" stroke-dasharray="15 6.5"/>
<path d="M110.40 663.70L120.76 685.84" fill="none" stroke="#949494" stroke-width="2.2" stroke-dasharray="15 6.5"/>
<path d="M120.76 685.84L131.12 678.74" fill="none" stroke="#949494" stroke-width="2.2" stroke-dasharray="15 6.5"/>
<path d="M131.12 678.74L141.48 682.92" fill="none" stroke="#949494" stroke-width="2.2" stroke-dasharray="15 6.5"/>
<path d="M141.48 682.92L151.84 663.70" fill="none" stroke="#949494" stroke-width="2.2" stroke-dasharray="15 6.5"/>
<path d="M151.84 663.70L162.20 671.22" fill="none" stroke="#949494" stroke-width="2.2" stroke-dasharray="15 6.5"/>
<path d="M162.20 671.22L172.56 663.29" fill="none" stroke="#949494" stroke-width="2.2" stroke-dasharray="15 6.5"/>
<path d="M172.56 663.29L182.92 674.57" fill="none" stroke="#949494" stroke-width="2.2" stroke-dasharray="15 6.5"/>
<path d="M182.92 674.57L193.28 655.35" fill="none" stroke="#949494" stroke-width="2.2" stroke-dasharray="15 6.5"/>
<path d="M193.28 655.35L203.64 656.18" fill="none" stroke="#949494" stroke-width="2.2" stroke-dasharray="15 6.5"/>
<path d="M203.64 656.18L214.00 651.59" fill="none" stroke="#949494" stroke-width="2.2" stroke-dasharray="15 6.5"/>
<path d="M214.00 651.59L224.36 647.83" fill="none" stroke="#949494" stroke-width="2.2" stroke-dasharray="15 6.5"/>
<path d="M224.36 647.83L234.72 647.83" fill="none" stroke="#949494" stroke-width="2.2" stroke-dasharray="15 6.5"/>
<path d="M234.72 647.83L245.08 647.83" fill="none" stroke="#949494" stroke-width="2.2" stroke-dasharray="15 6.5"/>
<path d="M245.08 647.83L255.44 644.07" fill="none" stroke="#949494" stroke-width="2.2" stroke-dasharray="15 6.5"/>
<path d="M255.44 644.07L265.80 640.31" fill="none" stroke="#949494" stroke-width="2.2" stroke-dasharray="15 6.5"/>
<rect x="76.22" y="719.10" width="5" height="4.5" fill="#8a8a8a"/>
<circle cx="58.60" cy="720.10" r="2.5" fill="#949494"/>
<circle cx="68.96" cy="720.10" r="2.5" fill="#949494"/>
<circle cx="79.32" cy="720.10" r="2.5" fill="#949494"/>
<circle cx="89.68" cy="707.57" r="2.5" fill="#949494"/>
<circle cx="100.04" cy="685.84" r="2.5" fill="#949494"/>
<circle cx="110.40" cy="663.70" r="2.5" fill="#949494"/>
<circle cx="120.76" cy="685.84" r="2.5" fill="#949494"/>
<circle cx="131.12" cy="678.74" r="2.5" fill="#949494"/>
<circle cx="141.48" cy="682.92" r="2.5" fill="#949494"/>
<circle cx="151.84" cy="663.70" r="2.5" fill="#949494"/>
<circle cx="162.20" cy="671.22" r="2.5" fill="#949494"/>
<circle cx="172.56" cy="663.29" r="2.5" fill="#949494"/>
<circle cx="182.92" cy="674.57" r="2.5" fill="#949494"/>
<circle cx="193.28" cy="655.35" r="2.5" fill="#949494"/>
<circle cx="203.64" cy="656.18" r="2.5" fill="#949494"/>
<circle cx="214.00" cy="651.59" r="2.5" fill="#949494"/>
<circle cx="224.36" cy="647.83" r="2.5" fill="#949494"/>
<circle cx="234.72" cy="647.83" r="2.5" fill="#949494"/>
<circle cx="245.08" cy="647.83" r="2.5" fill="#949494"/>
<circle cx="255.44" cy="644.07" r="2.5" fill="#949494"/>
<circle cx="265.80" cy="640.31" r="2.5" fill="#949494"/>
<path d="M58.60 720.10L68.96 720.10" fill="none" stroke="#000" stroke-width="1.7" stroke-dasharray="13 7.5"/>
<path d="M68.96 720.10L79.32 716.34" fill="none" stroke="#000" stroke-width="1.7" stroke-dasharray="13 7.5"/>
<path d="M79.32 716.34L89.68 715.50" fill="none" stroke="#000" stroke-width="1.7" stroke-dasharray="13 7.5"/>
<path d="M89.68 715.50L100.04 707.99" fill="none" stroke="#000" stroke-width="1.7" stroke-dasharray="13 7.5"/>
<path d="M100.04 707.99L110.40 699.21" fill="none" stroke="#000" stroke-width="1.7" stroke-dasharray="13 7.5"/>
<path d="M110.40 699.21L120.76 691.28" fill="none" stroke="#000" stroke-width="1.7" stroke-dasharray="13 7.5"/>
<path d="M120.76 691.28L131.12 707.99" fill="none" stroke="#000" stroke-width="1.7" stroke-dasharray="13 7.5"/>
<path d="M131.12 707.99L141.48 698.79" fill="none" stroke="#000" stroke-width="1.7" stroke-dasharray="13 7.5"/>
<path d="M141.48 698.79L151.84 712.16" fill="none" stroke="#000" stroke-width="1.7" stroke-dasharray="13 7.5"/>
<path d="M151.84 712.16L162.20 712.16" fill="none" stroke="#000" stroke-width="1.7" stroke-dasharray="13 7.5"/>
<path d="M162.20 712.16L172.56 707.99" fill="none" stroke="#000" stroke-width="1.7" stroke-dasharray="13 7.5"/>
<path d="M172.56 707.99L182.92 707.99" fill="none" stroke="#000" stroke-width="1.7" stroke-dasharray="13 7.5"/>
<path d="M182.92 707.99L193.28 707.99" fill="none" stroke="#000" stroke-width="1.7" stroke-dasharray="13 7.5"/>
<path d="M193.28 707.99L203.64 712.16" fill="none" stroke="#000" stroke-width="1.7" stroke-dasharray="13 7.5"/>
<path d="M203.64 712.16L214.00 694.62" fill="none" stroke="#000" stroke-width="1.7" stroke-dasharray="13 7.5"/>
<path d="M214.00 694.62L224.36 707.99" fill="none" stroke="#000" stroke-width="1.7" stroke-dasharray="13 7.5"/>
<path d="M224.36 707.99L234.72 690.86" fill="none" stroke="#000" stroke-width="1.7" stroke-dasharray="13 7.5"/>
<path d="M234.72 690.86L245.08 715.50" fill="none" stroke="#000" stroke-width="1.7" stroke-dasharray="13 7.5"/>
<path d="M245.08 715.50L255.44 711.75" fill="none" stroke="#000" stroke-width="1.7" stroke-dasharray="13 7.5"/>
<path d="M255.44 711.75L265.80 699.21" fill="none" stroke="#000" stroke-width="1.7" stroke-dasharray="13 7.5"/>
<rect x="55.80" y="717.30" width="5.6" height="5.6" fill="#fff" stroke="#000" stroke-width="1.5"/>
<rect x="66.16" y="717.30" width="5.6" height="5.6" fill="#fff" stroke="#000" stroke-width="1.5"/>
<rect x="76.52" y="713.54" width="5.6" height="5.6" fill="#fff" stroke="#000" stroke-width="1.5"/>
<rect x="86.88" y="712.70" width="5.6" height="5.6" fill="#fff" stroke="#000" stroke-width="1.5"/>
<rect x="97.24" y="705.19" width="5.6" height="5.6" fill="#fff" stroke="#000" stroke-width="1.5"/>
<rect x="107.60" y="696.41" width="5.6" height="5.6" fill="#fff" stroke="#000" stroke-width="1.5"/>
<rect x="117.96" y="688.48" width="5.6" height="5.6" fill="#fff" stroke="#000" stroke-width="1.5"/>
<rect x="128.32" y="705.19" width="5.6" height="5.6" fill="#fff" stroke="#000" stroke-width="1.5"/>
<rect x="138.68" y="695.99" width="5.6" height="5.6" fill="#fff" stroke="#000" stroke-width="1.5"/>
<rect x="149.04" y="709.36" width="5.6" height="5.6" fill="#fff" stroke="#000" stroke-width="1.5"/>
<rect x="159.40" y="709.36" width="5.6" height="5.6" fill="#fff" stroke="#000" stroke-width="1.5"/>
<rect x="169.76" y="705.19" width="5.6" height="5.6" fill="#fff" stroke="#000" stroke-width="1.5"/>
<rect x="180.12" y="705.19" width="5.6" height="5.6" fill="#fff" stroke="#000" stroke-width="1.5"/>
<rect x="190.48" y="705.19" width="5.6" height="5.6" fill="#fff" stroke="#000" stroke-width="1.5"/>
<rect x="200.84" y="709.36" width="5.6" height="5.6" fill="#fff" stroke="#000" stroke-width="1.5"/>
<rect x="211.20" y="691.82" width="5.6" height="5.6" fill="#fff" stroke="#000" stroke-width="1.5"/>
<rect x="221.56" y="705.19" width="5.6" height="5.6" fill="#fff" stroke="#000" stroke-width="1.5"/>
<rect x="231.92" y="688.06" width="5.6" height="5.6" fill="#fff" stroke="#000" stroke-width="1.5"/>
<rect x="242.28" y="712.70" width="5.6" height="5.6" fill="#fff" stroke="#000" stroke-width="1.5"/>
<rect x="252.64" y="708.95" width="5.6" height="5.6" fill="#fff" stroke="#000" stroke-width="1.5"/>
<rect x="263.00" y="696.41" width="5.6" height="5.6" fill="#fff" stroke="#000" stroke-width="1.5"/>
<polyline points="58.60,720.10 68.96,720.10 79.32,718.01 89.68,708.82 100.04,671.22 110.40,659.94 120.76,678.74 131.12,674.98 141.48,659.53 151.84,644.49 162.20,644.49 172.56,656.18 182.92,656.18 193.28,647.83 203.64,663.70 214.00,659.94 224.36,656.18 234.72,663.70 245.08,674.57 255.44,659.94 265.80,671.22" fill="none" stroke="#000" stroke-width="2.0" stroke-linejoin="round"/>
<circle cx="58.60" cy="720.10" r="3.8" fill="#000"/>
<circle cx="68.96" cy="720.10" r="3.8" fill="#000"/>
<circle cx="79.32" cy="718.01" r="3.8" fill="#000"/>
<circle cx="89.68" cy="708.82" r="3.8" fill="#000"/>
<circle cx="100.04" cy="671.22" r="3.8" fill="#000"/>
<circle cx="110.40" cy="659.94" r="3.8" fill="#000"/>
<circle cx="120.76" cy="678.74" r="3.8" fill="#000"/>
<circle cx="131.12" cy="674.98" r="3.8" fill="#000"/>
<circle cx="141.48" cy="659.53" r="3.8" fill="#000"/>
<circle cx="151.84" cy="644.49" r="3.8" fill="#000"/>
<circle cx="162.20" cy="644.49" r="3.8" fill="#000"/>
<circle cx="172.56" cy="656.18" r="3.8" fill="#000"/>
<circle cx="182.92" cy="656.18" r="3.8" fill="#000"/>
<circle cx="193.28" cy="647.83" r="3.8" fill="#000"/>
<circle cx="203.64" cy="663.70" r="3.8" fill="#000"/>
<circle cx="214.00" cy="659.94" r="3.8" fill="#000"/>
<circle cx="224.36" cy="656.18" r="3.8" fill="#000"/>
<circle cx="234.72" cy="663.70" r="3.8" fill="#000"/>
<circle cx="245.08" cy="674.57" r="3.8" fill="#000"/>
<circle cx="255.44" cy="659.94" r="3.8" fill="#000"/>
<circle cx="265.80" cy="671.22" r="3.8" fill="#000"/>
<polyline points="58.00,720.10 68.36,720.10 78.72,714.25 89.08,710.91 99.44,619.84 109.80,594.77 120.16,619.84 130.52,607.73 140.88,602.29 151.24,607.73 161.60,615.66 171.96,619.84 182.32,619.84 192.68,606.89 203.04,619.84 213.40,611.49 223.76,611.49 234.12,611.49 244.48,615.24 254.84,611.49 265.20,603.13" fill="none" stroke="#000" stroke-width="1.9" stroke-linejoin="round"/>
<polygon points="58.00,716.90 54.70,723.10 61.30,723.10" fill="#fff" stroke="#000" stroke-width="1.8" stroke-linejoin="miter"/>
<polygon points="68.36,716.90 65.06,723.10 71.66,723.10" fill="#fff" stroke="#000" stroke-width="1.8" stroke-linejoin="miter"/>
<polygon points="78.72,711.05 75.42,717.25 82.02,717.25" fill="#fff" stroke="#000" stroke-width="1.8" stroke-linejoin="miter"/>
<polygon points="89.08,707.71 85.78,713.91 92.38,713.91" fill="#fff" stroke="#000" stroke-width="1.8" stroke-linejoin="miter"/>
<polygon points="99.44,616.64 96.14,622.84 102.74,622.84" fill="#fff" stroke="#000" stroke-width="1.8" stroke-linejoin="miter"/>
<polygon points="109.80,591.57 106.50,597.77 113.10,597.77" fill="#fff" stroke="#000" stroke-width="1.8" stroke-linejoin="miter"/>
<polygon points="120.16,616.64 116.86,622.84 123.46,622.84" fill="#fff" stroke="#000" stroke-width="1.8" stroke-linejoin="miter"/>
<polygon points="130.52,604.53 127.22,610.73 133.82,610.73" fill="#fff" stroke="#000" stroke-width="1.8" stroke-linejoin="miter"/>
<polygon points="140.88,599.09 137.58,605.29 144.18,605.29" fill="#fff" stroke="#000" stroke-width="1.8" stroke-linejoin="miter"/>
<polygon points="151.24,604.53 147.94,610.73 154.54,610.73" fill="#fff" stroke="#000" stroke-width="1.8" stroke-linejoin="miter"/>
<polygon points="161.60,612.46 158.30,618.66 164.90,618.66" fill="#fff" stroke="#000" stroke-width="1.8" stroke-linejoin="miter"/>
<polygon points="171.96,616.64 168.66,622.84 175.26,622.84" fill="#fff" stroke="#000" stroke-width="1.8" stroke-linejoin="miter"/>
<polygon points="182.32,616.64 179.02,622.84 185.62,622.84" fill="#fff" stroke="#000" stroke-width="1.8" stroke-linejoin="miter"/>
<polygon points="192.68,603.69 189.38,609.89 195.98,609.89" fill="#fff" stroke="#000" stroke-width="1.8" stroke-linejoin="miter"/>
<polygon points="203.04,616.64 199.74,622.84 206.34,622.84" fill="#fff" stroke="#000" stroke-width="1.8" stroke-linejoin="miter"/>
<polygon points="213.40,608.28 210.10,614.49 216.70,614.49" fill="#fff" stroke="#000" stroke-width="1.8" stroke-linejoin="miter"/>
<polygon points="223.76,608.28 220.46,614.49 227.06,614.49" fill="#fff" stroke="#000" stroke-width="1.8" stroke-linejoin="miter"/>
<polygon points="234.12,608.28 230.82,614.49 237.42,614.49" fill="#fff" stroke="#000" stroke-width="1.8" stroke-linejoin="miter"/>
<polygon points="244.48,612.04 241.18,618.24 247.78,618.24" fill="#fff" stroke="#000" stroke-width="1.8" stroke-linejoin="miter"/>
<polygon points="254.84,608.28 251.54,614.49 258.14,614.49" fill="#fff" stroke="#000" stroke-width="1.8" stroke-linejoin="miter"/>
<polygon points="265.20,599.93 261.90,606.13 268.50,606.13" fill="#fff" stroke="#000" stroke-width="1.8" stroke-linejoin="miter"/>
<line x1="300.60" y1="550.40" x2="300.60" y2="727.30" stroke="#000" stroke-width="1.8"/>
<line x1="292.10" y1="719.30" x2="300.60" y2="719.30" stroke="#000" stroke-width="1.8"/>
<line x1="292.10" y1="677.07" x2="300.60" y2="677.07" stroke="#000" stroke-width="1.8"/>
<line x1="292.10" y1="634.85" x2="300.60" y2="634.85" stroke="#000" stroke-width="1.8"/>
<line x1="292.10" y1="592.62" x2="300.60" y2="592.62" stroke="#000" stroke-width="1.8"/>
<line x1="292.10" y1="550.40" x2="300.60" y2="550.40" stroke="#000" stroke-width="1.8"/>
<line x1="300.60" y1="719.30" x2="508.10" y2="719.30" stroke="#000" stroke-width="1.8"/>
<line x1="352.48" y1="719.30" x2="352.48" y2="727.30" stroke="#000" stroke-width="1.8"/>
<line x1="404.35" y1="719.30" x2="404.35" y2="727.30" stroke="#000" stroke-width="1.8"/>
<line x1="456.23" y1="719.30" x2="456.23" y2="727.30" stroke="#000" stroke-width="1.8"/>
<line x1="508.10" y1="719.30" x2="508.10" y2="727.30" stroke="#000" stroke-width="1.8"/>
<path d="M301.20 719.30L311.58 719.30" fill="none" stroke="#949494" stroke-width="2.2" stroke-dasharray="15 6.5"/>
<path d="M311.58 719.30L321.95 719.30" fill="none" stroke="#949494" stroke-width="2.2" stroke-dasharray="15 6.5"/>
<path d="M321.95 719.30L332.33 715.08" fill="none" stroke="#949494" stroke-width="2.2" stroke-dasharray="15 6.5"/>
<path d="M332.33 715.08L342.70 645.83" fill="none" stroke="#949494" stroke-width="2.2" stroke-dasharray="15 6.5"/>
<path d="M342.70 645.83L353.08 646.67" fill="none" stroke="#949494" stroke-width="2.2" stroke-dasharray="15 6.5"/>
<path d="M353.08 646.67L363.45 650.90" fill="none" stroke="#949494" stroke-width="2.2" stroke-dasharray="15 6.5"/>
<path d="M363.45 650.90L373.83 655.12" fill="none" stroke="#949494" stroke-width="2.2" stroke-dasharray="15 6.5"/>
<path d="M373.83 655.12L384.20 620.49" fill="none" stroke="#949494" stroke-width="2.2" stroke-dasharray="15 6.5"/>
<path d="M384.20 620.49L394.58 620.49" fill="none" stroke="#949494" stroke-width="2.2" stroke-dasharray="15 6.5"/>
<path d="M394.58 620.49L404.95 631.89" fill="none" stroke="#949494" stroke-width="2.2" stroke-dasharray="15 6.5"/>
<path d="M404.95 631.89L415.33 609.09" fill="none" stroke="#949494" stroke-width="2.2" stroke-dasharray="15 6.5"/>
<path d="M415.33 609.09L425.70 605.29" fill="none" stroke="#949494" stroke-width="2.2" stroke-dasharray="15 6.5"/>
<path d="M425.70 605.29L436.08 600.65" fill="none" stroke="#949494" stroke-width="2.2" stroke-dasharray="15 6.5"/>
<path d="M436.08 600.65L446.45 628.09" fill="none" stroke="#949494" stroke-width="2.2" stroke-dasharray="15 6.5"/>
<path d="M446.45 628.09L456.83 620.92" fill="none" stroke="#949494" stroke-width="2.2" stroke-dasharray="15 6.5"/>
<path d="M456.83 620.92L467.20 604.45" fill="none" stroke="#949494" stroke-width="2.2" stroke-dasharray="15 6.5"/>
<path d="M467.20 604.45L477.58 631.89" fill="none" stroke="#949494" stroke-width="2.2" stroke-dasharray="15 6.5"/>
<path d="M477.58 631.89L487.95 631.89" fill="none" stroke="#949494" stroke-width="2.2" stroke-dasharray="15 6.5"/>
<path d="M487.95 631.89L498.33 631.89" fill="none" stroke="#949494" stroke-width="2.2" stroke-dasharray="15 6.5"/>
<path d="M498.33 631.89L508.70 616.69" fill="none" stroke="#949494" stroke-width="2.2" stroke-dasharray="15 6.5"/>
<rect x="318.85" y="718.30" width="5" height="4.5" fill="#8a8a8a"/>
<circle cx="301.20" cy="719.30" r="2.5" fill="#949494"/>
<circle cx="311.58" cy="719.30" r="2.5" fill="#949494"/>
<circle cx="321.95" cy="719.30" r="2.5" fill="#949494"/>
<circle cx="332.33" cy="715.08" r="2.5" fill="#949494"/>
<circle cx="342.70" cy="645.83" r="2.5" fill="#949494"/>
<circle cx="353.08" cy="646.67" r="2.5" fill="#949494"/>
<circle cx="363.45" cy="650.90" r="2.5" fill="#949494"/>
<circle cx="373.83" cy="655.12" r="2.5" fill="#949494"/>
<circle cx="384.20" cy="620.49" r="2.5" fill="#949494"/>
<circle cx="394.58" cy="620.49" r="2.5" fill="#949494"/>
<circle cx="404.95" cy="631.89" r="2.5" fill="#949494"/>
<circle cx="415.33" cy="609.09" r="2.5" fill="#949494"/>
<circle cx="425.70" cy="605.29" r="2.5" fill="#949494"/>
<circle cx="436.08" cy="600.65" r="2.5" fill="#949494"/>
<circle cx="446.45" cy="628.09" r="2.5" fill="#949494"/>
<circle cx="456.83" cy="620.92" r="2.5" fill="#949494"/>
<circle cx="467.20" cy="604.45" r="2.5" fill="#949494"/>
<circle cx="477.58" cy="631.89" r="2.5" fill="#949494"/>
<circle cx="487.95" cy="631.89" r="2.5" fill="#949494"/>
<circle cx="498.33" cy="631.89" r="2.5" fill="#949494"/>
<circle cx="508.70" cy="616.69" r="2.5" fill="#949494"/>
<path d="M301.20 719.30L311.58 719.30" fill="none" stroke="#000" stroke-width="1.7" stroke-dasharray="13 7.5"/>
<path d="M311.58 719.30L321.95 716.77" fill="none" stroke="#000" stroke-width="1.7" stroke-dasharray="13 7.5"/>
<path d="M321.95 716.77L332.33 716.77" fill="none" stroke="#000" stroke-width="1.7" stroke-dasharray="13 7.5"/>
<path d="M332.33 716.77L342.70 706.63" fill="none" stroke="#000" stroke-width="1.7" stroke-dasharray="13 7.5"/>
<path d="M342.70 706.63L353.08 698.61" fill="none" stroke="#000" stroke-width="1.7" stroke-dasharray="13 7.5"/>
<path d="M353.08 698.61L363.45 690.16" fill="none" stroke="#000" stroke-width="1.7" stroke-dasharray="13 7.5"/>
<path d="M363.45 690.16L373.83 707.05" fill="none" stroke="#000" stroke-width="1.7" stroke-dasharray="13 7.5"/>
<path d="M373.83 707.05L384.20 698.19" fill="none" stroke="#000" stroke-width="1.7" stroke-dasharray="13 7.5"/>
<path d="M384.20 698.19L394.58 711.70" fill="none" stroke="#000" stroke-width="1.7" stroke-dasharray="13 7.5"/>
<path d="M394.58 711.70L404.95 711.70" fill="none" stroke="#000" stroke-width="1.7" stroke-dasharray="13 7.5"/>
<path d="M404.95 711.70L415.33 707.05" fill="none" stroke="#000" stroke-width="1.7" stroke-dasharray="13 7.5"/>
<path d="M415.33 707.05L425.70 707.05" fill="none" stroke="#000" stroke-width="1.7" stroke-dasharray="13 7.5"/>
<path d="M425.70 707.05L436.08 707.05" fill="none" stroke="#000" stroke-width="1.7" stroke-dasharray="13 7.5"/>
<path d="M436.08 707.05L446.45 711.70" fill="none" stroke="#000" stroke-width="1.7" stroke-dasharray="13 7.5"/>
<path d="M446.45 711.70L456.83 694.81" fill="none" stroke="#000" stroke-width="1.7" stroke-dasharray="13 7.5"/>
<path d="M456.83 694.81L467.20 707.05" fill="none" stroke="#000" stroke-width="1.7" stroke-dasharray="13 7.5"/>
<path d="M467.20 707.05L477.58 690.59" fill="none" stroke="#000" stroke-width="1.7" stroke-dasharray="13 7.5"/>
<path d="M477.58 690.59L487.95 715.50" fill="none" stroke="#000" stroke-width="1.7" stroke-dasharray="13 7.5"/>
<path d="M487.95 715.50L498.33 711.70" fill="none" stroke="#000" stroke-width="1.7" stroke-dasharray="13 7.5"/>
<path d="M498.33 711.70L508.70 698.61" fill="none" stroke="#000" stroke-width="1.7" stroke-dasharray="13 7.5"/>
<rect x="298.40" y="716.50" width="5.6" height="5.6" fill="#fff" stroke="#000" stroke-width="1.5"/>
<rect x="308.78" y="716.50" width="5.6" height="5.6" fill="#fff" stroke="#000" stroke-width="1.5"/>
<rect x="319.15" y="713.97" width="5.6" height="5.6" fill="#fff" stroke="#000" stroke-width="1.5"/>
<rect x="329.53" y="713.97" width="5.6" height="5.6" fill="#fff" stroke="#000" stroke-width="1.5"/>
<rect x="339.90" y="703.83" width="5.6" height="5.6" fill="#fff" stroke="#000" stroke-width="1.5"/>
<rect x="350.28" y="695.81" width="5.6" height="5.6" fill="#fff" stroke="#000" stroke-width="1.5"/>
<rect x="360.65" y="687.36" width="5.6" height="5.6" fill="#fff" stroke="#000" stroke-width="1.5"/>
<rect x="371.03" y="704.25" width="5.6" height="5.6" fill="#fff" stroke="#000" stroke-width="1.5"/>
<rect x="381.40" y="695.39" width="5.6" height="5.6" fill="#fff" stroke="#000" stroke-width="1.5"/>
<rect x="391.78" y="708.90" width="5.6" height="5.6" fill="#fff" stroke="#000" stroke-width="1.5"/>
<rect x="402.15" y="708.90" width="5.6" height="5.6" fill="#fff" stroke="#000" stroke-width="1.5"/>
<rect x="412.53" y="704.25" width="5.6" height="5.6" fill="#fff" stroke="#000" stroke-width="1.5"/>
<rect x="422.90" y="704.25" width="5.6" height="5.6" fill="#fff" stroke="#000" stroke-width="1.5"/>
<rect x="433.28" y="704.25" width="5.6" height="5.6" fill="#fff" stroke="#000" stroke-width="1.5"/>
<rect x="443.65" y="708.90" width="5.6" height="5.6" fill="#fff" stroke="#000" stroke-width="1.5"/>
<rect x="454.03" y="692.01" width="5.6" height="5.6" fill="#fff" stroke="#000" stroke-width="1.5"/>
<rect x="464.40" y="704.25" width="5.6" height="5.6" fill="#fff" stroke="#000" stroke-width="1.5"/>
<rect x="474.78" y="687.79" width="5.6" height="5.6" fill="#fff" stroke="#000" stroke-width="1.5"/>
<rect x="485.15" y="712.70" width="5.6" height="5.6" fill="#fff" stroke="#000" stroke-width="1.5"/>
<rect x="495.53" y="708.90" width="5.6" height="5.6" fill="#fff" stroke="#000" stroke-width="1.5"/>
<rect x="505.90" y="695.81" width="5.6" height="5.6" fill="#fff" stroke="#000" stroke-width="1.5"/>
<polyline points="301.20,719.30 311.58,719.30 321.95,717.19 332.33,715.08 342.70,650.47 353.08,666.52 363.45,681.72 373.83,681.72 384.20,655.12 394.58,650.90 404.95,655.12 415.33,639.49 425.70,646.67 436.08,631.89 446.45,646.67 456.83,663.14 467.20,650.90 477.58,662.72 487.95,662.72 498.33,662.72 508.70,658.92" fill="none" stroke="#000" stroke-width="2.0" stroke-linejoin="round"/>
<circle cx="301.20" cy="719.30" r="3.8" fill="#000"/>
<circle cx="311.58" cy="719.30" r="3.8" fill="#000"/>
<circle cx="321.95" cy="717.19" r="3.8" fill="#000"/>
<circle cx="332.33" cy="715.08" r="3.8" fill="#000"/>
<circle cx="342.70" cy="650.47" r="3.8" fill="#000"/>
<circle cx="353.08" cy="666.52" r="3.8" fill="#000"/>
<circle cx="363.45" cy="681.72" r="3.8" fill="#000"/>
<circle cx="373.83" cy="681.72" r="3.8" fill="#000"/>
<circle cx="384.20" cy="655.12" r="3.8" fill="#000"/>
<circle cx="394.58" cy="650.90" r="3.8" fill="#000"/>
<circle cx="404.95" cy="655.12" r="3.8" fill="#000"/>
<circle cx="415.33" cy="639.49" r="3.8" fill="#000"/>
<circle cx="425.70" cy="646.67" r="3.8" fill="#000"/>
<circle cx="436.08" cy="631.89" r="3.8" fill="#000"/>
<circle cx="446.45" cy="646.67" r="3.8" fill="#000"/>
<circle cx="456.83" cy="663.14" r="3.8" fill="#000"/>
<circle cx="467.20" cy="650.90" r="3.8" fill="#000"/>
<circle cx="477.58" cy="662.72" r="3.8" fill="#000"/>
<circle cx="487.95" cy="662.72" r="3.8" fill="#000"/>
<circle cx="498.33" cy="662.72" r="3.8" fill="#000"/>
<circle cx="508.70" cy="658.92" r="3.8" fill="#000"/>
<polyline points="300.60,719.30 310.98,719.30 321.35,713.81 331.73,711.70 342.10,618.80 352.48,593.05 362.85,618.80 373.23,605.29 383.60,600.65 393.98,605.29 404.35,614.16 414.73,619.23 425.10,619.23 435.48,605.29 445.85,618.80 456.23,609.51 466.60,609.51 476.98,609.51 487.35,614.16 497.73,609.51 508.10,601.07" fill="none" stroke="#000" stroke-width="1.9" stroke-linejoin="round"/>
<polygon points="300.60,716.10 297.30,722.30 303.90,722.30" fill="#fff" stroke="#000" stroke-width="1.8" stroke-linejoin="miter"/>
<polygon points="310.98,716.10 307.68,722.30 314.28,722.30" fill="#fff" stroke="#000" stroke-width="1.8" stroke-linejoin="miter"/>
<polygon points="321.35,710.61 318.05,716.81 324.65,716.81" fill="#fff" stroke="#000" stroke-width="1.8" stroke-linejoin="miter"/>
<polygon points="331.73,708.50 328.43,714.70 335.03,714.70" fill="#fff" stroke="#000" stroke-width="1.8" stroke-linejoin="miter"/>
<polygon points="342.10,615.60 338.80,621.80 345.40,621.80" fill="#fff" stroke="#000" stroke-width="1.8" stroke-linejoin="miter"/>
<polygon points="352.48,589.85 349.18,596.05 355.78,596.05" fill="#fff" stroke="#000" stroke-width="1.8" stroke-linejoin="miter"/>
<polygon points="362.85,615.60 359.55,621.80 366.15,621.80" fill="#fff" stroke="#000" stroke-width="1.8" stroke-linejoin="miter"/>
<polygon points="373.23,602.09 369.93,608.29 376.53,608.29" fill="#fff" stroke="#000" stroke-width="1.8" stroke-linejoin="miter"/>
<polygon points="383.60,597.45 380.30,603.65 386.90,603.65" fill="#fff" stroke="#000" stroke-width="1.8" stroke-linejoin="miter"/>
<polygon points="393.98,602.09 390.68,608.29 397.28,608.29" fill="#fff" stroke="#000" stroke-width="1.8" stroke-linejoin="miter"/>
<polygon points="404.35,610.96 401.05,617.16 407.65,617.16" fill="#fff" stroke="#000" stroke-width="1.8" stroke-linejoin="miter"/>
<polygon points="414.73,616.03 411.43,622.23 418.03,622.23" fill="#fff" stroke="#000" stroke-width="1.8" stroke-linejoin="miter"/>
<polygon points="425.10,616.03 421.80,622.23 428.40,622.23" fill="#fff" stroke="#000" stroke-width="1.8" stroke-linejoin="miter"/>
<polygon points="435.48,602.09 432.18,608.29 438.78,608.29" fill="#fff" stroke="#000" stroke-width="1.8" stroke-linejoin="miter"/>
<polygon points="445.85,615.60 442.55,621.80 449.15,621.80" fill="#fff" stroke="#000" stroke-width="1.8" stroke-linejoin="miter"/>
<polygon points="456.23,606.31 452.93,612.51 459.53,612.51" fill="#fff" stroke="#000" stroke-width="1.8" stroke-linejoin="miter"/>
<polygon points="466.60,606.31 463.30,612.51 469.90,612.51" fill="#fff" stroke="#000" stroke-width="1.8" stroke-linejoin="miter"/>
<polygon points="476.98,606.31 473.68,612.51 480.28,612.51" fill="#fff" stroke="#000" stroke-width="1.8" stroke-linejoin="miter"/>
<polygon points="487.35,610.96 484.05,617.16 490.65,617.16" fill="#fff" stroke="#000" stroke-width="1.8" stroke-linejoin="miter"/>
<polygon points="497.73,606.31 494.43,612.51 501.03,612.51" fill="#fff" stroke="#000" stroke-width="1.8" stroke-linejoin="miter"/>
<polygon points="508.10,597.87 504.80,604.07 511.40,604.07" fill="#fff" stroke="#000" stroke-width="1.8" stroke-linejoin="miter"/>
<line x1="34.60" y1="811.90" x2="45.20" y2="811.90" stroke="#000" stroke-width="1.8"/>
<line x1="49.60" y1="811.90" x2="68.30" y2="811.90" stroke="#000" stroke-width="1.8"/>
<line x1="73.00" y1="811.90" x2="82.30" y2="811.90" stroke="#000" stroke-width="1.8"/>
<rect x="54.40" y="807.30" width="9.80" height="9.40" fill="#fff" stroke="#000" stroke-width="1.6"/>
<line x1="33.00" y1="840.80" x2="83.70" y2="840.80" stroke="#000" stroke-width="1.8"/>
<polygon points="58.7,835 52.2,846.8 65.2,846.8" fill="#fff" stroke="#000" stroke-width="1.6"/>
<line x1="33.00" y1="870.20" x2="85.00" y2="870.20" stroke="#000" stroke-width="1.8"/>
<circle cx="59.6" cy="871" r="4.8" fill="#000"/>
<line x1="32.70" y1="899.60" x2="42.70" y2="899.60" stroke="#949494" stroke-width="2.2"/>
<line x1="48.50" y1="899.60" x2="70.20" y2="899.60" stroke="#949494" stroke-width="2.2"/>
<line x1="75.40" y1="899.60" x2="85.00" y2="899.60" stroke="#949494" stroke-width="2.2"/>
<circle cx="59.2" cy="900" r="4.6" fill="#949494"/>
<text x="0.10" y="19.90" font-family='"Liberation Sans", sans-serif' font-size="24.5" font-weight="bold" fill="#000" textLength="19.47" lengthAdjust="spacingAndGlyphs"><tspan >A</tspan></text>
<text x="130.71" y="27.50" font-family='"Liberation Sans", sans-serif' font-size="19" font-weight="bold" fill="#000" textLength="32.30" lengthAdjust="spacingAndGlyphs"><tspan >Spl</tspan></text>
<text x="368.10" y="28.00" font-family='"Liberation Sans", sans-serif' font-size="19" font-weight="bold" fill="#000" textLength="46.25" lengthAdjust="spacingAndGlyphs"><tspan >mLN</tspan></text>
<text x="69.73" y="57.70" font-family='"Liberation Sans", sans-serif' font-size="19" font-weight="normal" fill="#000" textLength="40.57" lengthAdjust="spacingAndGlyphs"><tspan >PBS</tspan></text>
<text x="156.91" y="57.70" font-family='"Liberation Sans", sans-serif' font-size="19" font-weight="normal" fill="#000" textLength="87.16" lengthAdjust="spacingAndGlyphs"><tspan >CD28-SA</tspan></text>
<text x="310.43" y="57.70" font-family='"Liberation Sans", sans-serif' font-size="19" font-weight="normal" fill="#000" textLength="40.67" lengthAdjust="spacingAndGlyphs"><tspan >PBS</tspan></text>
<text x="400.92" y="57.70" font-family='"Liberation Sans", sans-serif' font-size="19" font-weight="normal" fill="#000" textLength="86.65" lengthAdjust="spacingAndGlyphs"><tspan >CD28-SA</tspan></text>
<text transform="translate(21.00 110.90) rotate(-90)" x="-0.96" y="0" font-family='"Liberation Sans", sans-serif' font-size="16.5" font-weight="bold" fill="#000" textLength="46.53" lengthAdjust="spacingAndGlyphs"><tspan >Foxp3</tspan></text>
<text x="243.34" y="197.90" font-family='"Liberation Sans", sans-serif' font-size="16.3" font-weight="bold" fill="#000" textLength="41.89" lengthAdjust="spacingAndGlyphs"><tspan >CFSE</tspan></text>
<text x="34.31" y="81.60" font-family='"Liberation Sans", sans-serif' font-size="16.5" font-weight="normal" fill="#000" textLength="18.25" lengthAdjust="spacingAndGlyphs"><tspan >12</tspan></text>
<text x="112.67" y="81.60" font-family='"Liberation Sans", sans-serif' font-size="16.5" font-weight="normal" fill="#000" textLength="21.37" lengthAdjust="spacingAndGlyphs"><tspan >1.4</tspan></text>
<text x="33.90" y="170.60" font-family='"Liberation Sans", sans-serif' font-size="16.5" font-weight="normal" fill="#000" textLength="18.36" lengthAdjust="spacingAndGlyphs"><tspan >70</tspan></text>
<text x="115.68" y="170.60" font-family='"Liberation Sans", sans-serif' font-size="16.5" font-weight="normal" fill="#000" textLength="18.79" lengthAdjust="spacingAndGlyphs"><tspan >17</tspan></text>
<text x="154.50" y="82.00" font-family='"Liberation Sans", sans-serif' font-size="16.5" font-weight="normal" fill="#000" textLength="16.93" lengthAdjust="spacingAndGlyphs"><tspan >41</tspan></text>
<text x="232.09" y="82.00" font-family='"Liberation Sans", sans-serif' font-size="16.5" font-weight="normal" fill="#000" textLength="23.16" lengthAdjust="spacingAndGlyphs"><tspan >3.7</tspan></text>
<text x="153.96" y="167.50" font-family='"Liberation Sans", sans-serif' font-size="16.5" font-weight="normal" fill="#000" textLength="17.17" lengthAdjust="spacingAndGlyphs"><tspan >34</tspan></text>
<text x="236.62" y="167.50" font-family='"Liberation Sans", sans-serif' font-size="16.5" font-weight="normal" fill="#000" textLength="17.93" lengthAdjust="spacingAndGlyphs"><tspan >21</tspan></text>
<text x="278.12" y="81.80" font-family='"Liberation Sans", sans-serif' font-size="16.5" font-weight="normal" fill="#000" textLength="24.69" lengthAdjust="spacingAndGlyphs"><tspan >3.8</tspan></text>
<text x="354.35" y="81.80" font-family='"Liberation Sans", sans-serif' font-size="16.5" font-weight="normal" fill="#000" textLength="24.03" lengthAdjust="spacingAndGlyphs"><tspan >1.7</tspan></text>
<text x="278.69" y="165.20" font-family='"Liberation Sans", sans-serif' font-size="16.5" font-weight="normal" fill="#000" textLength="18.58" lengthAdjust="spacingAndGlyphs"><tspan >33</tspan></text>
<text x="358.98" y="165.20" font-family='"Liberation Sans", sans-serif' font-size="16.5" font-weight="normal" fill="#000" textLength="18.79" lengthAdjust="spacingAndGlyphs"><tspan >62</tspan></text>
<text x="396.64" y="81.40" font-family='"Liberation Sans", sans-serif' font-size="16.5" font-weight="normal" fill="#000" textLength="17.71" lengthAdjust="spacingAndGlyphs"><tspan >27</tspan></text>
<text x="473.33" y="80.80" font-family='"Liberation Sans", sans-serif' font-size="16.5" font-weight="normal" fill="#000" textLength="22.21" lengthAdjust="spacingAndGlyphs"><tspan >5.4</tspan></text>
<text x="396.41" y="167.80" font-family='"Liberation Sans", sans-serif' font-size="16.5" font-weight="normal" fill="#000" textLength="18.14" lengthAdjust="spacingAndGlyphs"><tspan >20</tspan></text>
<text x="478.90" y="167.80" font-family='"Liberation Sans", sans-serif' font-size="16.5" font-weight="normal" fill="#000" textLength="17.65" lengthAdjust="spacingAndGlyphs"><tspan >48</tspan></text>
<text x="-0.61" y="241.50" font-family='"Liberation Sans", sans-serif' font-size="25" font-weight="bold" fill="#000" textLength="18.18" lengthAdjust="spacingAndGlyphs"><tspan >B</tspan></text>
<text x="161.50" y="259.50" font-family='"Liberation Sans", sans-serif' font-size="18.7" font-weight="bold" fill="#000" textLength="52.68" lengthAdjust="spacingAndGlyphs"><tspan >day 3</tspan></text>
<text x="361.20" y="259.10" font-family='"Liberation Sans", sans-serif' font-size="18.7" font-weight="bold" fill="#000" textLength="52.58" lengthAdjust="spacingAndGlyphs"><tspan >day 6</tspan></text>
<text transform="translate(51.00 450.20) rotate(-90)" x="-0.00" y="0" font-family='"Liberation Sans", sans-serif' font-size="18" font-weight="bold" fill="#000" textLength="206.59" lengthAdjust="spacingAndGlyphs"><tspan >% Foxp3</tspan><tspan font-size="11" dy="-7">+</tspan><tspan dy="7">/ CD4</tspan><tspan font-size="11" dy="-7">+</tspan><tspan dy="7"> CD90.1</tspan><tspan font-size="11" dy="-7">+</tspan></text>
<text x="64.00" y="276.60" font-family='"Liberation Sans", sans-serif' font-size="14.5" font-weight="normal" fill="#000" textLength="16.14" lengthAdjust="spacingAndGlyphs"><tspan >75</tspan></text>
<text x="64.00" y="326.80" font-family='"Liberation Sans", sans-serif' font-size="14.5" font-weight="normal" fill="#000" textLength="16.14" lengthAdjust="spacingAndGlyphs"><tspan >50</tspan></text>
<text x="64.00" y="377.60" font-family='"Liberation Sans", sans-serif' font-size="14.5" font-weight="normal" fill="#000" textLength="16.14" lengthAdjust="spacingAndGlyphs"><tspan >25</tspan></text>
<text x="72.00" y="427.90" font-family='"Liberation Sans", sans-serif' font-size="14.5" font-weight="normal" fill="#000" textLength="8.08" lengthAdjust="spacingAndGlyphs"><tspan >0</tspan></text>
<text x="95.60" y="279.20" font-family='"Liberation Sans", sans-serif' font-size="15.5" font-weight="normal" fill="#000" textLength="42.69" lengthAdjust="spacingAndGlyphs"><tspan font-style="italic">P</tspan><tspan >=.01</tspan></text>
<text x="142.70" y="348.00" font-family='"Liberation Sans", sans-serif' font-size="15.5" font-weight="normal" fill="#000" textLength="42.28" lengthAdjust="spacingAndGlyphs"><tspan font-style="italic">P</tspan><tspan >=.02</tspan></text>
<text x="196.20" y="375.00" font-family='"Liberation Sans", sans-serif' font-size="15.5" font-weight="normal" fill="#000" textLength="33.14" lengthAdjust="spacingAndGlyphs"><tspan font-style="italic">P</tspan><tspan >=.1</tspan></text>
<text x="232.00" y="331.30" font-family='"Liberation Sans", sans-serif' font-size="15.5" font-weight="normal" fill="#000" textLength="42.35" lengthAdjust="spacingAndGlyphs"><tspan font-style="italic">P</tspan><tspan >=.04</tspan></text>
<text x="314.00" y="380.00" font-family='"Liberation Sans", sans-serif' font-size="15.5" font-weight="normal" fill="#000" textLength="21.86" lengthAdjust="spacingAndGlyphs"><tspan font-style="italic">P</tspan><tspan >=</tspan></text>
<text x="306.67" y="399.60" font-family='"Liberation Sans", sans-serif' font-size="15.5" font-weight="normal" fill="#000" textLength="39.95" lengthAdjust="spacingAndGlyphs"><tspan >.0001</tspan></text>
<text x="353.80" y="376.50" font-family='"Liberation Sans", sans-serif' font-size="15.5" font-weight="normal" fill="#000" textLength="41.55" lengthAdjust="spacingAndGlyphs"><tspan font-style="italic">P</tspan><tspan >=.04</tspan></text>
<text x="399.20" y="328.50" font-family='"Liberation Sans", sans-serif' font-size="15.5" font-weight="normal" fill="#000" textLength="20.63" lengthAdjust="spacingAndGlyphs"><tspan font-style="italic">P</tspan><tspan >=</tspan></text>
<text x="395.23" y="347.70" font-family='"Liberation Sans", sans-serif' font-size="15.5" font-weight="normal" fill="#000" textLength="41.42" lengthAdjust="spacingAndGlyphs"><tspan >.0003</tspan></text>
<text x="446.30" y="384.80" font-family='"Liberation Sans", sans-serif' font-size="15.5" font-weight="normal" fill="#000" textLength="20.63" lengthAdjust="spacingAndGlyphs"><tspan font-style="italic">P</tspan><tspan >=</tspan></text>
<text x="446.70" y="403.50" font-family='"Liberation Sans", sans-serif' font-size="15.5" font-weight="normal" fill="#000" textLength="30.07" lengthAdjust="spacingAndGlyphs"><tspan >.004</tspan></text>
<text x="333.96" y="286.00" font-family='"Liberation Sans", sans-serif' font-size="19.5" font-weight="bold" fill="#000" textLength="41.69" lengthAdjust="spacingAndGlyphs"><tspan >PBS</tspan></text>
<text x="333.98" y="312.30" font-family='"Liberation Sans", sans-serif' font-size="19.5" font-weight="bold" fill="#000" textLength="85.22" lengthAdjust="spacingAndGlyphs"><tspan >CD28-SA</tspan></text>
<text transform="translate(118.00 459.50) rotate(-90)" x="-1.03" y="0" font-family='"Liberation Sans", sans-serif' font-size="19" font-weight="bold" fill="#000" textLength="30.44" lengthAdjust="spacingAndGlyphs"><tspan >Spl</tspan></text>
<text transform="translate(165.80 473.00) rotate(-90)" x="-1.01" y="0" font-family='"Liberation Sans", sans-serif' font-size="19" font-weight="bold" fill="#000" textLength="42.66" lengthAdjust="spacingAndGlyphs"><tspan >mLN</tspan></text>
<text transform="translate(210.40 468.40) rotate(-90)" x="-1.02" y="0" font-family='"Liberation Sans", sans-serif' font-size="19" font-weight="bold" fill="#000" textLength="37.78" lengthAdjust="spacingAndGlyphs"><tspan >pLN</tspan></text>
<text transform="translate(254.20 476.00) rotate(-90)" x="-1.01" y="0" font-family='"Liberation Sans", sans-serif' font-size="19" font-weight="bold" fill="#000" textLength="45.94" lengthAdjust="spacingAndGlyphs"><tspan >Liver</tspan></text>
<text transform="translate(325.00 460.30) rotate(-90)" x="-0.96" y="0" font-family='"Liberation Sans", sans-serif' font-size="19" font-weight="bold" fill="#000" textLength="28.25" lengthAdjust="spacingAndGlyphs"><tspan >Spl</tspan></text>
<text transform="translate(370.50 472.50) rotate(-90)" x="-0.95" y="0" font-family='"Liberation Sans", sans-serif' font-size="19" font-weight="bold" fill="#000" textLength="40.12" lengthAdjust="spacingAndGlyphs"><tspan >mLN</tspan></text>
<text transform="translate(415.50 468.00) rotate(-90)" x="-0.96" y="0" font-family='"Liberation Sans", sans-serif' font-size="19" font-weight="bold" fill="#000" textLength="35.35" lengthAdjust="spacingAndGlyphs"><tspan >pLN</tspan></text>
<text transform="translate(460.20 477.50) rotate(-90)" x="-1.00" y="0" font-family='"Liberation Sans", sans-serif' font-size="19" font-weight="bold" fill="#000" textLength="45.42" lengthAdjust="spacingAndGlyphs"><tspan >Liver</tspan></text>
<text x="0.41" y="520.40" font-family='"Liberation Sans", sans-serif' font-size="25" font-weight="bold" fill="#000" textLength="17.95" lengthAdjust="spacingAndGlyphs"><tspan >C</tspan></text>
<text transform="translate(17.70 739.40) rotate(-90)" x="-1.13" y="0" font-family='"Liberation Sans", sans-serif' font-size="20" font-weight="bold" fill="#000" textLength="208.14" lengthAdjust="spacingAndGlyphs"><tspan >mean clinical score</tspan></text>
<text x="101.75" y="544.50" font-family='"Liberation Sans", sans-serif' font-size="19.5" font-weight="bold" fill="#000" textLength="119.42" lengthAdjust="spacingAndGlyphs"><tspan >2.5 x 10</tspan><tspan font-size="12" dy="-7">5</tspan><tspan dy="7"> T</tspan><tspan font-size="12" dy="7">reg</tspan></text>
<text x="341.16" y="544.60" font-family='"Liberation Sans", sans-serif' font-size="19.5" font-weight="bold" fill="#000" textLength="129.13" lengthAdjust="spacingAndGlyphs"><tspan >1.25 x 10</tspan><tspan font-size="12" dy="-7">5</tspan><tspan dy="7"> T</tspan><tspan font-size="12" dy="7">reg</tspan></text>
<text x="34.10" y="728.10" font-family='"Liberation Sans", sans-serif' font-size="18.5" font-weight="normal" fill="#000" textLength="10.30" lengthAdjust="spacingAndGlyphs"><tspan >0</tspan></text>
<text x="34.10" y="686.33" font-family='"Liberation Sans", sans-serif' font-size="18.5" font-weight="normal" fill="#000" textLength="10.30" lengthAdjust="spacingAndGlyphs"><tspan >1</tspan></text>
<text x="34.10" y="644.55" font-family='"Liberation Sans", sans-serif' font-size="18.5" font-weight="normal" fill="#000" textLength="10.30" lengthAdjust="spacingAndGlyphs"><tspan >2</tspan></text>
<text x="34.10" y="602.77" font-family='"Liberation Sans", sans-serif' font-size="18.5" font-weight="normal" fill="#000" textLength="10.30" lengthAdjust="spacingAndGlyphs"><tspan >3</tspan></text>
<text x="34.10" y="561.00" font-family='"Liberation Sans", sans-serif' font-size="18.5" font-weight="normal" fill="#000" textLength="10.30" lengthAdjust="spacingAndGlyphs"><tspan >4</tspan></text>
<text x="50.83" y="749.30" font-family='"Liberation Sans", sans-serif' font-size="18.5" font-weight="normal" fill="#000" textLength="12.01" lengthAdjust="spacingAndGlyphs"><tspan >0</tspan></text>
<text x="95.24" y="749.30" font-family='"Liberation Sans", sans-serif' font-size="18.5" font-weight="normal" fill="#000" textLength="20.85" lengthAdjust="spacingAndGlyphs"><tspan >10</tspan></text>
<text x="146.95" y="749.30" font-family='"Liberation Sans", sans-serif' font-size="18.5" font-weight="normal" fill="#000" textLength="21.66" lengthAdjust="spacingAndGlyphs"><tspan >20</tspan></text>
<text x="200.93" y="749.30" font-family='"Liberation Sans", sans-serif' font-size="18.5" font-weight="normal" fill="#000" textLength="21.99" lengthAdjust="spacingAndGlyphs"><tspan >30</tspan></text>
<text x="255.50" y="749.30" font-family='"Liberation Sans", sans-serif' font-size="18.5" font-weight="normal" fill="#000" textLength="20.78" lengthAdjust="spacingAndGlyphs"><tspan >40</tspan></text>
<text x="292.64" y="749.30" font-family='"Liberation Sans", sans-serif' font-size="18.5" font-weight="normal" fill="#000" textLength="11.44" lengthAdjust="spacingAndGlyphs"><tspan >0</tspan></text>
<text x="336.47" y="749.30" font-family='"Liberation Sans", sans-serif' font-size="18.5" font-weight="normal" fill="#000" textLength="21.12" lengthAdjust="spacingAndGlyphs"><tspan >10</tspan></text>
<text x="388.95" y="749.30" font-family='"Liberation Sans", sans-serif' font-size="18.5" font-weight="normal" fill="#000" textLength="21.66" lengthAdjust="spacingAndGlyphs"><tspan >20</tspan></text>
<text x="442.96" y="749.30" font-family='"Liberation Sans", sans-serif' font-size="18.5" font-weight="normal" fill="#000" textLength="21.44" lengthAdjust="spacingAndGlyphs"><tspan >30</tspan></text>
<text x="497.00" y="749.30" font-family='"Liberation Sans", sans-serif' font-size="18.5" font-weight="normal" fill="#000" textLength="20.06" lengthAdjust="spacingAndGlyphs"><tspan >40</tspan></text>
<text x="143.96" y="777.30" font-family='"Liberation Sans", sans-serif' font-size="22.5" font-weight="normal" fill="#000" textLength="49.49" lengthAdjust="spacingAndGlyphs"><tspan >days</tspan></text>
<text x="385.45" y="777.50" font-family='"Liberation Sans", sans-serif' font-size="22.5" font-weight="normal" fill="#000" textLength="50.11" lengthAdjust="spacingAndGlyphs"><tspan >days</tspan></text>
<text x="216.00" y="771.00" font-family='"Liberation Sans", sans-serif' font-size="15" font-weight="normal" fill="#000" textLength="54.43" lengthAdjust="spacingAndGlyphs"><tspan >ANOVA</tspan></text>
<text x="226.60" y="790.00" font-family='"Liberation Sans", sans-serif' font-size="15" font-weight="normal" fill="#000" textLength="26.92" lengthAdjust="spacingAndGlyphs"><tspan font-style="italic">P</tspan><tspan >=1</tspan></text>
<text x="463.80" y="770.40" font-family='"Liberation Sans", sans-serif' font-size="15" font-weight="normal" fill="#000" textLength="53.72" lengthAdjust="spacingAndGlyphs"><tspan >ANOVA</tspan></text>
<text x="472.30" y="791.00" font-family='"Liberation Sans", sans-serif' font-size="15" font-weight="normal" fill="#000" textLength="32.61" lengthAdjust="spacingAndGlyphs"><tspan font-style="italic">P</tspan><tspan >=.1</tspan></text>
<text x="90.20" y="820.80" font-family='"Liberation Sans", sans-serif' font-size="19" font-weight="bold" fill="#000" textLength="123.83" lengthAdjust="spacingAndGlyphs"><tspan >TCD BM only</tspan></text>
<text x="90.20" y="850.00" font-family='"Liberation Sans", sans-serif' font-size="19" font-weight="bold" fill="#000" textLength="268.04" lengthAdjust="spacingAndGlyphs"><tspan >TCD BM + CD4</tspan><tspan font-size="11" dy="-7">+</tspan><tspan dy="7"> CD25</tspan><tspan font-size="11" dy="-7">-</tspan><tspan dy="7"> (PBS)</tspan></text>
<text x="90.20" y="878.80" font-family='"Liberation Sans", sans-serif' font-size="19" font-weight="bold" fill="#000" textLength="426.04" lengthAdjust="spacingAndGlyphs"><tspan >TCD BM + CD4</tspan><tspan font-size="11" dy="-7">+</tspan><tspan dy="7"> CD25</tspan><tspan font-size="11" dy="-7">-</tspan><tspan dy="7"> (PBS) + T</tspan><tspan font-size="12" dy="8.5">reg</tspan><tspan dy="-8.5"> (CD28-SA)</tspan></text>
<text x="90.20" y="908.50" font-family='"Liberation Sans", sans-serif' font-size="19" font-weight="bold" fill="#000" textLength="380.26" lengthAdjust="spacingAndGlyphs"><tspan >TCD BM + CD4</tspan><tspan font-size="11" dy="-7">+</tspan><tspan dy="7"> CD25</tspan><tspan font-size="11" dy="-7">-</tspan><tspan dy="7">(PBS) + T</tspan><tspan font-size="12" dy="8.5">reg</tspan><tspan dy="-8.5"> (PBS)</tspan></text>
</svg>
</body></html>
